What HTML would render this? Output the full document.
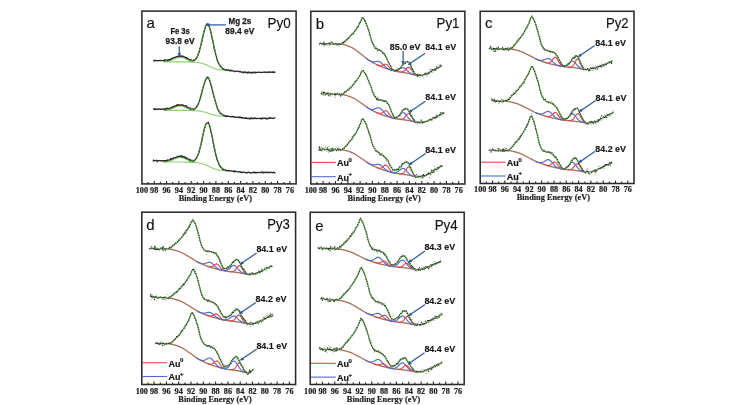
<!DOCTYPE html>
<html><head><meta charset="utf-8"><title>XPS Au 4f spectra</title>
<style>
html,body{margin:0;padding:0;background:#fff;}
body{width:754px;height:405px;overflow:hidden;}
svg{display:block;filter:blur(0.45px);}
.tk{font-family:"Liberation Serif",serif;font-weight:bold;font-size:8.2px;fill:#1a1a1a;stroke:#1a1a1a;stroke-width:0.2px;}
.xl{font-family:"Liberation Serif",serif;font-weight:bold;font-size:8.3px;fill:#222;stroke:#222;stroke-width:0.2px;}
.pl{font-family:"Liberation Sans",sans-serif;font-size:15px;fill:#111;stroke:#111;stroke-width:0.15px;}
.py{font-family:"Liberation Sans",sans-serif;font-size:14.8px;fill:#111;stroke:#111;stroke-width:0.15px;}
.lb{font-family:"Liberation Sans",sans-serif;font-weight:bold;font-size:9px;fill:#151515;stroke:#151515;stroke-width:0.12px;}
.ab{font-family:"Liberation Sans",sans-serif;font-weight:bold;font-size:9px;fill:#1a1a1a;stroke:#1a1a1a;stroke-width:0.25px;}
.lg{font-family:"Liberation Sans",sans-serif;font-weight:bold;font-size:9px;fill:#151515;stroke:#151515;stroke-width:0.2px;}
.sup{font-size:6.0px;}
</style></head>
<body>
<svg width="754" height="405" viewBox="0 0 754 405">
<defs><marker id="ah" viewBox="0 0 10 10" refX="8" refY="5" markerWidth="3" markerHeight="3" orient="auto"><path d="M0,0 L10,5 L0,10 z" fill="#2d5c98"/></marker></defs>
<rect width="754" height="405" fill="#fff"/>
<path d="M163.4 61.8L163.9 61.8L164.4 61.8L164.8 61.8L165.3 61.8L165.8 61.8L166.3 61.8L166.8 61.8L167.3 61.8L167.8 61.8L168.3 61.8L168.8 61.8L169.3 61.8L169.8 61.8L170.3 61.8L170.8 61.8L171.3 61.8L171.8 61.8L172.2 61.8L172.7 61.8L173.2 61.8L173.7 61.8L174.2 61.8L174.7 61.8L175.2 61.8L175.7 61.8L176.2 61.8L176.7 61.8L177.2 61.8L177.7 61.8L178.2 61.8L178.7 61.8L179.2 61.8L179.6 61.8L180.1 61.8L180.6 61.8L181.1 61.8L181.6 61.8L182.1 61.8L182.6 61.8L183.1 61.8L183.6 61.8L184.1 61.8L184.6 61.8L185.1 61.8L185.6 61.9L186.1 61.9L186.6 61.9L187 61.9L187.5 61.9L188 61.9L188.5 61.9L189 61.9L189.5 61.9L190 61.9L190.5 62L191 62L191.5 62L192 62L192.5 62L193 62.1L193.5 62.1L194 62.1L194.5 62.2L194.9 62.2L195.4 62.2L195.9 62.3L196.4 62.3L196.9 62.4L197.4 62.4L197.9 62.5L198.4 62.6L198.9 62.7L199.4 62.8L199.9 62.8L200.4 63L200.9 63.1L201.4 63.2L201.9 63.3L202.3 63.4L202.8 63.6L203.3 63.8L203.8 63.9L204.3 64.1L204.8 64.3L205.3 64.5L205.8 64.7L206.3 64.9L206.8 65.1L207.3 65.3L207.8 65.6L208.3 65.8L208.8 66L209.3 66.3L209.7 66.5L210.2 66.7L210.7 67L211.2 67.2L211.7 67.4L212.2 67.6L212.7 67.8L213.2 68L213.7 68.2L214.2 68.4L214.7 68.6L215.2 68.7L215.7 68.9L216.2 69L216.7 69.2L217.1 69.3L217.6 69.4L218.1 69.5L218.6 69.6L219.1 69.7L219.6 69.8L220.1 69.8L220.6 69.9L221.1 70L221.6 70L222.1 70.1L222.6 70.1L223.1 70.2L223.6 70.2L224.1 70.3L224.6 70.3L225 70.3L225.5 70.4L226 70.4L226.5 70.4L227 70.4L227.5 70.4L228 70.5L228.5 70.5L229 70.5L229.5 70.5" fill="none" stroke="#92d276" stroke-width="1.15" stroke-linejoin="round" />
<path d="M189 61.8L189.5 61.8L190 61.8L190.5 61.8L191 61.7L191.5 61.7L192 61.6L192.5 61.5L193 61.3L193.5 61.1L194 60.9L194.5 60.6L194.9 60.2L195.4 59.7L195.9 59.1L196.4 58.4L196.9 57.6L197.4 56.7L197.9 55.6L198.4 54.4L198.9 53L199.4 51.4L199.9 49.7L200.4 47.9L200.9 45.9L201.4 43.9L201.9 41.7L202.3 39.5L202.8 37.4L203.3 35.2L203.8 33.2L204.3 31.2L204.8 29.5L205.3 28L205.8 26.7L206.3 25.7L206.8 25.1L207.3 24.8L207.8 24.8L208.3 25.2L208.8 26L209.3 27L209.7 28.4L210.2 30.1L210.7 32L211.2 34L211.7 36.3L212.2 38.6L212.7 41L213.2 43.4L213.7 45.8L214.2 48.1L214.7 50.3L215.2 52.5L215.7 54.4L216.2 56.3L216.7 58L217.1 59.6L217.6 61L218.1 62.2L218.6 63.4L219.1 64.4L219.6 65.2L220.1 66L220.6 66.7L221.1 67.2L221.6 67.7L222.1 68.2L222.6 68.5L223.1 68.9L223.6 69.1L224.1 69.3L224.6 69.5L225 69.7L225.5 69.8" fill="none" stroke="#72bf56" stroke-width="1.1" stroke-linejoin="round" />
<path d="M163.4 61.7L163.9 61.7L164.4 61.6L164.8 61.6L165.3 61.5L165.8 61.5L166.3 61.4L166.8 61.4L167.3 61.3L167.8 61.2L168.3 61.1L168.8 61L169.3 60.8L169.8 60.7L170.3 60.5L170.8 60.4L171.3 60.2L171.8 60L172.2 59.8L172.7 59.6L173.2 59.3L173.7 59.1L174.2 58.9L174.7 58.7L175.2 58.5L175.7 58.3L176.2 58.1L176.7 57.9L177.2 57.7L177.7 57.6L178.2 57.4L178.7 57.3L179.2 57.3L179.6 57.2L180.1 57.2L180.6 57.2L181.1 57.3L181.6 57.4L182.1 57.5L182.6 57.6L183.1 57.7L183.6 57.9L184.1 58.1L184.6 58.3L185.1 58.5L185.6 58.7L186.1 59L186.6 59.2L187 59.4L187.5 59.6L188 59.9L188.5 60.1L189 60.3L189.5 60.5L190 60.7L190.5 60.8L191 61L191.5 61.1L192 61.3L192.5 61.4L193 61.5L193.5 61.6L194 61.7" fill="none" stroke="#72bf56" stroke-width="1.1" stroke-linejoin="round" />
<path d="M153 60.7L153.5 60.8L154 60.7L154.5 60.2L155 60.9L155.5 60.7L156 60.4L156.5 60.8L156.9 60.7L157.4 60.7L157.9 60.6L158.4 60.8L158.9 60.4L159.4 60.5L159.9 60.4L160.4 60.8L160.9 60.6L161.4 60.5L161.9 60.3L162.4 60.5L162.9 60.5L163.4 60.4L163.9 60.8L164.4 60.7L164.8 59.6L165.3 59.8L165.8 60.2L166.3 60.1L166.8 60.2L167.3 60.1L167.8 60.6L168.3 59.5L168.8 59.6L169.3 60.2L169.8 59.7L170.3 59.5L170.8 59L171.3 58.5L171.8 58.8L172.2 58.6L172.7 58L173.2 57.9L173.7 57.9L174.2 57.4L174.7 57.5L175.2 57.3L175.7 57.1L176.2 56.7L176.7 56.9L177.2 56.8L177.7 56.5L178.2 56L178.7 56.4L179.2 55.9L179.6 56.3L180.1 55.7L180.6 56.3L181.1 56.1L181.6 55.8L182.1 56.2L182.6 56.4L183.1 56.6L183.6 56.4L184.1 56.6L184.6 57.2L185.1 57.2L185.6 57.6L186.1 58L186.6 57.6L187 58.4L187.5 58.9L188 58.7L188.5 58.8L189 59.5L189.5 59.6L190 60L190.5 59.9L191 59.7L191.5 60.3L192 60.3L192.5 60.7L193 60.6L193.5 60L194 60L194.5 60.4L194.9 60L195.4 59.1L195.9 58.8L196.4 58.2L196.9 57.4L197.4 56.5L197.9 55.2L198.4 53.8L198.9 52.3L199.4 51.1L199.9 48.4L200.4 47.1L200.9 45.2L201.4 42.6L201.9 41L202.3 38.5L202.8 36.8L203.3 34.3L203.8 32.5L204.3 30.8L204.8 28.8L205.3 26.9L205.8 25.4L206.3 25.5L206.8 24.3L207.3 23.8L207.8 24.2L208.3 24.5L208.8 25.6L209.3 26.5L209.7 27.9L210.2 29.3L210.7 31.6L211.2 33.3L211.7 36L212.2 38.6L212.7 40.1L213.2 42.3L213.7 45.6L214.2 48.6L214.7 49.7L215.2 51.8L215.7 54.4L216.2 55.8L216.7 57.7L217.1 59.3L217.6 61L218.1 62L218.6 63.3L219.1 64.2L219.6 64.9L220.1 65.8L220.6 66.3L221.1 67.2L221.6 67.3L222.1 67.8L222.6 68.9L223.1 68.8L223.6 69.1L224.1 69.5L224.6 69.4L225 69.6L225.5 69.9L226 70L226.5 69.7L227 70.4L227.5 70L228 69.9L228.5 70.1L229 70.3L229.5 71L230 70.2L230.5 70.7L231 70.1L231.5 70.8L232 71.1L232.4 70.8L232.9 70.7L233.4 71.1L233.9 71.2L234.4 71.3L234.9 71.7L235.4 71.2L235.9 71.1L236.4 71.2L236.9 71.3L237.4 71.4L237.9 71.4L238.4 71.5L238.9 71.1L239.4 71.9L239.8 71.5L240.3 71.4L240.8 72L241.3 72.3L241.8 72.1L242.3 72.1L242.8 71.8L243.3 73L243.8 72.5L244.3 71.9L244.8 72.1L245.3 72.4L245.8 72L246.3 72.6L246.8 72.5L247.2 73L247.7 72.9L248.2 71.8L248.7 72.6L249.2 72.1L249.7 72.9L250.2 72.6L250.7 72.7L251.2 72.2L251.7 73.1L252.2 73.1L252.7 72.2L253.2 72.6L253.7 72.3L254.2 72.5L254.7 72.1L255.1 73.1L255.6 72.2L256.1 72.4L256.6 72.6L257.1 72.3L257.6 72.4L258.1 72.3L258.6 72.4L259.1 72.1L259.6 72.3L260.1 72.4L260.6 72.3L261.1 72.4L261.6 72.3L262.1 72.6L262.5 72.3L263 72.3L263.5 72.2L264 72.2L264.5 72L265 72.5L265.5 72L266 72.1L266.5 72.5L267 72.5L267.5 72.2L268 71.7L268.5 72.4L269 72.4L269.5 71.9L269.9 72.5L270.4 72.1L270.9 71.9L271.4 72.3L271.9 72.2L272.4 72.3L272.9 71.8L273.4 72.8L273.9 72.1L274.4 71.8L274.9 72.4L275.4 72.1" fill="none" stroke="#2b2b2b" stroke-width="1.25" stroke-linejoin="round" />
<path d="M187.7 59.6L188.2 59.8L188.7 60L189.2 60.2L189.7 60.3L190.2 60.5L190.6 60.6L191.1 60.6L191.6 60.7L192.1 60.6L192.6 60.6L193.1 60.5L193.6 60.3L194.1 60.1L194.6 59.7L195.1 59.3L195.6 58.8L196.1 58.1L196.6 57.3L197.1 56.4L197.6 55.3L198 54.1L198.5 52.7L199 51.2L199.5 49.5L200 47.7L200.5 45.7L201 43.6L201.5 41.5L202 39.3L202.5 37.2L203 35L203.5 33L204 31L204.5 29.3L205 27.8L205.5 26.5L205.9 25.5L206.4 24.9L206.9 24.6L208.1 24.6L208.6 25L209.1 25.8L209.6 26.8L210.1 28.2L210.6 29.9L211.1 31.8L211.6 33.8L212.1 36.1L212.6 38.4L213.1 40.8L213.6 43.2L214 45.6L214.5 47.9L215 50.1L215.5 52.3L216 54.2L216.5 56.1L217 57.8L217.5 59.4L218 60.8L218.5 62L219 63.2L219.5 64.2L220 65L220.5 65.8L221 66.5L221.4 67L221.9 67.5L222.4 68L222.9 68.3L223.4 68.7L223.9 68.9L224.4 69.1L224.9 69.3" fill="none" stroke="#72bf56" stroke-width="0.95" stroke-linejoin="round" stroke-dasharray="2.2 1.3"/>
<path d="M163.4 110.4L163.9 110.4L164.4 110.4L164.8 110.4L165.3 110.4L165.8 110.4L166.3 110.4L166.8 110.4L167.3 110.4L167.8 110.4L168.3 110.4L168.8 110.4L169.3 110.4L169.8 110.4L170.3 110.4L170.8 110.4L171.3 110.4L171.8 110.4L172.2 110.4L172.7 110.4L173.2 110.4L173.7 110.4L174.2 110.4L174.7 110.4L175.2 110.4L175.7 110.4L176.2 110.4L176.7 110.4L177.2 110.4L177.7 110.4L178.2 110.4L178.7 110.4L179.2 110.4L179.6 110.4L180.1 110.4L180.6 110.4L181.1 110.4L181.6 110.4L182.1 110.4L182.6 110.4L183.1 110.4L183.6 110.4L184.1 110.4L184.6 110.4L185.1 110.4L185.6 110.4L186.1 110.4L186.6 110.4L187 110.5L187.5 110.5L188 110.5L188.5 110.5L189 110.5L189.5 110.5L190 110.5L190.5 110.5L191 110.5L191.5 110.5L192 110.5L192.5 110.6L193 110.6L193.5 110.6L194 110.6L194.5 110.6L194.9 110.7L195.4 110.7L195.9 110.7L196.4 110.8L196.9 110.8L197.4 110.9L197.9 110.9L198.4 111L198.9 111L199.4 111.1L199.9 111.1L200.4 111.2L200.9 111.3L201.4 111.4L201.9 111.5L202.3 111.6L202.8 111.7L203.3 111.8L203.8 111.9L204.3 112L204.8 112.1L205.3 112.3L205.8 112.4L206.3 112.6L206.8 112.7L207.3 112.9L207.8 113L208.3 113.2L208.8 113.4L209.3 113.5L209.7 113.7L210.2 113.9L210.7 114L211.2 114.2L211.7 114.3L212.2 114.5L212.7 114.6L213.2 114.8L213.7 114.9L214.2 115L214.7 115.2L215.2 115.3L215.7 115.4L216.2 115.5L216.7 115.6L217.1 115.7L217.6 115.8L218.1 115.8L218.6 115.9L219.1 116L219.6 116L220.1 116.1L220.6 116.1L221.1 116.2L221.6 116.2L222.1 116.2L222.6 116.3L223.1 116.3L223.6 116.3L224.1 116.4L224.6 116.4L225 116.4L225.5 116.4L226 116.4L226.5 116.5L227 116.5L227.5 116.5L228 116.5L228.5 116.5L229 116.5L229.5 116.5" fill="none" stroke="#92d276" stroke-width="1.15" stroke-linejoin="round" />
<path d="M189 110.4L189.5 110.4L190 110.4L190.5 110.4L191 110.3L191.5 110.3L192 110.2L192.5 110.1L193 110L193.5 109.8L194 109.6L194.5 109.3L194.9 109L195.4 108.5L195.9 108L196.4 107.4L196.9 106.7L197.4 105.9L197.9 105L198.4 103.9L198.9 102.7L199.4 101.4L199.9 99.9L200.4 98.3L200.9 96.6L201.4 94.8L201.9 93L202.3 91.1L202.8 89.2L203.3 87.4L203.8 85.6L204.3 83.9L204.8 82.4L205.3 81L205.8 79.9L206.3 79.1L206.8 78.5L207.3 78.2L207.8 78.2L208.3 78.5L208.8 79.1L209.3 80L209.7 81.1L210.2 82.5L210.7 84.1L211.2 85.8L211.7 87.7L212.2 89.7L212.7 91.7L213.2 93.7L213.7 95.7L214.2 97.7L214.7 99.6L215.2 101.4L215.7 103L216.2 104.6L216.7 106.1L217.1 107.4L217.6 108.6L218.1 109.6L218.6 110.6L219.1 111.4L219.6 112.1L220.1 112.8L220.6 113.3L221.1 113.8L221.6 114.2L222.1 114.6L222.6 114.9L223.1 115.2L223.6 115.4L224.1 115.6L224.6 115.7L225 115.9L225.5 116" fill="none" stroke="#72bf56" stroke-width="1.1" stroke-linejoin="round" />
<path d="M163.4 110.3L163.9 110.3L164.4 110.2L164.8 110.2L165.3 110.1L165.8 110.1L166.3 110L166.8 110L167.3 109.9L167.8 109.8L168.3 109.7L168.8 109.6L169.3 109.4L169.8 109.3L170.3 109.2L170.8 109L171.3 108.8L171.8 108.6L172.2 108.4L172.7 108.2L173.2 108L173.7 107.8L174.2 107.6L174.7 107.3L175.2 107.1L175.7 106.9L176.2 106.7L176.7 106.6L177.2 106.4L177.7 106.3L178.2 106.1L178.7 106L179.2 106L179.6 105.9L180.1 105.9L180.6 105.9L181.1 106L181.6 106L182.1 106.1L182.6 106.3L183.1 106.4L183.6 106.6L184.1 106.8L184.6 107L185.1 107.2L185.6 107.4L186.1 107.6L186.6 107.8L187 108L187.5 108.3L188 108.5L188.5 108.7L189 108.9L189.5 109.1L190 109.2L190.5 109.4L191 109.6L191.5 109.7L192 109.8L192.5 110L193 110.1L193.5 110.2L194 110.3" fill="none" stroke="#72bf56" stroke-width="1.1" stroke-linejoin="round" />
<path d="M153 109.3L153.5 109L154 109.1L154.5 108.5L155 109.7L155.5 109.5L156 109.1L156.5 109.4L156.9 109.3L157.4 109L157.9 109.5L158.4 109.1L158.9 109.1L159.4 108.9L159.9 109.3L160.4 109.1L160.9 109.3L161.4 109L161.9 109.2L162.4 108.9L162.9 109.4L163.4 109.1L163.9 109.2L164.4 109.2L164.8 108.7L165.3 109.2L165.8 109.5L166.3 108.3L166.8 108.2L167.3 108.2L167.8 108.8L168.3 108.5L168.8 108.7L169.3 108.5L169.8 108.2L170.3 108L170.8 107.7L171.3 107.9L171.8 107.1L172.2 107.1L172.7 107.1L173.2 107.3L173.7 106.4L174.2 106L174.7 106L175.2 106.2L175.7 105.7L176.2 105.9L176.7 104.8L177.2 105.5L177.7 105.4L178.2 104.5L178.7 104.9L179.2 105.1L179.6 104.8L180.1 105L180.6 105.4L181.1 104.9L181.6 104.8L182.1 104.7L182.6 105.3L183.1 105.2L183.6 105.3L184.1 105.5L184.6 106L185.1 105.7L185.6 105.8L186.1 105.7L186.6 107.1L187 107L187.5 107.6L188 107.4L188.5 107.5L189 108.1L189.5 108.1L190 108L190.5 108.3L191 109.3L191.5 109L192 109.2L192.5 109L193 108.9L193.5 109.4L194 109L194.5 108.6L194.9 108.5L195.4 107.9L195.9 107.8L196.4 107.4L196.9 106.1L197.4 106L197.9 104.3L198.4 103.5L198.9 101.9L199.4 100.7L199.9 99.2L200.4 97.5L200.9 95.6L201.4 93.8L201.9 91.9L202.3 89.8L202.8 88.3L203.3 86.6L203.8 85L204.3 83.3L204.8 82.3L205.3 80.3L205.8 79L206.3 78.9L206.8 77.4L207.3 77.8L207.8 77.2L208.3 77.9L208.8 77.9L209.3 79.7L209.7 80.5L210.2 81.7L210.7 84.1L211.2 85.6L211.7 87.3L212.2 89L212.7 91.3L213.2 93.3L213.7 95.6L214.2 97.6L214.7 99.1L215.2 100.9L215.7 102.6L216.2 104L216.7 105.7L217.1 107.2L217.6 108.6L218.1 109.9L218.6 110.2L219.1 111.4L219.6 111.9L220.1 113.3L220.6 113.2L221.1 113.9L221.6 113.9L222.1 114.3L222.6 114.9L223.1 115L223.6 115.4L224.1 115.1L224.6 115.9L225 115.6L225.5 116.5L226 116L226.5 116.5L227 115.8L227.5 116.4L228 116.1L228.5 116.2L229 116.5L229.5 116.4L230 116.7L230.5 116.9L231 116.9L231.5 116.7L232 116.4L232.4 116.6L232.9 116.8L233.4 116.3L233.9 117.2L234.4 116.9L234.9 116.9L235.4 117.3L235.9 117.3L236.4 117.2L236.9 116.8L237.4 117.3L237.9 117.3L238.4 117L238.9 117.7L239.4 117.6L239.8 116.9L240.3 117.6L240.8 117.2L241.3 118L241.8 118L242.3 117.5L242.8 117.6L243.3 118L243.8 117.9L244.3 118.5L244.8 118.4L245.3 118.1L245.8 118.4L246.3 117.7L246.8 118.5L247.2 118.7L247.7 118.3L248.2 118.2L248.7 118.6L249.2 119L249.7 118.5L250.2 118.1L250.7 118.8L251.2 117.8L251.7 118.5L252.2 118.2L252.7 118.7L253.2 118.1L253.7 118.8L254.2 118.5L254.7 117.9L255.1 117.8L255.6 118.3L256.1 118.8L256.6 118.4L257.1 118.4L257.6 118.3L258.1 118.6L258.6 118.5L259.1 118.4L259.6 118.1L260.1 118.7L260.6 118.8L261.1 118L261.6 119L262.1 118.6L262.5 118.2L263 117.8L263.5 118.5L264 118.5L264.5 118.2L265 117.8L265.5 118.7L266 118.2L266.5 118.2L267 119.2L267.5 119L268 118.6L268.5 118.2L269 118.5L269.5 117.6L269.9 118.4L270.4 118.1L270.9 117.9L271.4 117.8L271.9 118.5L272.4 118.3L272.9 118.4L273.4 118.6L273.9 118.1L274.4 117.9L274.9 117.8L275.4 118.2" fill="none" stroke="#2b2b2b" stroke-width="1.25" stroke-linejoin="round" />
<path d="M187.7 108.3L188.2 108.4L188.7 108.6L189.2 108.8L189.7 108.9L190.2 109.1L190.6 109.2L191.1 109.2L191.6 109.3L192.1 109.3L192.6 109.2L193.1 109.1L193.6 109L194.1 108.8L194.6 108.5L195.1 108.1L195.6 107.7L196.1 107.1L196.6 106.4L197.1 105.6L197.6 104.7L198 103.7L198.5 102.5L199 101.1L199.5 99.7L200 98.1L200.5 96.4L201 94.6L201.5 92.8L202 90.9L202.5 89L203 87.2L203.5 85.4L204 83.7L204.5 82.2L205 80.8L205.5 79.7L205.9 78.9L206.4 78.3L206.9 78L208.1 78L208.6 78.3L209.1 78.9L209.6 79.8L210.1 80.9L210.6 82.3L211.1 83.9L211.6 85.6L212.1 87.5L212.6 89.5L213.1 91.5L213.6 93.5L214 95.5L214.5 97.5L215 99.4L215.5 101.2L216 102.8L216.5 104.4L217 105.9L217.5 107.2L218 108.4L218.5 109.4L219 110.4L219.5 111.2L220 111.9L220.5 112.6L221 113.1L221.4 113.6L221.9 114L222.4 114.4L222.9 114.7L223.4 115L223.9 115.2L224.4 115.4L224.9 115.5" fill="none" stroke="#72bf56" stroke-width="0.95" stroke-linejoin="round" stroke-dasharray="2.2 1.3"/>
<path d="M163.4 162L163.9 162L164.4 162L164.8 162L165.3 162L165.8 162L166.3 162L166.8 162L167.3 162L167.8 162L168.3 162L168.8 162L169.3 162L169.8 162L170.3 162L170.8 162L171.3 162L171.8 162L172.2 162L172.7 162L173.2 162L173.7 162L174.2 162L174.7 162L175.2 162L175.7 162L176.2 162L176.7 162L177.2 162L177.7 162L178.2 162L178.7 162L179.2 162L179.6 162L180.1 162L180.6 162L181.1 162L181.6 162L182.1 162L182.6 162L183.1 162L183.6 162L184.1 162L184.6 162L185.1 162L185.6 162.1L186.1 162.1L186.6 162.1L187 162.1L187.5 162.1L188 162.1L188.5 162.1L189 162.1L189.5 162.1L190 162.1L190.5 162.2L191 162.2L191.5 162.2L192 162.2L192.5 162.2L193 162.3L193.5 162.3L194 162.3L194.5 162.4L194.9 162.4L195.4 162.4L195.9 162.5L196.4 162.5L196.9 162.6L197.4 162.7L197.9 162.7L198.4 162.8L198.9 162.9L199.4 163L199.9 163.1L200.4 163.2L200.9 163.3L201.4 163.4L201.9 163.5L202.3 163.7L202.8 163.8L203.3 164L203.8 164.2L204.3 164.4L204.8 164.5L205.3 164.7L205.8 164.9L206.3 165.2L206.8 165.4L207.3 165.6L207.8 165.8L208.3 166.1L208.8 166.3L209.3 166.6L209.7 166.8L210.2 167L210.7 167.3L211.2 167.5L211.7 167.7L212.2 167.9L212.7 168.2L213.2 168.4L213.7 168.6L214.2 168.7L214.7 168.9L215.2 169.1L215.7 169.2L216.2 169.4L216.7 169.5L217.1 169.6L217.6 169.8L218.1 169.9L218.6 170L219.1 170.1L219.6 170.2L220.1 170.2L220.6 170.3L221.1 170.4L221.6 170.4L222.1 170.5L222.6 170.5L223.1 170.6L223.6 170.6L224.1 170.7L224.6 170.7L225 170.7L225.5 170.7L226 170.8L226.5 170.8L227 170.8L227.5 170.8L228 170.9L228.5 170.9L229 170.9L229.5 170.9" fill="none" stroke="#92d276" stroke-width="1.15" stroke-linejoin="round" />
<path d="M189 162L189.5 162L190 162L190.5 162L191 161.9L191.5 161.9L192 161.8L192.5 161.6L193 161.5L193.5 161.3L194 161L194.5 160.7L194.9 160.3L195.4 159.8L195.9 159.2L196.4 158.5L196.9 157.6L197.4 156.6L197.9 155.5L198.4 154.2L198.9 152.7L199.4 151.1L199.9 149.3L200.4 147.3L200.9 145.3L201.4 143.1L201.9 140.9L202.3 138.6L202.8 136.3L203.3 134L203.8 131.9L204.3 129.8L204.8 128L205.3 126.4L205.8 125L206.3 124L206.8 123.3L207.3 123L207.8 123L208.3 123.4L208.8 124.2L209.3 125.3L209.7 126.8L210.2 128.5L210.7 130.5L211.2 132.7L211.7 135L212.2 137.5L212.7 140L213.2 142.5L213.7 145L214.2 147.4L214.7 149.8L215.2 152L215.7 154.1L216.2 156L216.7 157.8L217.1 159.5L217.6 160.9L218.1 162.3L218.6 163.4L219.1 164.5L219.6 165.4L220.1 166.2L220.6 166.9L221.1 167.5L221.6 168L222.1 168.5L222.6 168.8L223.1 169.2L223.6 169.5L224.1 169.7L224.6 169.9L225 170.1L225.5 170.2" fill="none" stroke="#72bf56" stroke-width="1.1" stroke-linejoin="round" />
<path d="M163.4 161.9L163.9 161.9L164.4 161.8L164.8 161.8L165.3 161.7L165.8 161.7L166.3 161.6L166.8 161.6L167.3 161.5L167.8 161.4L168.3 161.3L168.8 161.2L169.3 161L169.8 160.9L170.3 160.7L170.8 160.6L171.3 160.4L171.8 160.2L172.2 160L172.7 159.8L173.2 159.5L173.7 159.3L174.2 159.1L174.7 158.9L175.2 158.7L175.7 158.5L176.2 158.3L176.7 158.1L177.2 157.9L177.7 157.8L178.2 157.6L178.7 157.5L179.2 157.5L179.6 157.4L180.1 157.4L180.6 157.4L181.1 157.5L181.6 157.6L182.1 157.7L182.6 157.8L183.1 157.9L183.6 158.1L184.1 158.3L184.6 158.5L185.1 158.7L185.6 158.9L186.1 159.2L186.6 159.4L187 159.6L187.5 159.8L188 160.1L188.5 160.3L189 160.5L189.5 160.7L190 160.9L190.5 161L191 161.2L191.5 161.3L192 161.5L192.5 161.6L193 161.7L193.5 161.8L194 162" fill="none" stroke="#72bf56" stroke-width="1.1" stroke-linejoin="round" />
<path d="M153 161.4L153.5 160L154 160.9L154.5 160.6L155 160.7L155.5 160.7L156 160.2L156.5 160.7L156.9 160.5L157.4 161.8L157.9 160.9L158.4 160.7L158.9 160.7L159.4 160.6L159.9 160.5L160.4 160.7L160.9 160.9L161.4 160.7L161.9 161L162.4 160.7L162.9 160.7L163.4 161.2L163.9 160.8L164.4 160.5L164.8 160.5L165.3 160.7L165.8 161.1L166.3 160.3L166.8 160.3L167.3 160.6L167.8 159.9L168.3 160L168.8 160.2L169.3 160L169.8 159.7L170.3 159.7L170.8 158.5L171.3 159.5L171.8 158.7L172.2 158.3L172.7 158.6L173.2 158.6L173.7 158L174.2 157.6L174.7 157.7L175.2 157.5L175.7 157.7L176.2 157.3L176.7 156.9L177.2 157L177.7 156.5L178.2 156.2L178.7 156.5L179.2 156.4L179.6 156.2L180.1 156L180.6 156.3L181.1 155.5L181.6 156.6L182.1 156.6L182.6 156.1L183.1 156.8L183.6 156.6L184.1 157.3L184.6 156.7L185.1 157.3L185.6 158L186.1 158.4L186.6 157.6L187 158.4L187.5 158.9L188 158.8L188.5 159.7L189 159.2L189.5 159.8L190 159.6L190.5 160.6L191 160.3L191.5 160.4L192 160.1L192.5 161.2L193 160.9L193.5 160.8L194 160.8L194.5 160.3L194.9 159.7L195.4 159.2L195.9 158.6L196.4 158.5L196.9 156.8L197.4 156L197.9 154.9L198.4 153.7L198.9 152.3L199.4 150.1L199.9 148.1L200.4 146.6L200.9 144.9L201.4 142.5L201.9 140.1L202.3 137.6L202.8 135.5L203.3 133.1L203.8 131.2L204.3 128.7L204.8 127.2L205.3 125.5L205.8 124.4L206.3 123.3L206.8 123.3L207.3 122.7L207.8 122.8L208.3 122.2L208.8 123.5L209.3 124.6L209.7 126.4L210.2 127.3L210.7 130.4L211.2 132.5L211.7 134.2L212.2 136.8L212.7 139.3L213.2 142.1L213.7 144.8L214.2 147.7L214.7 149.4L215.2 152L215.7 153.9L216.2 156.3L216.7 157.8L217.1 159.7L217.6 160.4L218.1 162L218.6 163.1L219.1 164.8L219.6 165.5L220.1 166L220.6 166.7L221.1 167.6L221.6 167.7L222.1 168.1L222.6 168.9L223.1 169.9L223.6 169.3L224.1 169.5L224.6 169.5L225 169.6L225.5 170.3L226 170.6L226.5 170.4L227 170.6L227.5 170.6L228 170.7L228.5 170.3L229 170.7L229.5 170.9L230 170.7L230.5 170.8L231 170.8L231.5 171L232 171.4L232.4 171L232.9 171.1L233.4 171.5L233.9 171.4L234.4 171.8L234.9 170.7L235.4 171.6L235.9 171.2L236.4 171.5L236.9 171.7L237.4 171.8L237.9 171.8L238.4 171.6L238.9 172.1L239.4 171.6L239.8 171.7L240.3 172.1L240.8 171.7L241.3 172.6L241.8 172.3L242.3 172.7L242.8 172.1L243.3 172.1L243.8 172.3L244.3 172.5L244.8 172.2L245.3 172.5L245.8 172.5L246.3 173L246.8 172.4L247.2 172.9L247.7 172.4L248.2 172.3L248.7 172.4L249.2 172.2L249.7 172.6L250.2 172.9L250.7 172.6L251.2 172.8L251.7 173.1L252.2 172.7L252.7 172.6L253.2 172.5L253.7 172.1L254.2 172.8L254.7 172L255.1 172.8L255.6 172.6L256.1 172.9L256.6 172.5L257.1 172.3L257.6 172.7L258.1 172.4L258.6 172.5L259.1 172.6L259.6 172.5L260.1 172.5L260.6 172.3L261.1 172.5L261.6 171.9L262.1 172.5L262.5 172.2L263 172.9L263.5 172.9L264 172L264.5 172.6L265 172.5L265.5 172.2L266 172.7L266.5 172.4L267 172L267.5 172.5L268 172.5L268.5 172.6L269 172.2L269.5 172.7L269.9 172.7L270.4 172.2L270.9 172.3L271.4 172.5L271.9 172.3L272.4 173L272.9 172.6L273.4 172.2L273.9 172.3L274.4 172.5L274.9 173.2L275.4 172.5" fill="none" stroke="#2b2b2b" stroke-width="1.25" stroke-linejoin="round" />
<path d="M187.7 159.8L188.2 160L188.7 160.2L189.2 160.4L189.7 160.5L190.2 160.7L190.6 160.8L191.1 160.8L191.6 160.8L192.1 160.8L192.6 160.8L193.1 160.6L193.6 160.4L194.1 160.2L194.6 159.8L195.1 159.4L195.6 158.8L196.1 158.1L196.6 157.3L197.1 156.3L197.6 155.2L198 153.9L198.5 152.4L199 150.8L199.5 149L200 147.1L200.5 145.1L201 142.9L201.5 140.7L202 138.4L202.5 136.1L203 133.8L203.5 131.7L204 129.6L204.5 127.8L205 126.2L205.5 124.8L205.9 123.8L206.4 123.1L206.9 122.8L208.1 122.8L208.6 123.2L209.1 124L209.6 125.1L210.1 126.6L210.6 128.3L211.1 130.3L211.6 132.5L212.1 134.8L212.6 137.3L213.1 139.8L213.6 142.3L214 144.8L214.5 147.2L215 149.6L215.5 151.8L216 153.9L216.5 155.8L217 157.6L217.5 159.3L218 160.7L218.5 162.1L219 163.2L219.5 164.3L220 165.2L220.5 166L221 166.7L221.4 167.3L221.9 167.8L222.4 168.3L222.9 168.6L223.4 169L223.9 169.3L224.4 169.5L224.9 169.7" fill="none" stroke="#72bf56" stroke-width="0.95" stroke-linejoin="round" stroke-dasharray="2.2 1.3"/>
<path d="M340.4 44L340.9 44.1L341.4 44.1L341.9 44.2L342.4 44.3L342.9 44.4L343.4 44.5L343.9 44.7L344.4 44.8L344.9 44.9L345.4 45.1L345.9 45.3L346.4 45.4L346.9 45.6L347.4 45.8L347.9 46L348.4 46.2L348.9 46.4L349.4 46.5L349.9 46.8L350.4 47L350.9 47.2L351.4 47.4L351.9 47.6L352.4 47.9L352.9 48.2L353.4 48.5L353.9 48.8L354.4 49.1L354.9 49.5L355.4 49.8L355.9 50.2L356.4 50.6L356.9 50.9L357.4 51.3L357.9 51.7L358.4 52.1L358.9 52.5L359.4 52.9L359.9 53.2L360.4 53.6L360.9 54L361.4 54.3L361.9 54.7L362.4 55.1L362.9 55.5L363.4 55.9L363.9 56.3L364.4 56.7L364.9 57.1L365.4 57.6L365.9 58L366.4 58.4L366.9 58.8L367.4 59.2L367.9 59.5L368.4 59.9L368.9 60.3L369.4 60.6L369.9 60.9L370.4 61.2L370.9 61.5L371.4 61.8L371.9 62.1L372.4 62.4L372.9 62.7L373.4 62.9L373.9 63.2L374.4 63.5L374.9 63.7L375.4 64L375.9 64.2L376.4 64.5L376.9 64.7L377.4 65L377.9 65.2L378.4 65.4L378.9 65.7L379.4 65.9L379.9 66.1L380.4 66.3L380.9 66.5L381.4 66.7L381.9 66.9L382.4 67.1L382.9 67.3L383.4 67.5L383.9 67.7L384.4 67.8L384.9 68L385.4 68.2L385.9 68.4L386.4 68.6L386.9 68.7L387.4 68.9L387.9 69.1L388.4 69.2L388.9 69.4L389.4 69.5L389.9 69.7L390.4 69.8L390.9 70L391.4 70.1L391.9 70.3L392.4 70.4L392.9 70.5L393.4 70.7L393.9 70.8L394.4 70.9L394.9 71L395.4 71.2L395.9 71.3L396.4 71.4L396.9 71.5L397.4 71.6L397.9 71.6L398.4 71.7L398.9 71.8L399.4 71.9L399.9 72L400.4 72L400.9 72.1L401.4 72.2L401.9 72.3L402.4 72.3L402.9 72.4L403.4 72.5L403.9 72.5L404.4 72.6L404.9 72.7L405.4 72.8L405.9 72.9L406.4 73L406.9 73.1L407.4 73.2L407.9 73.3L408.4 73.4L408.9 73.5L409.4 73.6L409.9 73.7L410.4 73.8L410.9 74L411.4 74.1L411.9 74.2L412.4 74.3L412.9 74.5L413.4 74.6L413.9 74.7L414.4 74.9L414.9 75L415.4 75.1L415.9 75.3L416.4 75.4L416.9 75.6" fill="none" stroke="#a96f58" stroke-width="1.3" stroke-linejoin="round" />
<path d="M366.2 58.2L366.7 58.6L367.2 59L367.7 59.3L368.2 59.7L368.7 60L369.2 60.3L369.7 60.6L370.2 60.9L370.7 61.1L371.2 61.3L371.7 61.5L372.2 61.6L372.7 61.7L373.2 61.8L373.7 61.8L374.2 61.8L374.7 61.7L375.2 61.7L375.7 61.6L376.2 61.5L376.7 61.5L377.2 61.4L377.7 61.4L378.2 61.4L378.7 61.5L379.2 61.6L379.7 61.8L380.2 62.1L380.7 62.4L381.2 62.8L381.7 63.2L382.2 63.7L382.7 64.2L383.2 64.7L383.7 65.2L384.2 65.7L384.7 66.2L385.2 66.7L385.7 67.1L386.2 67.5L386.7 67.9L387.2 68.2L387.7 68.5L388.2 68.8L388.7 69.1L389.2 69.3L389.7 69.5L390.2 69.7L390.7 69.9L391.2 70L391.7 70.2L392.2 70.3L392.7 70.5" fill="none" stroke="#5468d0" stroke-width="1.15" stroke-linejoin="round" />
<path d="M376.2 64.4L376.7 64.6L377.2 64.9L377.7 65.1L378.2 65.3L378.7 65.4L379.2 65.6L379.7 65.7L380.2 65.8L380.7 65.8L381.2 65.7L381.7 65.6L382.2 65.4L382.7 65.2L383.2 64.9L383.7 64.7L384.2 64.4L384.7 64.3L385.2 64.2L385.7 64.2L386.2 64.3L386.7 64.5L387.2 64.9L387.7 65.4L388.2 65.9L388.7 66.5L389.2 67.1L389.7 67.7L390.2 68.3L390.7 68.8L391.2 69.2L391.7 69.6L392.2 69.9L392.7 70.2L393.2 70.4L393.7 70.6L394.2 70.8L394.7 71L395.2 71.1L395.7 71.2" fill="none" stroke="#e2464f" stroke-width="1.15" stroke-linejoin="round" />
<path d="M390.3 69.8L390.8 70L391.3 70.1L391.8 70.2L392.3 70.3L392.8 70.4L393.3 70.5L393.8 70.6L394.3 70.7L394.8 70.7L395.3 70.7L395.8 70.6L396.3 70.5L396.8 70.4L397.3 70.3L397.8 70.1L398.3 69.8L398.8 69.5L399.3 69.2L399.8 68.9L400.3 68.6L400.8 68.3L401.3 68.1L401.8 67.9L402.3 67.8L402.8 67.7L403.3 67.8L403.8 67.9L404.3 68.1L404.8 68.4L405.3 68.8L405.8 69.2L406.3 69.6L406.8 70.1L407.3 70.6L407.8 71.1L408.3 71.5L408.8 72L409.3 72.4L409.8 72.7L410.3 73.1L410.8 73.4L411.3 73.6L411.8 73.9L412.3 74.1L412.8 74.3L413.3 74.5L413.8 74.6L414.3 74.8L414.8 74.9L415.3 75.1L415.8 75.2" fill="none" stroke="#5468d0" stroke-width="1.15" stroke-linejoin="round" />
<path d="M398.9 71.8L399.4 71.9L399.9 71.9L400.4 72L400.9 72L401.4 72L401.9 71.9L402.4 71.8L402.9 71.7L403.4 71.4L403.9 71.1L404.4 70.7L404.9 70.3L405.4 69.7L405.9 69.1L406.4 68.5L406.9 68L407.4 67.6L407.9 67.2L408.4 67.1L408.9 67.1L409.4 67.4L409.9 67.8L410.4 68.4L410.9 69.1L411.4 69.9L411.9 70.7L412.4 71.5L412.9 72.2L413.4 72.9L413.9 73.4L414.4 73.9L414.9 74.4L415.4 74.7L415.9 75L416.4 75.2L416.9 75.5" fill="none" stroke="#e2464f" stroke-width="1.15" stroke-linejoin="round" />
<path d="M319.3 43.3L319.8 43.3L320.3 43.4L320.8 43.4L321.3 43.5L321.8 43.5L322.3 43.6L322.8 43.6L323.3 43.6L323.8 43.7L324.3 43.7L324.8 43.7L325.3 43.7L325.8 43.8L326.3 43.8L326.8 43.8L327.3 43.8L327.8 43.9L328.3 43.9L328.8 43.9L329.3 43.9L329.8 43.9L330.3 43.9L330.8 43.9L331.3 43.9L331.8 44L332.3 44L332.8 44L333.3 44L333.8 44L334.3 44L334.8 44L335.3 44L335.8 44L336.3 44L336.8 44L337.3 44L337.8 44L338.3 44L338.8 44L339.3 44L339.8 44L340.3 44L340.8 44L341.3 43.9L341.8 43.7L342.3 43.5L342.8 43.2L343.3 42.8L343.8 42.4L344.3 42L344.8 41.5L345.3 41.1L345.8 40.6L346.3 40.1L346.8 39.6L347.3 39.1L347.8 38.6L348.3 38.2L348.8 37.7L349.3 37.3L349.8 36.8L350.3 36.3L350.8 35.7L351.3 35.2L351.8 34.6L352.3 34.1L352.8 33.5L353.3 32.9L353.8 32.3L354.3 31.6L354.8 31L355.3 30.3L355.8 29.6L356.3 28.9L356.8 28.1L357.3 27.4L357.8 26.6L358.3 25.8L358.8 25L359.3 24.2L359.8 23.3L360.3 22.3L360.8 21.1L361.3 19.9L361.8 18.8L362.3 18.1L362.8 17.8L363.3 18.1L363.8 18.8L364.3 19.6L364.8 20.4L365.3 21.4L365.8 22.6L366.3 23.9L366.8 25.2L367.3 26.6L367.8 28.1L368.3 29.6L368.8 31.1L369.3 32.6L369.8 34.3L370.3 36.1L370.8 37.9L371.3 39.7L371.8 41.3L372.3 42.6L372.8 43.7L373.3 44.6L373.8 45.5L374.3 46.2L374.8 46.9L375.3 47.5L375.8 48L376.3 48.4L376.8 48.8L377.3 49.1L377.8 49.3L378.3 49.6L378.8 49.8L379.3 50L379.8 50.3L380.3 50.5L380.8 50.8L381.3 51.1L381.8 51.5L382.3 51.9L382.8 52.4L383.3 53L383.8 53.6L384.3 54.2L384.8 54.9L385.3 55.7L385.8 56.5L386.3 57.4L386.8 58.4L387.3 59.5L387.8 60.7L388.3 61.8L388.8 62.9L389.3 64L389.8 65L390.3 65.8L390.8 66.8L391.3 67.8L391.8 68.7L392.3 69.5L392.8 70.1L393.3 70.4L393.8 70.4L394.3 70.4L394.8 70.3L395.3 70.2L395.8 70.1L396.3 69.9L396.8 69.7L397.3 69.6L397.8 69.4L398.3 69.1L398.8 68.9L399.3 68.7L399.8 68.4L400.3 67.9L400.8 67.4L401.3 66.8L401.8 66.1L402.3 65.5L402.8 64.9L403.3 64.3L403.8 63.8L404.3 63.5L404.8 63.2L405.3 62.9L405.8 62.6L406.3 62.4L406.8 62.1L407.3 62L407.8 61.9L408.3 61.8L408.8 62L409.3 62.5L409.8 63.5L410.3 64.6L410.8 65.8L411.3 67L411.8 68.1L412.3 69L412.8 69.9L413.3 70.8L413.8 71.8L414.3 72.7L414.8 73.5L415.3 74.3L415.8 74.9L416.3 75.4L416.8 75.6L417.3 75.6L417.8 75.6L418.3 75.6L418.8 75.5L419.3 75.5L419.8 75.4L420.3 75.4L420.8 75.3L421.3 75.2L421.8 75.2L422.3 75.1L422.8 75L423.3 74.9L423.8 74.8L424.3 74.7L424.8 74.5L425.3 74.3L425.8 74.1L426.3 73.9L426.8 73.7L427.3 73.4L427.8 73.2L428.3 72.9L428.8 72.7L429.3 72.4L429.8 72.2L430.3 72L430.8 71.7L431.3 71.4L431.8 71.1L432.3 70.9L432.8 70.6L433.3 70.3L433.8 70L434.3 69.7L434.8 69.4L435.3 69.1L435.8 68.9L436.3 68.6L436.8 68.3L437.3 68.1L437.8 67.8L438.3 67.5L438.8 67.3L439.3 67L439.8 66.8L440.3 66.5L440.8 66.3L441.3 66L441.8 65.8" fill="none" stroke="#72bf56" stroke-width="1.35" stroke-linejoin="round" />
<path d="M319.3 43.3L319.8 44.6L320.3 44.6L320.8 43L321.3 43.2L321.8 43L322.3 44.1L322.8 43.5L323.3 44.3L323.8 41.9L324.3 45.2L324.8 43.6L325.3 44.4L325.8 43.6L326.3 43.4L326.8 44.3L327.3 44.6L327.8 43.7L328.3 43.7L328.8 44.5L329.3 43.1L329.8 42.5L330.3 44.3L330.8 43.3L331.3 42.1L331.8 43.2L332.3 43.5L332.8 42.8L333.3 42.6L333.8 44L334.3 44.8L334.8 43.8L335.3 43.3L335.8 44.4L336.3 44.7L336.8 43.7L337.3 44.5L337.8 45L338.3 43.8L338.8 43.2L339.3 44.3L339.8 44.2L340.3 45L340.8 43.3L341.3 43.5L341.8 43.3L342.3 42.6L342.8 43.2L343.3 43.1L343.8 42.1L344.3 42.7L344.8 42L345.3 41.4L345.8 40.8L346.3 40.6L346.8 38.9L347.3 39.4L347.8 38.9L348.3 37.3L348.8 37.9L349.3 37.1L349.8 37.2L350.3 36L350.8 35.7L351.3 35.4L351.8 34.2L352.3 34.4L352.8 33.4L353.3 33.1L353.8 32L354.3 32.2L354.8 31.3L355.3 30.2L355.8 29.9L356.3 29.5L356.8 29L357.3 26.6L357.8 27L358.3 26L358.8 24.9L359.3 23.7L359.8 24L360.3 21.6L360.8 21.4L361.3 20.5L361.8 18L362.3 17.9L362.8 17.1L363.3 18.2L363.8 19.5L364.3 20.6L364.8 19.6L365.3 21.2L365.8 22.9L366.3 24.6L366.8 25.4L367.3 26.3L367.8 28.3L368.3 29.6L368.8 31L369.3 32.2L369.8 34.5L370.3 36.3L370.8 37.9L371.3 39.6L371.8 40.6L372.3 42.4L372.8 44.3L373.3 44.5L373.8 44.7L374.3 46.9L374.8 47.2L375.3 48.6L375.8 48L376.3 48.2L376.8 48L377.3 49.7L377.8 50.6L378.3 49.2L378.8 49.5L379.3 50.3L379.8 49.8L380.3 50.4L380.8 50.6L381.3 51.2L381.8 52L382.3 51.9L382.8 52.9L383.3 52.8L383.8 53.8L384.3 53.2L384.8 54.2L385.3 56.1L385.8 56.2L386.3 57.7L386.8 58.7L387.3 60.2L387.8 61.1L388.3 62.3L388.8 62.9L389.3 63.7L389.8 64.6L390.3 65.6L390.8 66.2L391.3 67.5L391.8 68.6L392.3 69.6L392.8 69.9L393.3 69.4L393.8 70.4L394.3 70.5L394.8 70.8L395.3 70.5L395.8 69.7L396.3 69.6L396.8 70.8L397.3 69.9L397.8 70.3L398.3 70.2L398.8 68.5L399.3 68.9L399.8 68.6L400.3 68.2L400.8 67.7L401.3 66.9L401.8 66.2L402.3 64.7L402.8 64.8L403.3 63.9L403.8 63.9L404.3 63.2L404.8 63.5L405.3 63.3L405.8 62.8L406.3 62.5L406.8 62.2L407.3 61.7L407.8 61.8L408.3 61.6L408.8 62.2L409.3 62.5L409.8 63.7L410.3 63.9L410.8 66.3L411.3 66.6L411.8 67.8L412.3 68.9L412.8 69.6L413.3 71L413.8 71.5L414.3 72.1L414.8 73.1L415.3 74.9L415.8 74.9L416.3 74.8L416.8 75.6L417.3 74.1L417.8 77.3L418.3 74.1L418.8 76L419.3 76L419.8 74.1L420.3 75.7L420.8 76.2L421.3 75.7L421.8 75.4L422.3 76L422.8 75.1L423.3 75.2L423.8 74.7L424.3 75.3L424.8 73.6L425.3 75.1L425.8 73.6L426.3 72.9L426.8 74L427.3 75L427.8 74.1L428.3 72.4L428.8 73.4L429.3 72L429.8 72.1L430.3 72L430.8 69.5L431.3 71.6L431.8 70.2L432.3 70.2L432.8 69.2L433.3 68.8L433.8 69.1L434.3 70.5L434.8 71L435.3 69.1L435.8 69.9L436.3 68.3L436.8 66.5L437.3 68.2L437.8 68.2L438.3 67.1L438.8 67.6L439.3 67.6L439.8 66L440.3 65.1L440.8 66.1L441.3 65.8L441.8 65.5" fill="none" stroke="#2e2e2e" stroke-width="1.15" stroke-linejoin="round" stroke-dasharray="1.1 1.4"/>
<path d="M319.3 44.8L319.8 46L320.3 42.8L320.8 44.5L321.3 44.9L321.8 44.6L322.3 45.2L322.8 43L323.3 44.8L323.8 46.8L324.3 44.9L324.8 42.8L325.3 44.7L325.8 45.7L326.3 44.4L326.8 42.9L327.3 46.2L327.8 41.9L328.3 44.6L328.8 43.9L329.3 42.1L329.8 45.8L330.3 44.5L330.8 42.1L331.3 44.9L331.8 43.3L332.3 41L332.8 42.9L333.3 44.4L333.8 45L334.3 44.2L334.8 44.1L335.3 44.7L335.8 43.7L336.3 45.8L336.8 44.2L337.3 44.5L337.8 44.8L338.3 42.4L338.8 42.9L339.3 46.4L339.8 44.5L340.3 43.6L340.8 44.3L341.3 43.3L341.8 44L342.3 42.7L342.8 43.5L343.3 41.1L343.8 43.9L344.3 41.4L344.8 39.8L345.3 40.8L345.8 40.2L346.3 40.3L346.8 38.3L347.3 39.5L347.8 42.6L348.3 36.8L348.8 38.1L349.3 36.9L349.8 37L350.3 34.3L350.8 34.5L351.3 35.7L351.8 34.6L352.3 35.9L352.8 32.7L353.3 33.1L353.8 35.5L354.3 30.8L354.8 30L355.3 30.2L355.8 29.5L356.3 29.8L356.8 28.3L357.3 26.5L357.8 26.8L358.3 28.7L358.8 26.4L359.3 21.1L359.8 23.2L360.3 21.3L360.8 21.8L361.3 19.7L361.8 20.9L362.3 19.1L362.8 18.8L363.3 18.3L363.8 18.7L364.3 20L364.8 21.9L365.3 22L365.8 22.2L366.3 25.3L366.8 25.4L367.3 26.6L367.8 27.2L368.3 29L368.8 30.4L369.3 29.5L369.8 35.4L370.3 36.7L370.8 37.7L371.3 40.8L371.8 41.8L372.3 43L372.8 40.9L373.3 44.3L373.8 46L374.3 48L374.8 48.9L375.3 49.1L375.8 46.7L376.3 46L376.8 49.4L377.3 49.1L377.8 50.4L378.3 49.4L378.8 50L379.3 48.4L379.8 50.8L380.3 50L380.8 51.2L381.3 51.6L381.8 51.4L382.3 52.3L382.8 52.4L383.3 53.8L383.8 54.1L384.3 53.6L384.8 54.3L385.3 57.6L385.8 56.3L386.3 58.5L386.8 58.9L387.3 58.9L387.8 59.8L388.3 62L388.8 63.2L389.3 64.7L389.8 63.6L390.3 65.2L390.8 66.7L391.3 69.5L391.8 66.1L392.3 70L392.8 69.5L393.3 70.8L393.8 69.9L394.3 70.8L394.8 72L395.3 70.6L395.8 70.5L396.3 70.3L396.8 68.9L397.3 70.2L397.8 69.1L398.3 68.2L398.8 68.9L399.3 68.4L399.8 69.2L400.3 67.9L400.8 66.8L401.3 68.4L401.8 67.2L402.3 66.9L402.8 65.5L403.3 64.2L403.8 63.4L404.3 63.2L404.8 64.2L405.3 63L405.8 61L406.3 62.3L406.8 60.6L407.3 62.2L407.8 60.5L408.3 60.4L408.8 62.1L409.3 62.5L409.8 61.6L410.3 65.4L410.8 68.2L411.3 65.4L411.8 70.1L412.3 68.3L412.8 69.4L413.3 70.6L413.8 70.2L414.3 74.1L414.8 74.1L415.3 73.5L415.8 74.6L416.3 73.7L416.8 75.2L417.3 77L417.8 72.9L418.3 74.9L418.8 75.8L419.3 77.1L419.8 77.5L420.3 74.7L420.8 74.2L421.3 75.9L421.8 74.6L422.3 74.6L422.8 76.7L423.3 77.5L423.8 75.2L424.3 74.4L424.8 75.4L425.3 71.4L425.8 74.1L426.3 72.3L426.8 77.4L427.3 74.5L427.8 73.4L428.3 72.6L428.8 68.8L429.3 73.5L429.8 74.7L430.3 70.8L430.8 72.7L431.3 72.5L431.8 68.8L432.3 72.3L432.8 72.7L433.3 70.6L433.8 69.9L434.3 70.9L434.8 67L435.3 69.3L435.8 70.5L436.3 66.7L436.8 69.9L437.3 67.4L437.8 64.6L438.3 67.4L438.8 65.8L439.3 67.5L439.8 65L440.3 68.2L440.8 65.1L441.3 66.6L441.8 64.9" fill="none" stroke="#505050" stroke-width="0.85" stroke-linejoin="round" stroke-dasharray="0.8 2.6" stroke-opacity="0.75"/>
<path d="M341.1 94.4L341.6 94.5L342.1 94.5L342.6 94.6L343.1 94.7L343.6 94.8L344.1 94.9L344.6 95L345.1 95.1L345.6 95.3L346.1 95.4L346.6 95.5L347.1 95.7L347.6 95.8L348.1 96L348.6 96.2L349.1 96.3L349.6 96.5L350.1 96.7L350.6 96.9L351.1 97.1L351.6 97.2L352.1 97.5L352.6 97.7L353.1 97.9L353.6 98.2L354.1 98.4L354.6 98.7L355.1 99L355.6 99.3L356.1 99.7L356.6 100L357.1 100.3L357.6 100.7L358.1 101L358.6 101.3L359.1 101.7L359.6 102L360.1 102.4L360.6 102.7L361.1 103L361.6 103.4L362.1 103.7L362.6 104L363.1 104.4L363.6 104.8L364.1 105.1L364.6 105.5L365.1 105.9L365.6 106.2L366.1 106.6L366.6 107L367.1 107.3L367.6 107.7L368.1 108L368.6 108.4L369.1 108.7L369.6 109L370.1 109.3L370.6 109.6L371.1 109.8L371.6 110.1L372.1 110.4L372.6 110.6L373.1 110.9L373.6 111.1L374.1 111.4L374.6 111.6L375.1 111.9L375.6 112.1L376.1 112.3L376.6 112.6L377.1 112.8L377.6 113L378.1 113.2L378.6 113.4L379.1 113.6L379.6 113.8L380.1 114L380.6 114.2L381.1 114.4L381.6 114.6L382.1 114.7L382.6 114.9L383.1 115.1L383.6 115.3L384.1 115.4L384.6 115.6L385.1 115.8L385.6 115.9L386.1 116.1L386.6 116.2L387.1 116.4L387.6 116.5L388.1 116.7L388.6 116.8L389.1 117L389.6 117.1L390.1 117.3L390.6 117.4L391.1 117.5L391.6 117.7L392.1 117.8L392.6 117.9L393.1 118L393.6 118.2L394.1 118.3L394.6 118.4L395.1 118.5L395.6 118.6L396.1 118.7L396.6 118.8L397.1 118.9L397.6 119L398.1 119L398.6 119.1L399.1 119.2L399.6 119.3L400.1 119.3L400.6 119.4L401.1 119.5L401.6 119.5L402.1 119.6L402.6 119.7L403.1 119.7L403.6 119.8L404.1 119.9L404.6 119.9L405.1 120L405.6 120.1L406.1 120.1L406.6 120.2L407.1 120.3L407.6 120.4L408.1 120.5L408.6 120.6L409.1 120.7L409.6 120.8L410.1 120.9L410.6 121L411.1 121.1L411.6 121.2L412.1 121.3L412.6 121.4L413.1 121.6L413.6 121.7L414.1 121.8L414.6 121.9L415.1 122L415.6 122.2L416.1 122.3L416.6 122.4L417.1 122.5" fill="none" stroke="#a96f58" stroke-width="1.3" stroke-linejoin="round" />
<path d="M366.2 106.6L366.7 107L367.2 107.3L367.7 107.7L368.2 108L368.7 108.3L369.2 108.6L369.7 108.8L370.2 109L370.7 109.2L371.2 109.3L371.7 109.4L372.2 109.5L372.7 109.5L373.2 109.4L373.7 109.4L374.2 109.2L374.7 109L375.2 108.8L375.7 108.6L376.2 108.4L376.7 108.1L377.2 107.9L377.7 107.8L378.2 107.7L378.7 107.7L379.2 107.8L379.7 107.9L380.2 108.2L380.7 108.6L381.2 109L381.7 109.5L382.2 110.1L382.7 110.7L383.2 111.3L383.7 112L384.2 112.6L384.7 113.2L385.2 113.8L385.7 114.3L386.2 114.8L386.7 115.2L387.2 115.6L387.7 115.9L388.2 116.2L388.7 116.5L389.2 116.8L389.7 117L390.2 117.2L390.7 117.3L391.2 117.5L391.7 117.6L392.2 117.8L392.7 117.9" fill="none" stroke="#5468d0" stroke-width="1.15" stroke-linejoin="round" />
<path d="M376.2 112.4L376.7 112.6L377.2 112.8L377.7 113L378.2 113.1L378.7 113.3L379.2 113.4L379.7 113.4L380.2 113.4L380.7 113.4L381.2 113.2L381.7 113L382.2 112.7L382.7 112.4L383.2 112L383.7 111.6L384.2 111.3L384.7 111L385.2 110.8L385.7 110.7L386.2 110.8L386.7 111.1L387.2 111.5L387.7 112L388.2 112.7L388.7 113.4L389.2 114.1L389.7 114.8L390.2 115.4L390.7 116L391.2 116.5L391.7 116.9L392.2 117.3L392.7 117.6L393.2 117.8L393.7 118L394.2 118.2L394.7 118.3L395.2 118.5L395.7 118.6" fill="none" stroke="#e2464f" stroke-width="1.15" stroke-linejoin="round" />
<path d="M390.3 117.3L390.8 117.4L391.3 117.6L391.8 117.7L392.3 117.8L392.8 117.8L393.3 117.9L393.8 117.9L394.3 117.9L394.8 117.9L395.3 117.8L395.8 117.7L396.3 117.5L396.8 117.3L397.3 117L397.8 116.6L398.3 116.2L398.8 115.7L399.3 115.2L399.8 114.7L400.3 114.2L400.8 113.8L401.3 113.3L401.8 113L402.3 112.8L402.8 112.7L403.3 112.7L403.8 112.8L404.3 113.1L404.8 113.5L405.3 114L405.8 114.5L406.3 115.2L406.8 115.8L407.3 116.5L407.8 117.1L408.3 117.8L408.8 118.4L409.3 118.9L409.8 119.4L410.3 119.8L410.8 120.2L411.3 120.5L411.8 120.8L412.3 121L412.8 121.2L413.3 121.4L413.8 121.6L414.3 121.8L414.8 121.9L415.3 122.1L415.8 122.2" fill="none" stroke="#5468d0" stroke-width="1.15" stroke-linejoin="round" />
<path d="M398.9 119.1L399.4 119.2L399.9 119.3L400.4 119.3L400.9 119.3L401.4 119.3L401.9 119.2L402.4 119.1L402.9 118.9L403.4 118.6L403.9 118.2L404.4 117.8L404.9 117.2L405.4 116.6L405.9 115.9L406.4 115.2L406.9 114.6L407.4 114.1L407.9 113.7L408.4 113.5L408.9 113.5L409.4 113.8L409.9 114.2L410.4 114.8L410.9 115.6L411.4 116.4L411.9 117.3L412.4 118.2L412.9 119L413.4 119.7L413.9 120.3L414.4 120.8L414.9 121.3L415.4 121.6L415.9 121.9L416.4 122.2L416.9 122.4" fill="none" stroke="#e2464f" stroke-width="1.15" stroke-linejoin="round" />
<path d="M321.1 92.9L321.6 93L322.1 93.1L322.6 93.2L323.1 93.3L323.6 93.4L324.1 93.5L324.6 93.6L325.1 93.6L325.6 93.7L326.1 93.8L326.6 93.8L327.1 93.9L327.6 93.9L328.1 94L328.6 94L329.1 94.1L329.6 94.1L330.1 94.2L330.6 94.2L331.1 94.2L331.6 94.2L332.1 94.3L332.6 94.3L333.1 94.3L333.6 94.3L334.1 94.3L334.6 94.3L335.1 94.4L335.6 94.4L336.1 94.4L336.6 94.4L337.1 94.4L337.6 94.4L338.1 94.4L338.6 94.4L339.1 94.4L339.6 94.4L340.1 94.4L340.6 94.4L341.1 94.4L341.6 94.4L342.1 94.2L342.6 94.1L343.1 93.8L343.6 93.5L344.1 93.2L344.6 92.8L345.1 92.4L345.6 92L346.1 91.5L346.6 91L347.1 90.6L347.6 90.1L348.1 89.7L348.6 89.2L349.1 88.8L349.6 88.4L350.1 87.9L350.6 87.4L351.1 87L351.6 86.4L352.1 85.9L352.6 85.4L353.1 84.8L353.6 84.3L354.1 83.7L354.6 83.1L355.1 82.5L355.6 81.8L356.1 81.2L356.6 80.5L357.1 79.8L357.6 79L358.1 78.3L358.6 77.6L359.1 76.8L359.6 76L360.1 75.1L360.6 74.1L361.1 72.9L361.6 71.9L362.1 71.1L362.6 70.7L363.1 70.8L363.6 71.3L364.1 72L364.6 72.6L365.1 73.4L365.6 74.2L366.1 75.2L366.6 76.2L367.1 77.3L367.6 78.5L368.1 79.7L368.6 80.9L369.1 82.1L369.6 83.3L370.1 84.6L370.6 86L371.1 87.4L371.6 88.9L372.1 90.4L372.6 91.8L373.1 93.1L373.6 94.1L374.1 95L374.6 95.8L375.1 96.5L375.6 97.2L376.1 97.8L376.6 98.3L377.1 98.7L377.6 99.1L378.1 99.3L378.6 99.6L379.1 99.8L379.6 99.9L380.1 100.1L380.6 100.2L381.1 100.3L381.6 100.4L382.1 100.5L382.6 100.7L383.1 100.8L383.6 100.9L384.1 101L384.6 101.2L385.1 101.4L385.6 101.6L386.1 101.8L386.6 102.1L387.1 102.5L387.6 103.1L388.1 103.9L388.6 104.7L389.1 105.7L389.6 106.7L390.1 107.9L390.6 109.3L391.1 110.6L391.6 112L392.1 113.2L392.6 114.3L393.1 115.4L393.6 116.5L394.1 117.3L394.6 117.6L395.1 117.6L395.6 117.5L396.1 117.3L396.6 117.2L397.1 116.9L397.6 116.7L398.1 116.4L398.6 116.1L399.1 115.8L399.6 115.4L400.1 114.8L400.6 114L401.1 113.1L401.6 112.2L402.1 111.4L402.6 110.7L403.1 110.2L403.6 109.8L404.1 109.4L404.6 109L405.1 108.7L405.6 108.5L406.1 108.3L406.6 108.3L407.1 108.6L407.6 109.1L408.1 109.9L408.6 110.8L409.1 111.8L409.6 112.8L410.1 113.8L410.6 114.7L411.1 115.5L411.6 116.1L412.1 116.9L412.6 117.6L413.1 118.4L413.6 119.2L414.1 119.9L414.6 120.6L415.1 121.2L415.6 121.7L416.1 122.1L416.6 122.4L417.1 122.6L417.6 122.6L418.1 122.6L418.6 122.6L419.1 122.5L419.6 122.5L420.1 122.5L420.6 122.4L421.1 122.3L421.6 122.3L422.1 122.2L422.6 122.1L423.1 122.1L423.6 122L424.1 121.9L424.6 121.8L425.1 121.7L425.6 121.6L426.1 121.4L426.6 121.2L427.1 121L427.6 120.8L428.1 120.6L428.6 120.4L429.1 120.2L429.6 120L430.1 119.7L430.6 119.5L431.1 119.3L431.6 119.1L432.1 118.8L432.6 118.6L433.1 118.3L433.6 118.1L434.1 117.8L434.6 117.6L435.1 117.3L435.6 117L436.1 116.8L436.6 116.5L437.1 116.3L437.6 116L438.1 115.8L438.6 115.5L439.1 115.3L439.6 115.1L440.1 114.8L440.6 114.6L441.1 114.4L441.6 114.1L442.1 113.9L442.6 113.7L443.1 113.5L443.6 113.3L444.1 113" fill="none" stroke="#72bf56" stroke-width="1.35" stroke-linejoin="round" />
<path d="M321.1 92.9L321.6 94L322.1 93.8L322.6 93.9L323.1 94.8L323.6 92.2L324.1 92.9L324.6 92.3L325.1 93.5L325.6 94.7L326.1 93.7L326.6 94.3L327.1 92.1L327.6 94.1L328.1 93.1L328.6 95.7L329.1 94.9L329.6 95L330.1 94.1L330.6 94.8L331.1 94.8L331.6 93.9L332.1 93.8L332.6 94.2L333.1 93.7L333.6 93.8L334.1 94.1L334.6 93.7L335.1 95.1L335.6 92.9L336.1 95.2L336.6 93.8L337.1 93.9L337.6 93.1L338.1 94.3L338.6 94.2L339.1 94.6L339.6 93.9L340.1 94.5L340.6 96.1L341.1 94.6L341.6 94.1L342.1 94.7L342.6 94L343.1 94.1L343.6 93.8L344.1 93L344.6 91.8L345.1 92.2L345.6 92.2L346.1 91.3L346.6 91.3L347.1 91.1L347.6 89.8L348.1 90.3L348.6 90L349.1 89.4L349.6 89L350.1 88.5L350.6 88.6L351.1 87L351.6 86.4L352.1 86.2L352.6 84.9L353.1 84.1L353.6 83.8L354.1 83.9L354.6 83.3L355.1 81.7L355.6 80.9L356.1 81L356.6 80.4L357.1 79.7L357.6 79.4L358.1 78.9L358.6 77.7L359.1 77.1L359.6 75.5L360.1 74.6L360.6 74.2L361.1 73.2L361.6 72.2L362.1 71.4L362.6 71.1L363.1 71.2L363.6 70.4L364.1 71.6L364.6 72.9L365.1 73.7L365.6 73.5L366.1 75.7L366.6 76L367.1 77.2L367.6 78.6L368.1 80L368.6 80.2L369.1 82.6L369.6 83.3L370.1 84.2L370.6 85.8L371.1 86.3L371.6 88.6L372.1 90.5L372.6 91.5L373.1 92.9L373.6 94L374.1 95L374.6 96.3L375.1 96.5L375.6 97L376.1 98L376.6 99.3L377.1 98.6L377.6 99.3L378.1 98.5L378.6 100.2L379.1 100.1L379.6 100.6L380.1 100L380.6 99.7L381.1 100.8L381.6 100.8L382.1 100.1L382.6 99.9L383.1 101L383.6 100.8L384.1 102.3L384.6 100.9L385.1 101.1L385.6 101.5L386.1 101L386.6 101.7L387.1 103.4L387.6 103.1L388.1 103.6L388.6 104.1L389.1 105.9L389.6 107L390.1 108L390.6 109.1L391.1 110.8L391.6 112.2L392.1 112.8L392.6 114.6L393.1 114.4L393.6 115.9L394.1 117.1L394.6 117.5L395.1 117L395.6 117.6L396.1 117.9L396.6 117.4L397.1 117.1L397.6 117.1L398.1 116.6L398.6 115.5L399.1 115.7L399.6 116L400.1 114.2L400.6 114L401.1 112.9L401.6 111.8L402.1 110.9L402.6 110.7L403.1 110.3L403.6 109.9L404.1 108.6L404.6 108.9L405.1 108.9L405.6 108.9L406.1 108.7L406.6 108.7L407.1 109.2L407.6 109.6L408.1 109.5L408.6 110.8L409.1 111.4L409.6 111.6L410.1 112.9L410.6 115.7L411.1 114.9L411.6 115L412.1 116.6L412.6 118.4L413.1 118.4L413.6 119.4L414.1 119.8L414.6 120.5L415.1 121.8L415.6 122.1L416.1 122.1L416.6 122.9L417.1 123.1L417.6 122.4L418.1 122.8L418.6 122.8L419.1 121.9L419.6 123.6L420.1 122.3L420.6 121.8L421.1 120.8L421.6 121.1L422.1 123.7L422.6 121.1L423.1 122.5L423.6 121.6L424.1 122.4L424.6 122.4L425.1 121L425.6 121.3L426.1 121.5L426.6 121.3L427.1 121L427.6 120.5L428.1 121.2L428.6 121.6L429.1 120.7L429.6 119.2L430.1 120.1L430.6 119.6L431.1 119.7L431.6 120.8L432.1 118.6L432.6 118.6L433.1 117.5L433.6 117.8L434.1 117.3L434.6 119.1L435.1 117.6L435.6 116.5L436.1 118.6L436.6 115.2L437.1 117.1L437.6 117L438.1 116.3L438.6 115.3L439.1 115.2L439.6 114.7L440.1 115.6L440.6 112.4L441.1 113.9L441.6 114.3L442.1 113.4L442.6 112L443.1 113.2L443.6 112.5L444.1 113.8" fill="none" stroke="#2e2e2e" stroke-width="1.15" stroke-linejoin="round" stroke-dasharray="1.1 1.4"/>
<path d="M321.1 95.1L321.6 93.1L322.1 90.1L322.6 92.9L323.1 91.9L323.6 94.4L324.1 96.1L324.6 94L325.1 96.8L325.6 96L326.1 94.8L326.6 92.5L327.1 94.2L327.6 91.9L328.1 95.8L328.6 94.4L329.1 96.4L329.6 94.8L330.1 91.4L330.6 95.4L331.1 95.9L331.6 97L332.1 93L332.6 93.1L333.1 94.6L333.6 92.9L334.1 92.4L334.6 92.9L335.1 98.6L335.6 93.6L336.1 93L336.6 93.9L337.1 94.6L337.6 96.5L338.1 96L338.6 95.8L339.1 94.6L339.6 94.8L340.1 93.6L340.6 92.2L341.1 96.8L341.6 94L342.1 95.5L342.6 93.8L343.1 93.8L343.6 93.5L344.1 91.8L344.6 92.8L345.1 92.9L345.6 93L346.1 92.1L346.6 92.3L347.1 91L347.6 90.2L348.1 87.6L348.6 88.7L349.1 90.6L349.6 88.6L350.1 88.9L350.6 87.3L351.1 86.3L351.6 88.8L352.1 86.4L352.6 87.1L353.1 85.5L353.6 84L354.1 81.3L354.6 83.3L355.1 80.8L355.6 79.5L356.1 82.6L356.6 81.4L357.1 80.6L357.6 79.2L358.1 78.4L358.6 78.1L359.1 77.1L359.6 76.2L360.1 76L360.6 71.4L361.1 74L361.6 71.3L362.1 72.1L362.6 72.1L363.1 70L363.6 72.2L364.1 72.9L364.6 71.9L365.1 72.8L365.6 74.4L366.1 72.7L366.6 75.7L367.1 77.5L367.6 78L368.1 77.9L368.6 80.5L369.1 83.8L369.6 84.8L370.1 84.4L370.6 85.1L371.1 87.4L371.6 89L372.1 89.7L372.6 91.4L373.1 93.8L373.6 95.2L374.1 92.3L374.6 96.8L375.1 96.6L375.6 98.4L376.1 97.8L376.6 98.8L377.1 100.5L377.6 95.8L378.1 101.1L378.6 99.8L379.1 97.8L379.6 97L380.1 100.4L380.6 99.1L381.1 101.4L381.6 100.7L382.1 100.4L382.6 101.8L383.1 101L383.6 101.7L384.1 102L384.6 101.6L385.1 102.3L385.6 102.5L386.1 100.3L386.6 101.8L387.1 102.4L387.6 102.7L388.1 102.1L388.6 104.1L389.1 106L389.6 106.9L390.1 109.6L390.6 108.6L391.1 110.2L391.6 111.3L392.1 112.8L392.6 113.6L393.1 113.4L393.6 116.9L394.1 118.4L394.6 118.8L395.1 116.4L395.6 117.3L396.1 119.4L396.6 117L397.1 117.3L397.6 116.5L398.1 117.5L398.6 117.2L399.1 118.4L399.6 116L400.1 115.3L400.6 112.7L401.1 112.7L401.6 111.5L402.1 111L402.6 109.2L403.1 111.5L403.6 108.6L404.1 109.7L404.6 107.6L405.1 109.1L405.6 110.3L406.1 107.4L406.6 108.7L407.1 108.5L407.6 109.5L408.1 110.4L408.6 110.1L409.1 111.6L409.6 112.1L410.1 112.9L410.6 113.3L411.1 116.5L411.6 115.3L412.1 117.6L412.6 118.2L413.1 117.3L413.6 120.3L414.1 118.9L414.6 121.3L415.1 122.8L415.6 120.9L416.1 121.1L416.6 121.4L417.1 125.1L417.6 122L418.1 120.6L418.6 123.8L419.1 122.3L419.6 122.4L420.1 120.9L420.6 119L421.1 121.2L421.6 120.7L422.1 119.7L422.6 120.5L423.1 120.6L423.6 123.2L424.1 123L424.6 122.6L425.1 120.9L425.6 119.6L426.1 121.8L426.6 121.9L427.1 122.6L427.6 120.8L428.1 120.4L428.6 120.9L429.1 118.7L429.6 118.7L430.1 120.7L430.6 117.6L431.1 119.2L431.6 120.3L432.1 119.2L432.6 119.2L433.1 116.6L433.6 117.9L434.1 117.4L434.6 118.5L435.1 117.9L435.6 117.1L436.1 119.7L436.6 117.4L437.1 115.8L437.6 115.1L438.1 115.7L438.6 114.7L439.1 117.8L439.6 116L440.1 114.4L440.6 113.6L441.1 112.8L441.6 113.8L442.1 116L442.6 115L443.1 113.4L443.6 113.5L444.1 110.2" fill="none" stroke="#505050" stroke-width="0.85" stroke-linejoin="round" stroke-dasharray="0.8 2.6" stroke-opacity="0.75"/>
<path d="M341.1 149.6L341.6 149.7L342.1 149.7L342.6 149.8L343.1 149.9L343.6 150L344.1 150.1L344.6 150.2L345.1 150.3L345.6 150.4L346.1 150.6L346.6 150.7L347.1 150.9L347.6 151L348.1 151.2L348.6 151.3L349.1 151.5L349.6 151.7L350.1 151.9L350.6 152L351.1 152.2L351.6 152.4L352.1 152.6L352.6 152.9L353.1 153.1L353.6 153.4L354.1 153.6L354.6 153.9L355.1 154.2L355.6 154.5L356.1 154.8L356.6 155.2L357.1 155.5L357.6 155.8L358.1 156.2L358.6 156.5L359.1 156.8L359.6 157.2L360.1 157.5L360.6 157.8L361.1 158.2L361.6 158.5L362.1 158.8L362.6 159.2L363.1 159.5L363.6 159.9L364.1 160.2L364.6 160.6L365.1 161L365.6 161.3L366.1 161.7L366.6 162L367.1 162.4L367.6 162.7L368.1 163.1L368.6 163.4L369.1 163.7L369.6 164L370.1 164.3L370.6 164.6L371.1 164.8L371.6 165.1L372.1 165.3L372.6 165.6L373.1 165.8L373.6 166.1L374.1 166.3L374.6 166.5L375.1 166.8L375.6 167L376.1 167.2L376.6 167.4L377.1 167.7L377.6 167.9L378.1 168.1L378.6 168.3L379.1 168.5L379.6 168.7L380.1 168.8L380.6 169L381.1 169.2L381.6 169.4L382.1 169.6L382.6 169.7L383.1 169.9L383.6 170.1L384.1 170.2L384.6 170.4L385.1 170.5L385.6 170.7L386.1 170.8L386.6 171L387.1 171.1L387.6 171.3L388.1 171.4L388.6 171.6L389.1 171.7L389.6 171.9L390.1 172L390.6 172.1L391.1 172.2L391.6 172.4L392.1 172.5L392.6 172.6L393.1 172.7L393.6 172.8L394.1 172.9L394.6 173L395.1 173.1L395.6 173.2L396.1 173.3L396.6 173.4L397.1 173.5L397.6 173.6L398.1 173.7L398.6 173.7L399.1 173.8L399.6 173.9L400.1 173.9L400.6 174L401.1 174.1L401.6 174.1L402.1 174.2L402.6 174.2L403.1 174.3L403.6 174.4L404.1 174.4L404.6 174.5L405.1 174.6L405.6 174.7L406.1 174.8L406.6 174.8L407.1 174.9L407.6 175L408.1 175.1L408.6 175.2L409.1 175.3L409.6 175.4L410.1 175.5L410.6 175.6L411.1 175.8L411.6 175.9L412.1 176L412.6 176.1L413.1 176.2L413.6 176.3L414.1 176.4L414.6 176.6L415.1 176.7L415.6 176.8L416.1 176.9" fill="none" stroke="#a96f58" stroke-width="1.3" stroke-linejoin="round" />
<path d="M366.2 161.7L366.7 162.1L367.2 162.4L367.7 162.7L368.2 163.1L368.7 163.4L369.2 163.6L369.7 163.9L370.2 164.1L370.7 164.3L371.2 164.5L371.7 164.6L372.2 164.7L372.7 164.8L373.2 164.9L373.7 164.9L374.2 164.8L374.7 164.8L375.2 164.7L375.7 164.6L376.2 164.5L376.7 164.4L377.2 164.4L377.7 164.3L378.2 164.3L378.7 164.4L379.2 164.5L379.7 164.7L380.2 164.9L380.7 165.2L381.2 165.6L381.7 166L382.2 166.4L382.7 166.9L383.2 167.4L383.7 167.8L384.2 168.3L384.7 168.8L385.2 169.2L385.7 169.6L386.2 170L386.7 170.3L387.2 170.6L387.7 170.9L388.2 171.1L388.7 171.4L389.2 171.6L389.7 171.8L390.2 171.9L390.7 172.1L391.2 172.2L391.7 172.4L392.2 172.5L392.7 172.6" fill="none" stroke="#5468d0" stroke-width="1.15" stroke-linejoin="round" />
<path d="M376.2 167.3L376.7 167.5L377.2 167.7L377.7 167.8L378.2 168L378.7 168.1L379.2 168.2L379.7 168.2L380.2 168.2L380.7 168.1L381.2 168L381.7 167.7L382.2 167.4L382.7 167L383.2 166.5L383.7 166.1L384.2 165.6L384.7 165.3L385.2 165.1L385.7 165L386.2 165.1L386.7 165.3L387.2 165.8L387.7 166.4L388.2 167L388.7 167.8L389.2 168.5L389.7 169.3L390.2 170L390.7 170.6L391.2 171.1L391.7 171.6L392.2 171.9L392.7 172.2L393.2 172.5L393.7 172.7L394.2 172.9L394.7 173L395.2 173.1L395.7 173.2" fill="none" stroke="#e2464f" stroke-width="1.15" stroke-linejoin="round" />
<path d="M390.3 172L390.8 172.2L391.3 172.3L391.8 172.4L392.3 172.5L392.8 172.6L393.3 172.6L393.8 172.7L394.3 172.7L394.8 172.7L395.3 172.6L395.8 172.5L396.3 172.4L396.8 172.2L397.3 171.9L397.8 171.6L398.3 171.3L398.8 170.9L399.3 170.5L399.8 170.1L400.3 169.7L400.8 169.3L401.3 169L401.8 168.7L402.3 168.5L402.8 168.4L403.3 168.5L403.8 168.6L404.3 168.8L404.8 169.2L405.3 169.6L405.8 170.1L406.3 170.6L406.8 171.2L407.3 171.8L407.8 172.3L408.3 172.9L408.8 173.4L409.3 173.8L409.8 174.3L410.3 174.6L410.8 175L411.3 175.3L411.8 175.5L412.3 175.7L412.8 175.9L413.3 176.1L413.8 176.3L414.3 176.4L414.8 176.6L415.3 176.7L415.8 176.9" fill="none" stroke="#5468d0" stroke-width="1.15" stroke-linejoin="round" />
<path d="M398.9 173.7L399.4 173.8L399.9 173.8L400.4 173.9L400.9 173.9L401.4 173.8L401.9 173.7L402.4 173.6L402.9 173.3L403.4 173L403.9 172.6L404.4 172L404.9 171.4L405.4 170.6L405.9 169.8L406.4 169L406.9 168.3L407.4 167.6L407.9 167.2L408.4 166.9L408.9 167L409.4 167.2L409.9 167.7L410.4 168.5L410.9 169.3L411.4 170.3L411.9 171.3L412.4 172.3L412.9 173.2L413.4 174L413.9 174.7L414.4 175.3L414.9 175.8L415.4 176.2L415.9 176.5" fill="none" stroke="#e2464f" stroke-width="1.15" stroke-linejoin="round" />
<path d="M318.9 148.9L319.4 148.9L319.9 149L320.4 149L320.9 149.1L321.4 149.1L321.9 149.1L322.4 149.2L322.9 149.2L323.4 149.2L323.9 149.3L324.4 149.3L324.9 149.3L325.4 149.4L325.9 149.4L326.4 149.4L326.9 149.4L327.4 149.4L327.9 149.5L328.4 149.5L328.9 149.5L329.4 149.5L329.9 149.5L330.4 149.5L330.9 149.5L331.4 149.5L331.9 149.6L332.4 149.6L332.9 149.6L333.4 149.6L333.9 149.6L334.4 149.6L334.9 149.6L335.4 149.6L335.9 149.6L336.4 149.6L336.9 149.6L337.4 149.6L337.9 149.6L338.4 149.6L338.9 149.6L339.4 149.6L339.9 149.6L340.4 149.6L340.9 149.6L341.4 149.6L341.9 149.5L342.4 149.3L342.9 149L343.4 148.6L343.9 148.2L344.4 147.7L344.9 147.2L345.4 146.7L345.9 146.1L346.4 145.5L346.9 144.9L347.4 144.3L347.9 143.7L348.4 143.1L348.9 142.6L349.4 142L349.9 141.4L350.4 140.8L350.9 140.2L351.4 139.6L351.9 138.9L352.4 138.2L352.9 137.5L353.4 136.8L353.9 136L354.4 135.3L354.9 134.5L355.4 133.6L355.9 132.8L356.4 131.9L356.9 131L357.4 130.1L357.9 129.1L358.4 128.2L358.9 127.2L359.4 126.2L359.9 125.2L360.4 123.8L360.9 122.4L361.4 120.9L361.9 119.8L362.4 119L362.9 118.9L363.4 119.4L363.9 120.1L364.4 121L364.9 121.8L365.4 122.8L365.9 123.9L366.4 125.2L366.9 126.5L367.4 127.9L367.9 129.4L368.4 130.8L368.9 132.3L369.4 133.7L369.9 135.3L370.4 137.1L370.9 138.9L371.4 140.7L371.9 142.4L372.4 143.9L372.9 145.3L373.4 146.3L373.9 147.3L374.4 148.1L374.9 148.9L375.4 149.6L375.9 150.2L376.4 150.8L376.9 151.3L377.4 151.8L377.9 152.2L378.4 152.6L378.9 152.9L379.4 153.3L379.9 153.6L380.4 153.9L380.9 154.2L381.4 154.5L381.9 154.8L382.4 155.2L382.9 155.5L383.4 155.9L383.9 156.3L384.4 156.7L384.9 157.2L385.4 157.6L385.9 158.2L386.4 158.7L386.9 159.3L387.4 160L387.9 160.8L388.4 161.7L388.9 162.8L389.4 163.8L389.9 164.8L390.4 165.8L390.9 166.6L391.4 167.4L391.9 168.3L392.4 169.1L392.9 169.7L393.4 170.1L393.9 170.1L394.4 170L394.9 170L395.4 169.9L395.9 169.7L396.4 169.6L396.9 169.4L397.4 169.2L397.9 168.9L398.4 168.7L398.9 168.5L399.4 168.2L399.9 167.7L400.4 167.1L400.9 166.5L401.4 165.8L401.9 165.1L402.4 164.5L402.9 163.9L403.4 163.5L403.9 163.2L404.4 162.8L404.9 162.5L405.4 162.3L405.9 162L406.4 161.9L406.9 161.7L407.4 161.7L407.9 162L408.4 162.6L408.9 163.6L409.4 164.9L409.9 166.2L410.4 167.5L410.9 168.7L411.4 169.6L411.9 170.6L412.4 171.6L412.9 172.6L413.4 173.6L413.9 174.5L414.4 175.3L414.9 176L415.4 176.6L415.9 176.9L416.4 177L416.9 177L417.4 177L417.9 176.9L418.4 176.9L418.9 176.8L419.4 176.8L419.9 176.7L420.4 176.6L420.9 176.6L421.4 176.5L421.9 176.4L422.4 176.3L422.9 176.2L423.4 176.1L423.9 175.9L424.4 175.8L424.9 175.6L425.4 175.4L425.9 175.1L426.4 174.9L426.9 174.6L427.4 174.4L427.9 174.1L428.4 173.8L428.9 173.6L429.4 173.3L429.9 173L430.4 172.8L430.9 172.5L431.4 172.2L431.9 171.9L432.4 171.5L432.9 171.2L433.4 170.9L433.9 170.6L434.4 170.3L434.9 170L435.4 169.7L435.9 169.4L436.4 169.1L436.9 168.8L437.4 168.5L437.9 168.2L438.4 167.9L438.9 167.7L439.4 167.4L439.9 167.1L440.4 166.8L440.9 166.6L441.4 166.3L441.9 166L442.4 165.8" fill="none" stroke="#72bf56" stroke-width="1.35" stroke-linejoin="round" />
<path d="M318.9 150.6L319.4 146L319.9 149.9L320.4 149.1L320.9 150.3L321.4 149.5L321.9 150.9L322.4 149.2L322.9 148.7L323.4 149.8L323.9 149.7L324.4 149L324.9 149.1L325.4 150L325.9 150L326.4 148.9L326.9 149.1L327.4 147.7L327.9 151L328.4 149.3L328.9 150.8L329.4 149.9L329.9 151.4L330.4 151L330.9 149.8L331.4 150.9L331.9 148.6L332.4 150.8L332.9 148.2L333.4 149.9L333.9 150.6L334.4 149.8L334.9 149.2L335.4 148.8L335.9 149.3L336.4 150.6L336.9 150.4L337.4 149.3L337.9 148.4L338.4 150.2L338.9 148.2L339.4 149.1L339.9 148.9L340.4 150.3L340.9 149.8L341.4 149.8L341.9 149.6L342.4 148.9L342.9 149.3L343.4 149.3L343.9 148.2L344.4 148.1L344.9 147.2L345.4 147.2L345.9 146.4L346.4 145.9L346.9 145.1L347.4 145.1L347.9 143.5L348.4 143L348.9 142.3L349.4 142.3L349.9 141.1L350.4 140.5L350.9 140.6L351.4 140.1L351.9 139.2L352.4 136.9L352.9 137L353.4 136.2L353.9 135.4L354.4 135.1L354.9 135.4L355.4 133.5L355.9 132.4L356.4 132.3L356.9 131L357.4 130.2L357.9 128.8L358.4 128.2L358.9 127.4L359.4 125.3L359.9 124.4L360.4 124.4L360.9 122.8L361.4 120.7L361.9 119.2L362.4 118.9L362.9 118.3L363.4 119.2L363.9 120.9L364.4 121L364.9 122.4L365.4 122.7L365.9 124.1L366.4 125.9L366.9 125.8L367.4 127.7L367.9 129.3L368.4 131L368.9 133.1L369.4 134.1L369.9 134.6L370.4 136.9L370.9 138.4L371.4 140.2L371.9 143.4L372.4 143.4L372.9 145.4L373.4 146L373.9 147.7L374.4 148.3L374.9 148.9L375.4 149.5L375.9 150.8L376.4 150.3L376.9 150.9L377.4 151.2L377.9 152.9L378.4 152.4L378.9 152.4L379.4 153.1L379.9 154.9L380.4 153.9L380.9 154.7L381.4 154.8L381.9 154.8L382.4 154.8L382.9 155.3L383.4 155.7L383.9 155.2L384.4 158L384.9 157.6L385.4 157.7L385.9 158.1L386.4 158.3L386.9 159.8L387.4 159.9L387.9 161L388.4 161L388.9 162.9L389.4 164.8L389.9 164.7L390.4 166.2L390.9 166.6L391.4 168L391.9 168.8L392.4 169.1L392.9 169.4L393.4 170.2L393.9 170.1L394.4 169.7L394.9 170.2L395.4 170.1L395.9 169.3L396.4 169.5L396.9 170.8L397.4 169.6L397.9 169L398.4 170L398.9 168.2L399.4 166.9L399.9 166.7L400.4 166.4L400.9 166.6L401.4 166.3L401.9 164L402.4 165L402.9 163.3L403.4 163.6L403.9 163.4L404.4 163.1L404.9 162.6L405.4 162.4L405.9 161.5L406.4 162L406.9 162.2L407.4 162.2L407.9 163.3L408.4 163.2L408.9 164L409.4 165.7L409.9 166.3L410.4 166.9L410.9 167.6L411.4 170.3L411.9 170.9L412.4 172L412.9 172.4L413.4 173.7L413.9 175.4L414.4 175.5L414.9 175.5L415.4 176.4L415.9 177.6L416.4 176L416.9 174.5L417.4 174.8L417.9 175.7L418.4 177.7L418.9 176.9L419.4 176.1L419.9 175.5L420.4 176.5L420.9 176.4L421.4 175.9L421.9 176.2L422.4 175.6L422.9 177.9L423.4 173.8L423.9 176.1L424.4 174.8L424.9 176.3L425.4 175.1L425.9 175.5L426.4 175.4L426.9 174.8L427.4 175.3L427.9 172.8L428.4 174.7L428.9 173.3L429.4 173.7L429.9 174.5L430.4 173.8L430.9 174.3L431.4 170L431.9 171L432.4 172.5L432.9 170.2L433.4 170.7L433.9 172.2L434.4 171.1L434.9 169.1L435.4 170.1L435.9 170L436.4 169.1L436.9 168.7L437.4 168.6L437.9 166.8L438.4 168.1L438.9 166.7L439.4 167.8L439.9 167.5L440.4 166L440.9 167.1L441.4 166.6L441.9 166L442.4 166.4" fill="none" stroke="#2e2e2e" stroke-width="1.15" stroke-linejoin="round" stroke-dasharray="1.1 1.4"/>
<path d="M318.9 148.4L319.4 148.5L319.9 149.1L320.4 148.9L320.9 150.8L321.4 145.5L321.9 148.7L322.4 146.1L322.9 148.4L323.4 149.6L323.9 149.2L324.4 150.7L324.9 149.8L325.4 145.1L325.9 147.6L326.4 151.7L326.9 151.8L327.4 149.5L327.9 147L328.4 152.7L328.9 146.2L329.4 149.9L329.9 149.3L330.4 149.8L330.9 147.6L331.4 148.8L331.9 151.1L332.4 148.7L332.9 147.3L333.4 149.4L333.9 149.6L334.4 149.2L334.9 148.2L335.4 150.3L335.9 149.3L336.4 147.6L336.9 149.8L337.4 149.4L337.9 149.7L338.4 146.8L338.9 148.3L339.4 150.2L339.9 150.9L340.4 150L340.9 149.7L341.4 150.3L341.9 150.5L342.4 151.1L342.9 149.4L343.4 147.9L343.9 148.7L344.4 145.5L344.9 147.2L345.4 146.1L345.9 146L346.4 146L346.9 144.9L347.4 142.7L347.9 143.3L348.4 142.2L348.9 142.5L349.4 142.4L349.9 140.4L350.4 141.6L350.9 141.6L351.4 139.3L351.9 139.7L352.4 136.6L352.9 136.9L353.4 137.8L353.9 134.1L354.4 134.7L354.9 133.5L355.4 134.9L355.9 134L356.4 131.2L356.9 131.1L357.4 127.2L357.9 130.1L358.4 128.6L358.9 128.7L359.4 123.6L359.9 125.5L360.4 123.4L360.9 119.5L361.4 120.2L361.9 119.7L362.4 119.9L362.9 119.2L363.4 118.8L363.9 120.6L364.4 120.8L364.9 121.1L365.4 121.7L365.9 124.1L366.4 125.3L366.9 128.5L367.4 127.4L367.9 131.1L368.4 131.2L368.9 133.6L369.4 132.7L369.9 134.4L370.4 136.7L370.9 139.8L371.4 140.9L371.9 143.2L372.4 144.3L372.9 146.4L373.4 146.6L373.9 146.7L374.4 148.7L374.9 149L375.4 151.5L375.9 150L376.4 150.9L376.9 151L377.4 153L377.9 153.2L378.4 153.3L378.9 151.6L379.4 151.6L379.9 153.9L380.4 154.7L380.9 155.9L381.4 152.6L381.9 154.7L382.4 153.3L382.9 154.5L383.4 155.6L383.9 157.3L384.4 156.1L384.9 156.4L385.4 157.3L385.9 159.5L386.4 161.4L386.9 157.6L387.4 159.7L387.9 160.3L388.4 163L388.9 163.2L389.4 165.5L389.9 163.7L390.4 165.8L390.9 166.1L391.4 166.2L391.9 168.1L392.4 167.8L392.9 172.1L393.4 170.5L393.9 169L394.4 169.4L394.9 171.9L395.4 169.3L395.9 170.5L396.4 170.2L396.9 170.6L397.4 169.9L397.9 168.7L398.4 168.1L398.9 166.5L399.4 168.1L399.9 167.8L400.4 166.7L400.9 166.3L401.4 164.4L401.9 167.5L402.4 163.9L402.9 162.8L403.4 162.8L403.9 163L404.4 163.7L404.9 159.9L405.4 162.8L405.9 161.4L406.4 161.7L406.9 162.9L407.4 162.5L407.9 161.2L408.4 162.5L408.9 165.7L409.4 166.4L409.9 167.1L410.4 167.5L410.9 169.7L411.4 170.1L411.9 170L412.4 170.5L412.9 173.1L413.4 174L413.9 175.8L414.4 174.8L414.9 177.6L415.4 176.2L415.9 178.3L416.4 177.8L416.9 176.1L417.4 175.5L417.9 176.8L418.4 176.5L418.9 178.3L419.4 175.7L419.9 174.4L420.4 176.6L420.9 179.5L421.4 179L421.9 175.4L422.4 175.9L422.9 176.7L423.4 175.1L423.9 175.6L424.4 175.4L424.9 174L425.4 174.4L425.9 174.4L426.4 175.3L426.9 172.8L427.4 174.5L427.9 172.6L428.4 172.6L428.9 171.8L429.4 179.5L429.9 175L430.4 174.8L430.9 173.7L431.4 171.8L431.9 172L432.4 172L432.9 171.9L433.4 171.8L433.9 173L434.4 165.7L434.9 169.1L435.4 170.7L435.9 168.8L436.4 168.8L436.9 171.1L437.4 168.8L437.9 171L438.4 167.9L438.9 168L439.4 165.7L439.9 164L440.4 166.2L440.9 166.7L441.4 165.8L441.9 164L442.4 166.8" fill="none" stroke="#505050" stroke-width="0.85" stroke-linejoin="round" stroke-dasharray="0.8 2.6" stroke-opacity="0.75"/>
<path d="M509.1 48.9L509.6 48.9L510.1 49L510.6 49L511.1 49.1L511.6 49.2L512.1 49.3L512.6 49.3L513.1 49.4L513.6 49.5L514.1 49.6L514.6 49.7L515.1 49.9L515.6 50L516.1 50.1L516.6 50.2L517.1 50.3L517.6 50.5L518.1 50.6L518.6 50.7L519.1 50.9L519.6 51L520.1 51.2L520.6 51.3L521.1 51.5L521.6 51.7L522.1 51.9L522.6 52.1L523.1 52.3L523.6 52.6L524.1 52.8L524.6 53.1L525.1 53.3L525.6 53.6L526.1 53.8L526.6 54.1L527.1 54.3L527.6 54.6L528.1 54.8L528.6 55.1L529.1 55.3L529.6 55.6L530.1 55.8L530.6 56.1L531.1 56.3L531.6 56.6L532.1 56.9L532.6 57.1L533.1 57.4L533.6 57.7L534.1 57.9L534.6 58.2L535.1 58.5L535.6 58.7L536.1 59L536.6 59.2L537.1 59.5L537.6 59.7L538.1 59.9L538.6 60.1L539.1 60.3L539.6 60.5L540.1 60.7L540.6 60.9L541.1 61L541.6 61.2L542.1 61.4L542.6 61.6L543.1 61.7L543.6 61.9L544.1 62.1L544.6 62.2L545.1 62.4L545.6 62.6L546.1 62.7L546.6 62.9L547.1 63L547.6 63.2L548.1 63.3L548.6 63.4L549.1 63.6L549.6 63.7L550.1 63.8L550.6 64L551.1 64.1L551.6 64.2L552.1 64.3L552.6 64.4L553.1 64.6L553.6 64.7L554.1 64.8L554.6 64.9L555.1 65L555.6 65.1L556.1 65.2L556.6 65.3L557.1 65.4L557.6 65.6L558.1 65.7L558.6 65.7L559.1 65.8L559.6 65.9L560.1 66L560.6 66.1L561.1 66.2L561.6 66.3L562.1 66.4L562.6 66.4L563.1 66.5L563.6 66.6L564.1 66.7L564.6 66.7L565.1 66.8L565.6 66.8L566.1 66.9L566.6 66.9L567.1 67L567.6 67.1L568.1 67.1L568.6 67.1L569.1 67.2L569.6 67.2L570.1 67.3L570.6 67.3L571.1 67.4L571.6 67.4L572.1 67.5L572.6 67.5L573.1 67.6L573.6 67.7L574.1 67.7L574.6 67.8L575.1 67.9L575.6 67.9L576.1 68L576.6 68.1L577.1 68.1L577.6 68.2L578.1 68.3L578.6 68.4L579.1 68.5L579.6 68.5L580.1 68.6L580.6 68.7L581.1 68.8L581.6 68.9L582.1 69L582.6 69.1L583.1 69.2L583.6 69.3L584.1 69.4" fill="none" stroke="#a96f58" stroke-width="1.3" stroke-linejoin="round" />
<path d="M535.4 58.6L535.9 58.9L536.4 59.1L536.9 59.3L537.4 59.6L537.9 59.7L538.4 59.9L538.9 60.1L539.4 60.2L539.9 60.3L540.4 60.4L540.9 60.4L541.4 60.4L541.9 60.4L542.4 60.3L542.9 60.2L543.4 60.1L543.9 59.9L544.4 59.7L544.9 59.5L545.4 59.3L545.9 59L546.4 58.8L546.9 58.7L547.4 58.6L547.9 58.6L548.4 58.6L548.9 58.7L549.4 58.9L549.9 59.2L550.4 59.5L550.9 59.9L551.4 60.4L551.9 60.9L552.4 61.4L552.9 61.9L553.4 62.4L553.9 62.8L554.4 63.3L554.9 63.7L555.4 64L555.9 64.4L556.4 64.7L556.9 64.9L557.4 65.2L557.9 65.4L558.4 65.5L558.9 65.7L559.4 65.8L559.9 65.9L560.4 66L560.9 66.1L561.4 66.2L561.9 66.3" fill="none" stroke="#5468d0" stroke-width="1.15" stroke-linejoin="round" />
<path d="M545.5 62.5L546 62.6L546.5 62.8L547 62.9L547.5 63L548 63L548.5 63L549 62.9L549.5 62.8L550 62.5L550.5 62.2L551 61.7L551.5 61.2L552 60.5L552.5 59.8L553 59.1L553.5 58.4L554 57.9L554.5 57.5L555 57.3L555.5 57.3L556 57.6L556.5 58.1L557 58.8L557.5 59.6L558 60.5L558.5 61.4L559 62.3L559.5 63.2L560 63.9L560.5 64.6L561 65.1L561.5 65.5L562 65.8L562.5 66.1L563 66.3L563.5 66.4L564 66.6L564.5 66.7L565 66.7" fill="none" stroke="#e2464f" stroke-width="1.15" stroke-linejoin="round" />
<path d="M559.6 65.9L560.1 66L560.6 66.1L561.1 66.1L561.6 66.2L562.1 66.2L562.6 66.3L563.1 66.3L563.6 66.2L564.1 66.2L564.6 66.1L565.1 65.9L565.6 65.7L566.1 65.5L566.6 65.2L567.1 64.8L567.6 64.4L568.1 64L568.6 63.5L569.1 63L569.6 62.6L570.1 62.1L570.6 61.8L571.1 61.5L571.6 61.3L572.1 61.1L572.6 61.2L573.1 61.3L573.6 61.5L574.1 61.9L574.6 62.3L575.1 62.9L575.6 63.4L576.1 64L576.6 64.6L577.1 65.2L577.6 65.7L578.1 66.3L578.6 66.7L579.1 67.2L579.6 67.5L580.1 67.9L580.6 68.1L581.1 68.4L581.6 68.6L582.1 68.8L582.6 68.9L583.1 69.1L583.6 69.2L584.1 69.3" fill="none" stroke="#5468d0" stroke-width="1.15" stroke-linejoin="round" />
<path d="M568.1 67.1L568.6 67.1L569.1 67.1L569.6 67.1L570.1 67.1L570.6 67L571.1 66.9L571.6 66.7L572.1 66.4L572.6 66L573.1 65.5L573.6 64.8L574.1 64L574.6 63.1L575.1 62.2L575.6 61.2L576.1 60.3L576.6 59.6L577.1 59L577.6 58.7L578.1 58.7L578.6 59L579.1 59.6L579.6 60.4L580.1 61.3L580.6 62.4L581.1 63.5L581.6 64.6L582.1 65.6L582.6 66.5L583.1 67.3L583.6 67.9L584.1 68.4" fill="none" stroke="#e2464f" stroke-width="1.15" stroke-linejoin="round" />
<path d="M489.1 48.2L489.6 48.3L490.1 48.3L490.6 48.3L491.1 48.4L491.6 48.4L492.1 48.5L492.6 48.5L493.1 48.5L493.6 48.6L494.1 48.6L494.6 48.6L495.1 48.7L495.6 48.7L496.1 48.7L496.6 48.7L497.1 48.7L497.6 48.8L498.1 48.8L498.6 48.8L499.1 48.8L499.6 48.8L500.1 48.8L500.6 48.8L501.1 48.9L501.6 48.9L502.1 48.9L502.6 48.9L503.1 48.9L503.6 48.9L504.1 48.9L504.6 48.9L505.1 48.9L505.6 48.9L506.1 48.9L506.6 48.9L507.1 48.9L507.6 48.9L508.1 48.9L508.6 48.9L509.1 48.9L509.6 48.9L510.1 48.7L510.6 48.5L511.1 48.2L511.6 47.8L512.1 47.4L512.6 46.9L513.1 46.4L513.6 45.8L514.1 45.3L514.6 44.7L515.1 44.1L515.6 43.5L516.1 42.9L516.6 42.3L517.1 41.8L517.6 41.2L518.1 40.6L518.6 40L519.1 39.4L519.6 38.8L520.1 38.1L520.6 37.5L521.1 36.8L521.6 36.1L522.1 35.3L522.6 34.6L523.1 33.8L523.6 33L524.1 32.2L524.6 31.4L525.1 30.5L525.6 29.6L526.1 28.7L526.6 27.7L527.1 26.8L527.6 25.8L528.1 24.8L528.6 23.8L529.1 22.7L529.6 21.2L530.1 19.8L530.6 18.4L531.1 17.3L531.6 16.8L532.1 16.8L532.6 17.4L533.1 18.3L533.6 19.2L534.1 20.3L534.6 21.5L535.1 22.8L535.6 24.3L536.1 25.8L536.6 27.4L537.1 29L537.6 30.7L538.1 32.3L538.6 34.1L539.1 36.1L539.6 38.1L540.1 40L540.6 41.8L541.1 43.4L541.6 44.6L542.1 45.7L542.6 46.7L543.1 47.7L543.6 48.5L544.1 49.1L544.6 49.5L545.1 49.8L545.6 50L546.1 50.2L546.6 50.4L547.1 50.5L547.6 50.7L548.1 50.8L548.6 50.9L549.1 51L549.6 51L550.1 51.1L550.6 51.2L551.1 51.3L551.6 51.5L552.1 51.6L552.6 51.8L553.1 52L553.6 52.2L554.1 52.5L554.6 52.9L555.1 53.4L555.6 54L556.1 54.6L556.6 55.3L557.1 56L557.6 56.8L558.1 57.7L558.6 58.7L559.1 59.7L559.6 60.7L560.1 61.6L560.6 62.3L561.1 63.1L561.6 64L562.1 64.8L562.6 65.5L563.1 65.9L563.6 66.1L564.1 66.1L564.6 66L565.1 65.9L565.6 65.7L566.1 65.5L566.6 65.3L567.1 65L567.6 64.8L568.1 64.5L568.6 64.2L569.1 63.8L569.6 63.2L570.1 62.5L570.6 61.7L571.1 60.8L571.6 60L572.1 59.1L572.6 58.5L573.1 57.9L573.6 57.5L574.1 57.1L574.6 56.8L575.1 56.4L575.6 56.1L576.1 55.9L576.6 55.8L577.1 55.9L577.6 56.4L578.1 57.4L578.6 58.7L579.1 60.1L579.6 61.5L580.1 62.6L580.6 63.6L581.1 64.7L581.6 65.7L582.1 66.8L582.6 67.7L583.1 68.5L583.6 69.1L584.1 69.4L584.6 69.4L585.1 69.4L585.6 69.4L586.1 69.4L586.6 69.3L587.1 69.3L587.6 69.3L588.1 69.2L588.6 69.2L589.1 69.1L589.6 69.1L590.1 69L590.6 68.9L591.1 68.9L591.6 68.8L592.1 68.7L592.6 68.6L593.1 68.5L593.6 68.4L594.1 68.2L594.6 68.1L595.1 67.9L595.6 67.8L596.1 67.6L596.6 67.4L597.1 67.3L597.6 67.1L598.1 66.9L598.6 66.7L599.1 66.6L599.6 66.4L600.1 66.2L600.6 66L601.1 65.8L601.6 65.6L602.1 65.4L602.6 65.2L603.1 65L603.6 64.8L604.1 64.6L604.6 64.4L605.1 64.2L605.6 64L606.1 63.8L606.6 63.6L607.1 63.5L607.6 63.3L608.1 63.1L608.6 62.9L609.1 62.7L609.6 62.6L610.1 62.4L610.6 62.2L611.1 62L611.6 61.9L612.1 61.7" fill="none" stroke="#72bf56" stroke-width="1.35" stroke-linejoin="round" />
<path d="M489.1 48.9L489.6 47.3L490.1 46.8L490.6 45.6L491.1 48.1L491.6 49.6L492.1 48.5L492.6 49L493.1 49.5L493.6 47.7L494.1 51.1L494.6 47.8L495.1 49L495.6 51.3L496.1 48.6L496.6 48.8L497.1 48.3L497.6 49.1L498.1 46.8L498.6 48.2L499.1 50.4L499.6 49L500.1 48.6L500.6 49.2L501.1 49.2L501.6 49L502.1 49.4L502.6 47.3L503.1 49.4L503.6 48.2L504.1 49.6L504.6 48.9L505.1 47.9L505.6 48.8L506.1 47.9L506.6 49.9L507.1 48.9L507.6 49.7L508.1 47.8L508.6 50.4L509.1 48.7L509.6 49.5L510.1 49.1L510.6 47.9L511.1 48.3L511.6 47.5L512.1 47.6L512.6 47.6L513.1 46.7L513.6 46.4L514.1 44.7L514.6 44.8L515.1 44.2L515.6 44L516.1 42.6L516.6 42.6L517.1 42L517.6 40.4L518.1 40.1L518.6 40.3L519.1 38.8L519.6 38.2L520.1 38.6L520.6 37.6L521.1 36.7L521.6 36.1L522.1 35.1L522.6 34.3L523.1 33.6L523.6 33.2L524.1 32.9L524.6 31.1L525.1 30.5L525.6 29.5L526.1 28L526.6 27.9L527.1 27.2L527.6 25.4L528.1 25.2L528.6 23.5L529.1 23.2L529.6 21.8L530.1 19.6L530.6 17.4L531.1 17.2L531.6 16.1L532.1 16.2L532.6 17.3L533.1 19L533.6 19.2L534.1 20.1L534.6 20.5L535.1 22.5L535.6 23.6L536.1 26.1L536.6 27.2L537.1 29L537.6 30.7L538.1 32.2L538.6 34.6L539.1 36.3L539.6 37.9L540.1 40.1L540.6 42.1L541.1 44.1L541.6 44.7L542.1 46.4L542.6 46.4L543.1 47.5L543.6 47.7L544.1 49.5L544.6 49L545.1 49.3L545.6 50.5L546.1 50L546.6 50L547.1 51L547.6 50.6L548.1 51.2L548.6 50.7L549.1 51.3L549.6 51.6L550.1 51.2L550.6 52.1L551.1 51.1L551.6 51.4L552.1 51.6L552.6 52.3L553.1 51.8L553.6 52L554.1 52.6L554.6 53.6L555.1 53.2L555.6 53.4L556.1 54.6L556.6 55.6L557.1 55.7L557.6 56.9L558.1 56.8L558.6 58.7L559.1 59.7L559.6 61L560.1 61.7L560.6 62.7L561.1 62.6L561.6 64.3L562.1 63.9L562.6 65.2L563.1 66.5L563.6 66.5L564.1 65.1L564.6 66.3L565.1 65.7L565.6 65.3L566.1 65.6L566.6 65.4L567.1 65.7L567.6 64L568.1 64.3L568.6 64.1L569.1 62.9L569.6 63.8L570.1 63.4L570.6 61.4L571.1 61L571.6 59.8L572.1 59.3L572.6 58.1L573.1 58.3L573.6 56.9L574.1 57.8L574.6 56.9L575.1 57.6L575.6 55.3L576.1 55.9L576.6 55.2L577.1 55.8L577.6 56.6L578.1 57L578.6 58L579.1 59.3L579.6 61.6L580.1 63.3L580.6 64.2L581.1 64.7L581.6 65.2L582.1 66.6L582.6 67L583.1 67.7L583.6 69.6L584.1 69.2L584.6 69.7L585.1 69.1L585.6 70.6L586.1 70.7L586.6 68.6L587.1 68.9L587.6 68.6L588.1 70.5L588.6 70.3L589.1 68.8L589.6 71.2L590.1 69L590.6 67.8L591.1 66.9L591.6 68.7L592.1 69L592.6 68.1L593.1 68.9L593.6 69.5L594.1 68.2L594.6 68.9L595.1 69.5L595.6 68.2L596.1 67L596.6 67.8L597.1 67.8L597.6 69.1L598.1 66.5L598.6 65.3L599.1 66.9L599.6 66.7L600.1 65.8L600.6 66.5L601.1 66.1L601.6 66.8L602.1 64.6L602.6 64.5L603.1 65L603.6 64.3L604.1 65.8L604.6 64.9L605.1 64.2L605.6 65.5L606.1 64.3L606.6 64.6L607.1 64.2L607.6 63.1L608.1 63L608.6 62.9L609.1 61.7L609.6 62.2L610.1 63.2L610.6 62.5L611.1 61.1L611.6 64.1L612.1 60.7" fill="none" stroke="#2e2e2e" stroke-width="1.15" stroke-linejoin="round" stroke-dasharray="1.1 1.4"/>
<path d="M489.1 49.2L489.6 49.4L490.1 50.3L490.6 47L491.1 48.4L491.6 48.1L492.1 50.2L492.6 49.1L493.1 49.2L493.6 49.4L494.1 51.6L494.6 49.7L495.1 50.1L495.6 47.3L496.1 49.8L496.6 46.9L497.1 50.3L497.6 49.1L498.1 47.5L498.6 47.1L499.1 48.7L499.6 49.1L500.1 48.1L500.6 48.4L501.1 48.5L501.6 48.1L502.1 48.7L502.6 49.4L503.1 51L503.6 50L504.1 48.1L504.6 51.5L505.1 50.8L505.6 48.6L506.1 50.6L506.6 48.2L507.1 47.9L507.6 47.9L508.1 51.6L508.6 49.3L509.1 49.4L509.6 49L510.1 48.4L510.6 49.1L511.1 49.1L511.6 50.1L512.1 46.6L512.6 48.7L513.1 47.3L513.6 44.1L514.1 46.5L514.6 46.6L515.1 45.4L515.6 43.9L516.1 43.2L516.6 40.3L517.1 42.3L517.6 41.6L518.1 39.8L518.6 40.4L519.1 38.9L519.6 41.4L520.1 36.9L520.6 36.6L521.1 34.5L521.6 35.7L522.1 35.6L522.6 34.7L523.1 33.2L523.6 34.1L524.1 32.6L524.6 32.8L525.1 30.5L525.6 27.8L526.1 28.6L526.6 26.7L527.1 27.8L527.6 25.2L528.1 24.6L528.6 23.9L529.1 21L529.6 20.9L530.1 20.8L530.6 17.8L531.1 17.2L531.6 17L532.1 16.1L532.6 17.1L533.1 18.8L533.6 18.8L534.1 20.3L534.6 21.3L535.1 21.7L535.6 22.9L536.1 28L536.6 28.9L537.1 28.9L537.6 31.7L538.1 33.5L538.6 35.2L539.1 35.7L539.6 36.5L540.1 38.7L540.6 41.6L541.1 44.9L541.6 46.3L542.1 45.5L542.6 46.4L543.1 49L543.6 50.7L544.1 48.1L544.6 50.1L545.1 50L545.6 49.7L546.1 49.9L546.6 50.1L547.1 50.6L547.6 49L548.1 50.8L548.6 51.8L549.1 51.8L549.6 51.9L550.1 51.5L550.6 51.5L551.1 53.5L551.6 51.3L552.1 51.8L552.6 53.2L553.1 52L553.6 50.8L554.1 51.9L554.6 52.5L555.1 53.3L555.6 53.6L556.1 55.7L556.6 56.1L557.1 56.5L557.6 56.4L558.1 58.9L558.6 59.8L559.1 62.1L559.6 60L560.1 61.5L560.6 63.9L561.1 62L561.6 64.3L562.1 65.1L562.6 65.6L563.1 64.9L563.6 66.2L564.1 64.5L564.6 67.4L565.1 65.4L565.6 65.9L566.1 65.5L566.6 65.5L567.1 65.2L567.6 65.3L568.1 64.1L568.6 64.2L569.1 62.6L569.6 62.1L570.1 61.6L570.6 60.6L571.1 59.4L571.6 59.3L572.1 59.9L572.6 58.9L573.1 57.5L573.6 57.9L574.1 57.6L574.6 59.7L575.1 54.7L575.6 56.4L576.1 54.5L576.6 57.2L577.1 55.6L577.6 56.9L578.1 57.7L578.6 59.5L579.1 57L579.6 60.3L580.1 62.8L580.6 62.2L581.1 65.3L581.6 67.1L582.1 65.4L582.6 67.3L583.1 69.2L583.6 71.1L584.1 70.5L584.6 70.6L585.1 68.1L585.6 69.5L586.1 69.6L586.6 68.5L587.1 70L587.6 68.8L588.1 68.6L588.6 72.5L589.1 68.9L589.6 72L590.1 68.5L590.6 68.9L591.1 67L591.6 68L592.1 71.2L592.6 68.7L593.1 65.5L593.6 70.6L594.1 66.9L594.6 67.5L595.1 67.9L595.6 64.9L596.1 70L596.6 69.4L597.1 66.8L597.6 67.6L598.1 66.5L598.6 65.8L599.1 66.2L599.6 64.2L600.1 65.6L600.6 65.1L601.1 68.7L601.6 63.4L602.1 67.3L602.6 66.3L603.1 65.2L603.6 63.9L604.1 67.4L604.6 66.6L605.1 64.1L605.6 63.7L606.1 64.1L606.6 66.4L607.1 62.1L607.6 63.4L608.1 64.8L608.6 60.8L609.1 62.6L609.6 64.3L610.1 61.7L610.6 62L611.1 59.7L611.6 62.5L612.1 59.9" fill="none" stroke="#505050" stroke-width="0.85" stroke-linejoin="round" stroke-dasharray="0.8 2.6" stroke-opacity="0.75"/>
<path d="M504.7 101.1L505.2 101.1L505.7 101.2L506.2 101.2L506.7 101.3L507.2 101.4L507.7 101.4L508.2 101.5L508.7 101.6L509.2 101.7L509.7 101.8L510.2 101.9L510.7 102L511.2 102.1L511.7 102.2L512.2 102.3L512.7 102.5L513.2 102.6L513.7 102.7L514.2 102.9L514.7 103L515.2 103.1L515.7 103.3L516.2 103.4L516.7 103.5L517.2 103.7L517.7 103.9L518.2 104.1L518.7 104.3L519.2 104.5L519.7 104.7L520.2 104.9L520.7 105.2L521.2 105.4L521.7 105.7L522.2 105.9L522.7 106.1L523.2 106.4L523.7 106.6L524.2 106.9L524.7 107.1L525.2 107.4L525.7 107.6L526.2 107.9L526.7 108.1L527.2 108.4L527.7 108.6L528.2 108.9L528.7 109.1L529.2 109.4L529.7 109.7L530.2 109.9L530.7 110.2L531.2 110.5L531.7 110.7L532.2 111L532.7 111.3L533.2 111.5L533.7 111.8L534.2 112L534.7 112.3L535.2 112.5L535.7 112.7L536.2 112.9L536.7 113.1L537.2 113.3L537.7 113.5L538.2 113.7L538.7 113.9L539.2 114L539.7 114.2L540.2 114.4L540.7 114.6L541.2 114.8L541.7 114.9L542.2 115.1L542.7 115.3L543.2 115.4L543.7 115.6L544.2 115.7L544.7 115.9L545.2 116L545.7 116.2L546.2 116.3L546.7 116.5L547.2 116.6L547.7 116.7L548.2 116.9L548.7 117L549.2 117.1L549.7 117.2L550.2 117.4L550.7 117.5L551.2 117.6L551.7 117.7L552.2 117.9L552.7 118L553.2 118.1L553.7 118.2L554.2 118.3L554.7 118.4L555.2 118.5L555.7 118.6L556.2 118.7L556.7 118.8L557.2 118.9L557.7 119L558.2 119.1L558.7 119.2L559.2 119.3L559.7 119.4L560.2 119.5L560.7 119.6L561.2 119.7L561.7 119.8L562.2 119.8L562.7 119.9L563.2 120L563.7 120.1L564.2 120.1L564.7 120.2L565.2 120.3L565.7 120.3L566.2 120.4L566.7 120.4L567.2 120.5L567.7 120.5L568.2 120.6L568.7 120.6L569.2 120.7L569.7 120.7L570.2 120.8L570.7 120.8L571.2 120.9L571.7 120.9L572.2 121L572.7 121L573.2 121.1L573.7 121.1L574.2 121.2L574.7 121.2L575.2 121.3L575.7 121.4L576.2 121.4L576.7 121.5L577.2 121.6L577.7 121.6L578.2 121.7L578.7 121.8L579.2 121.9L579.7 121.9L580.2 122L580.7 122.1L581.2 122.2L581.7 122.3L582.2 122.4L582.7 122.4L583.2 122.5L583.7 122.6L584.2 122.7L584.7 122.8L585.2 122.9L585.7 123L586.2 123.1" fill="none" stroke="#a96f58" stroke-width="1.3" stroke-linejoin="round" />
<path d="M535.4 112.6L535.9 112.8L536.4 113L536.9 113.2L537.4 113.3L537.9 113.5L538.4 113.6L538.9 113.8L539.4 113.9L539.9 113.9L540.4 114L540.9 114L541.4 114L541.9 113.9L542.4 113.8L542.9 113.6L543.4 113.4L543.9 113.2L544.4 112.9L544.9 112.7L545.4 112.4L545.9 112.1L546.4 111.8L546.9 111.6L547.4 111.5L547.9 111.4L548.4 111.5L548.9 111.6L549.4 111.8L549.9 112.1L550.4 112.4L550.9 112.9L551.4 113.4L551.9 113.9L552.4 114.4L552.9 115L553.4 115.5L553.9 116L554.4 116.5L554.9 117L555.4 117.4L555.9 117.7L556.4 118.1L556.9 118.3L557.4 118.6L557.9 118.8L558.4 119L558.9 119.1L559.4 119.3L559.9 119.4L560.4 119.5L560.9 119.6L561.4 119.7L561.9 119.8" fill="none" stroke="#5468d0" stroke-width="1.15" stroke-linejoin="round" />
<path d="M545.5 116.1L546 116.2L546.5 116.4L547 116.5L547.5 116.6L548 116.6L548.5 116.6L549 116.6L549.5 116.5L550 116.3L550.5 116.1L551 115.7L551.5 115.3L552 114.8L552.5 114.3L553 113.8L553.5 113.3L554 112.9L554.5 112.6L555 112.4L555.5 112.5L556 112.7L556.5 113.1L557 113.7L557.5 114.4L558 115.1L558.5 115.8L559 116.6L559.5 117.2L560 117.8L560.5 118.4L561 118.8L561.5 119.1L562 119.4L562.5 119.6L563 119.8L563.5 119.9L564 120L564.5 120.1L565 120.2" fill="none" stroke="#e2464f" stroke-width="1.15" stroke-linejoin="round" />
<path d="M559.6 119.4L560.1 119.5L560.6 119.5L561.1 119.6L561.6 119.6L562.1 119.7L562.6 119.7L563.1 119.7L563.6 119.7L564.1 119.6L564.6 119.5L565.1 119.3L565.6 119.1L566.1 118.8L566.6 118.5L567.1 118.1L567.6 117.6L568.1 117.1L568.6 116.6L569.1 116.1L569.6 115.5L570.1 115.1L570.6 114.6L571.1 114.3L571.6 114.1L572.1 113.9L572.6 113.9L573.1 114.1L573.6 114.3L574.1 114.7L574.6 115.2L575.1 115.8L575.6 116.4L576.1 117L576.6 117.6L577.1 118.3L577.6 118.9L578.1 119.4L578.6 120L579.1 120.4L579.6 120.8L580.1 121.1L580.6 121.4L581.1 121.7L581.6 121.9L582.1 122.1L582.6 122.2L583.1 122.4L583.6 122.5L584.1 122.6L584.6 122.7L585.1 122.8" fill="none" stroke="#5468d0" stroke-width="1.15" stroke-linejoin="round" />
<path d="M568.1 120.6L568.6 120.6L569.1 120.6L569.6 120.6L570.1 120.6L570.6 120.5L571.1 120.4L571.6 120.3L572.1 120L572.6 119.7L573.1 119.3L573.6 118.7L574.1 118L574.6 117.3L575.1 116.5L575.6 115.7L576.1 115L576.6 114.3L577.1 113.9L577.6 113.6L578.1 113.6L578.6 113.9L579.1 114.4L579.6 115L580.1 115.9L580.6 116.8L581.1 117.7L581.6 118.7L582.1 119.5L582.6 120.3L583.1 120.9L583.6 121.5L584.1 121.9L584.6 122.2L585.1 122.5L585.6 122.7L586.1 122.9" fill="none" stroke="#e2464f" stroke-width="1.15" stroke-linejoin="round" />
<path d="M491.3 100L491.8 100.1L492.3 100.2L492.8 100.3L493.3 100.4L493.8 100.5L494.3 100.6L494.8 100.7L495.3 100.7L495.8 100.8L496.3 100.8L496.8 100.9L497.3 100.9L497.8 100.9L498.3 101L498.8 101L499.3 101L499.8 101L500.3 101.1L500.8 101.1L501.3 101.1L501.8 101.1L502.3 101.1L502.8 101.1L503.3 101.1L503.8 101.1L504.3 101.1L504.8 101.1L505.3 101L505.8 100.9L506.3 100.7L506.8 100.5L507.3 100.2L507.8 99.9L508.3 99.5L508.8 99.1L509.3 98.6L509.8 98.1L510.3 97.6L510.8 97.1L511.3 96.6L511.8 96.1L512.3 95.5L512.8 95L513.3 94.5L513.8 94L514.3 93.5L514.8 93L515.3 92.5L515.8 92L516.3 91.4L516.8 90.9L517.3 90.3L517.8 89.8L518.3 89.2L518.8 88.6L519.3 87.9L519.8 87.3L520.3 86.7L520.8 86L521.3 85.3L521.8 84.6L522.3 83.9L522.8 83.2L523.3 82.4L523.8 81.7L524.3 80.9L524.8 80.1L525.3 79.2L525.8 78.4L526.3 77.6L526.8 76.7L527.3 75.8L527.8 74.9L528.3 74L528.8 73L529.3 71.7L529.8 70.4L530.3 69.1L530.8 68L531.3 67.2L531.8 66.7L532.3 66.8L532.8 67.4L533.3 68.4L533.8 69.3L534.3 70.4L534.8 71.6L535.3 73L535.8 74.5L536.3 76.1L536.8 77.8L537.3 79.5L537.8 81.1L538.3 82.8L538.8 84.7L539.3 86.8L539.8 88.8L540.3 90.8L540.8 92.6L541.3 94.1L541.8 95.3L542.3 96.4L542.8 97.3L543.3 98.2L543.8 99L544.3 99.6L544.8 100.1L545.3 100.5L545.8 100.8L546.3 101.1L546.8 101.4L547.3 101.6L547.8 101.8L548.3 102L548.8 102.2L549.3 102.4L549.8 102.6L550.3 102.7L550.8 102.9L551.3 103.1L551.8 103.3L552.3 103.6L552.8 103.9L553.3 104.2L553.8 104.6L554.3 105L554.8 105.5L555.3 106L555.8 106.6L556.3 107.2L556.8 107.9L557.3 108.7L557.8 109.6L558.3 110.6L558.8 111.7L559.3 112.7L559.8 113.7L560.3 114.6L560.8 115.5L561.3 116.3L561.8 117.2L562.3 118L562.8 118.6L563.3 119L563.8 119.1L564.3 119L564.8 118.9L565.3 118.8L565.8 118.6L566.3 118.4L566.8 118.1L567.3 117.9L567.8 117.6L568.3 117.3L568.8 116.9L569.3 116.5L569.8 115.8L570.3 115L570.8 114.1L571.3 113.2L571.8 112.3L572.3 111.5L572.8 110.8L573.3 110.4L573.8 109.9L574.3 109.5L574.8 109.2L575.3 108.8L575.8 108.6L576.3 108.4L576.8 108.3L577.3 108.4L577.8 109L578.3 109.8L578.8 110.9L579.3 112.1L579.8 113.3L580.3 114.4L580.8 115.4L581.3 116.3L581.8 117.1L582.3 118.1L582.8 119L583.3 119.9L583.8 120.7L584.3 121.5L584.8 122.2L585.3 122.7L585.8 123L586.3 123.1L586.8 123.1L587.3 123.1L587.8 123.1L588.3 123L588.8 123L589.3 122.9L589.8 122.9L590.3 122.8L590.8 122.7L591.3 122.6L591.8 122.6L592.3 122.5L592.8 122.4L593.3 122.3L593.8 122.2L594.3 122.1L594.8 121.9L595.3 121.7L595.8 121.5L596.3 121.3L596.8 121.1L597.3 120.8L597.8 120.6L598.3 120.3L598.8 120.1L599.3 119.8L599.8 119.6L600.3 119.3L600.8 119.1L601.3 118.8L601.8 118.5L602.3 118.3L602.8 118L603.3 117.7L603.8 117.4L604.3 117.1L604.8 116.8L605.3 116.5L605.8 116.2L606.3 115.9L606.8 115.7L607.3 115.4L607.8 115.1L608.3 114.9L608.8 114.6L609.3 114.4L609.8 114.1L610.3 113.8L610.8 113.6L611.3 113.3L611.8 113.1L612.3 112.8L612.8 112.6L613.3 112.3" fill="none" stroke="#72bf56" stroke-width="1.35" stroke-linejoin="round" />
<path d="M491.3 98.6L491.8 99.2L492.3 100.6L492.8 99.8L493.3 100.9L493.8 101.3L494.3 99.2L494.8 101.6L495.3 100.2L495.8 102.8L496.3 101.5L496.8 100.4L497.3 101.1L497.8 101.2L498.3 101.3L498.8 102.3L499.3 101.5L499.8 102.6L500.3 101.7L500.8 100.9L501.3 99.6L501.8 99.6L502.3 101.3L502.8 101.8L503.3 102.5L503.8 100.5L504.3 101.2L504.8 100.7L505.3 100.8L505.8 99.8L506.3 101.1L506.8 100.1L507.3 100.2L507.8 100.1L508.3 99.7L508.8 98.4L509.3 99.4L509.8 98.5L510.3 97.9L510.8 96.8L511.3 95.8L511.8 95.2L512.3 95.4L512.8 95.1L513.3 94.1L513.8 94.9L514.3 93.6L514.8 93.5L515.3 93L515.8 91.4L516.3 91.9L516.8 91.1L517.3 89.7L517.8 90.1L518.3 89.7L518.8 89L519.3 88.5L519.8 86.6L520.3 86.5L520.8 85.7L521.3 85.3L521.8 84.7L522.3 84.5L522.8 83.6L523.3 82L523.8 82.1L524.3 81.7L524.8 80.2L525.3 78.5L525.8 78.1L526.3 77.5L526.8 75.9L527.3 75.8L527.8 74.3L528.3 74.4L528.8 73.3L529.3 71.7L529.8 69.7L530.3 69.3L530.8 67.7L531.3 66.8L531.8 67.3L532.3 66.4L532.8 66.8L533.3 68.8L533.8 70.2L534.3 71.2L534.8 72L535.3 74.1L535.8 74.4L536.3 77.2L536.8 78.8L537.3 79.3L537.8 81.3L538.3 82.2L538.8 84.2L539.3 87.1L539.8 88.2L540.3 90.9L540.8 92.8L541.3 94.2L541.8 95.8L542.3 97.3L542.8 97.4L543.3 98.7L543.8 99.7L544.3 99.4L544.8 99.8L545.3 99.3L545.8 101L546.3 101.6L546.8 101.6L547.3 102.7L547.8 102.6L548.3 102.4L548.8 102.2L549.3 102L549.8 102.6L550.3 103L550.8 102.9L551.3 103L551.8 103.2L552.3 104L552.8 103L553.3 104L553.8 104.6L554.3 105.3L554.8 105.8L555.3 105.9L555.8 106.3L556.3 106.7L556.8 108.5L557.3 109L557.8 109.8L558.3 110.3L558.8 111.1L559.3 113.3L559.8 113.7L560.3 114.9L560.8 116.4L561.3 115.6L561.8 116.8L562.3 118.2L562.8 119L563.3 118.5L563.8 119.1L564.3 118.8L564.8 118.7L565.3 119L565.8 118.7L566.3 119L566.8 118.5L567.3 118.6L567.8 117.2L568.3 117.5L568.8 116.2L569.3 115.7L569.8 115.1L570.3 115.4L570.8 114.2L571.3 112.4L571.8 113L572.3 112L572.8 110.7L573.3 110.2L573.8 109.9L574.3 108.9L574.8 110.3L575.3 108.6L575.8 108.5L576.3 108.2L576.8 108L577.3 108L577.8 109.1L578.3 109.2L578.8 110.3L579.3 111.6L579.8 113.7L580.3 113.9L580.8 114.9L581.3 116.4L581.8 116.6L582.3 117.9L582.8 119.4L583.3 120.1L583.8 120.7L584.3 122.3L584.8 121.9L585.3 122.3L585.8 122.1L586.3 123.1L586.8 123.7L587.3 122.4L587.8 124.8L588.3 124L588.8 123.8L589.3 121.8L589.8 123.1L590.3 123.1L590.8 120.8L591.3 122.6L591.8 122.3L592.3 120.8L592.8 122.8L593.3 124.2L593.8 122.9L594.3 121.2L594.8 121.6L595.3 122.8L595.8 120.7L596.3 121.6L596.8 121.1L597.3 121L597.8 122.1L598.3 118.9L598.8 121.2L599.3 120.1L599.8 119.5L600.3 117.7L600.8 119.4L601.3 118.4L601.8 115.7L602.3 116.9L602.8 116.8L603.3 116.7L603.8 116.8L604.3 116.3L604.8 118.3L605.3 117.5L605.8 116.1L606.3 117.3L606.8 117.7L607.3 115.9L607.8 113.9L608.3 115.2L608.8 116L609.3 113.4L609.8 114.1L610.3 114.7L610.8 114.7L611.3 114.1L611.8 113.4L612.3 112.7L612.8 112L613.3 113.3" fill="none" stroke="#2e2e2e" stroke-width="1.15" stroke-linejoin="round" stroke-dasharray="1.1 1.4"/>
<path d="M491.3 101.4L491.8 99.4L492.3 99.2L492.8 102.3L493.3 102L493.8 99.3L494.3 98L494.8 100.8L495.3 102L495.8 102.3L496.3 102.1L496.8 98.5L497.3 101L497.8 100.3L498.3 99.8L498.8 105.1L499.3 101L499.8 101.4L500.3 100.6L500.8 102.1L501.3 102.9L501.8 100.6L502.3 101L502.8 100.4L503.3 99.5L503.8 100.8L504.3 101.6L504.8 101.1L505.3 100.8L505.8 98.9L506.3 101.1L506.8 100.7L507.3 101.9L507.8 99.1L508.3 97.9L508.8 96.9L509.3 97.9L509.8 98L510.3 97.9L510.8 95.4L511.3 95.9L511.8 97.1L512.3 95.6L512.8 94.6L513.3 94L513.8 92.2L514.3 91.9L514.8 92.4L515.3 93.8L515.8 93.2L516.3 91.2L516.8 91.6L517.3 90.8L517.8 91L518.3 88.4L518.8 88.8L519.3 89L519.8 85.9L520.3 86.6L520.8 86.2L521.3 85.8L521.8 85.2L522.3 84.5L522.8 84.3L523.3 83.9L523.8 82.1L524.3 83.3L524.8 79.5L525.3 79L525.8 78.8L526.3 76.7L526.8 75.1L527.3 74.4L527.8 76.2L528.3 73.3L528.8 71.5L529.3 73.8L529.8 70.8L530.3 69.3L530.8 66.9L531.3 67.5L531.8 66.2L532.3 67.1L532.8 67.4L533.3 68.1L533.8 69.5L534.3 69.4L534.8 71.1L535.3 72.1L535.8 75L536.3 76.9L536.8 78.7L537.3 77.3L537.8 83L538.3 82.6L538.8 84.6L539.3 86.7L539.8 88.7L540.3 92.2L540.8 92.7L541.3 94.4L541.8 96.3L542.3 97.8L542.8 96.2L543.3 96.9L543.8 96.9L544.3 97.5L544.8 100.4L545.3 100.6L545.8 100.8L546.3 101.5L546.8 101.7L547.3 102.9L547.8 103.7L548.3 101.1L548.8 103.8L549.3 103.6L549.8 101.7L550.3 102.9L550.8 102.5L551.3 101.3L551.8 103.4L552.3 101.8L552.8 103.9L553.3 103.1L553.8 104.2L554.3 105.9L554.8 105.6L555.3 105.1L555.8 106.9L556.3 108L556.8 109L557.3 107.8L557.8 110.9L558.3 110.5L558.8 111.1L559.3 114L559.8 114.4L560.3 115.4L560.8 115.6L561.3 114.4L561.8 117.7L562.3 118.6L562.8 118.5L563.3 120.9L563.8 119.3L564.3 120.9L564.8 120.3L565.3 118.1L565.8 117.7L566.3 118.1L566.8 118.1L567.3 118.7L567.8 117L568.3 116.2L568.8 119.3L569.3 116.6L569.8 116.2L570.3 117L570.8 114.3L571.3 110.7L571.8 112.9L572.3 110.9L572.8 112L573.3 108.4L573.8 110.2L574.3 110.5L574.8 110.8L575.3 110L575.8 109.7L576.3 108.5L576.8 108.4L577.3 107.4L577.8 110.1L578.3 111.6L578.8 111.6L579.3 111.2L579.8 111.8L580.3 113.9L580.8 117.2L581.3 116.5L581.8 116.2L582.3 117.7L582.8 120L583.3 119.2L583.8 120.3L584.3 121L584.8 121.3L585.3 124.9L585.8 122.2L586.3 123.5L586.8 125L587.3 123L587.8 122.5L588.3 122.9L588.8 123.1L589.3 122.7L589.8 122.3L590.3 122.3L590.8 123L591.3 125.5L591.8 122.1L592.3 123.8L592.8 122.2L593.3 121L593.8 120.6L594.3 122.7L594.8 120L595.3 122.5L595.8 121.1L596.3 124L596.8 119.6L597.3 122.6L597.8 122.8L598.3 121.7L598.8 119.4L599.3 120.5L599.8 119.9L600.3 119.2L600.8 120.6L601.3 118.8L601.8 119L602.3 120.1L602.8 118L603.3 117.3L603.8 117.8L604.3 116.5L604.8 113.4L605.3 115.9L605.8 116.1L606.3 114.3L606.8 112.9L607.3 116.2L607.8 114.3L608.3 116L608.8 115.5L609.3 116.8L609.8 115.1L610.3 115.4L610.8 115.8L611.3 112.9L611.8 114.9L612.3 114.8L612.8 110L613.3 110.9" fill="none" stroke="#505050" stroke-width="0.85" stroke-linejoin="round" stroke-dasharray="0.8 2.6" stroke-opacity="0.75"/>
<path d="M506.9 150.4L507.4 150.4L507.9 150.5L508.4 150.5L508.9 150.6L509.4 150.7L509.9 150.8L510.4 150.8L510.9 150.9L511.4 151L511.9 151.1L512.4 151.2L512.9 151.3L513.4 151.5L513.9 151.6L514.4 151.7L514.9 151.8L515.4 152L515.9 152.1L516.4 152.2L516.9 152.4L517.4 152.5L517.9 152.6L518.4 152.8L518.9 153L519.4 153.2L519.9 153.4L520.4 153.6L520.9 153.8L521.4 154L521.9 154.2L522.4 154.5L522.9 154.7L523.4 155L523.9 155.2L524.4 155.5L524.9 155.7L525.4 156L525.9 156.3L526.4 156.5L526.9 156.8L527.4 157L527.9 157.3L528.4 157.5L528.9 157.8L529.4 158L529.9 158.3L530.4 158.6L530.9 158.8L531.4 159.1L531.9 159.4L532.4 159.7L532.9 159.9L533.4 160.2L533.9 160.5L534.4 160.7L534.9 161L535.4 161.2L535.9 161.5L536.4 161.7L536.9 161.9L537.4 162.1L537.9 162.3L538.4 162.5L538.9 162.7L539.4 162.9L539.9 163.1L540.4 163.3L540.9 163.5L541.4 163.7L541.9 163.8L542.4 164L542.9 164.2L543.4 164.4L543.9 164.5L544.4 164.7L544.9 164.8L545.4 165L545.9 165.2L546.4 165.3L546.9 165.5L547.4 165.6L547.9 165.7L548.4 165.9L548.9 166L549.4 166.1L549.9 166.3L550.4 166.4L550.9 166.5L551.4 166.6L551.9 166.8L552.4 166.9L552.9 167L553.4 167.1L553.9 167.2L554.4 167.4L554.9 167.5L555.4 167.6L555.9 167.7L556.4 167.8L556.9 167.9L557.4 168L557.9 168.1L558.4 168.2L558.9 168.3L559.4 168.4L559.9 168.5L560.4 168.6L560.9 168.7L561.4 168.8L561.9 168.8L562.4 168.9L562.9 169L563.4 169.1L563.9 169.1L564.4 169.2L564.9 169.3L565.4 169.3L565.9 169.4L566.4 169.5L566.9 169.5L567.4 169.6L567.9 169.6L568.4 169.7L568.9 169.7L569.4 169.8L569.9 169.8L570.4 169.9L570.9 169.9L571.4 170L571.9 170L572.4 170.1L572.9 170.1L573.4 170.2L573.9 170.2L574.4 170.3L574.9 170.4L575.4 170.4L575.9 170.5L576.4 170.6L576.9 170.6L577.4 170.7L577.9 170.8L578.4 170.9L578.9 170.9L579.4 171L579.9 171.1L580.4 171.2L580.9 171.3L581.4 171.4L581.9 171.5L582.4 171.6L582.9 171.6L583.4 171.7L583.9 171.8L584.4 171.9L584.9 172" fill="none" stroke="#a96f58" stroke-width="1.3" stroke-linejoin="round" />
<path d="M535.4 161.3L535.9 161.5L536.4 161.7L536.9 161.9L537.4 162.1L537.9 162.2L538.4 162.4L538.9 162.5L539.4 162.6L539.9 162.7L540.4 162.7L540.9 162.7L541.4 162.7L541.9 162.6L542.4 162.5L542.9 162.3L543.4 162L543.9 161.7L544.4 161.4L544.9 161.1L545.4 160.7L545.9 160.4L546.4 160.1L546.9 159.9L547.4 159.7L547.9 159.6L548.4 159.6L548.9 159.7L549.4 159.9L549.9 160.3L550.4 160.7L550.9 161.2L551.4 161.7L551.9 162.3L552.4 162.9L552.9 163.5L553.4 164.1L553.9 164.7L554.4 165.3L554.9 165.8L555.4 166.2L555.9 166.6L556.4 167L556.9 167.3L557.4 167.5L557.9 167.8L558.4 168L558.9 168.1L559.4 168.3L559.9 168.4L560.4 168.5L560.9 168.6L561.4 168.7L561.9 168.8" fill="none" stroke="#5468d0" stroke-width="1.15" stroke-linejoin="round" />
<path d="M544.9 164.8L545.4 165L545.9 165.1L546.4 165.2L546.9 165.3L547.4 165.4L547.9 165.4L548.4 165.4L548.9 165.4L549.4 165.3L549.9 165.1L550.4 164.8L550.9 164.4L551.4 164L551.9 163.6L552.4 163.1L552.9 162.7L553.4 162.3L553.9 162.1L554.4 162L554.9 162.1L555.4 162.3L555.9 162.7L556.4 163.2L556.9 163.8L557.4 164.5L557.9 165.1L558.4 165.8L558.9 166.4L559.4 167L559.9 167.4L560.4 167.8L560.9 168.1L561.4 168.4L561.9 168.6L562.4 168.8L562.9 168.9L563.4 169L563.9 169.1L564.4 169.2" fill="none" stroke="#e2464f" stroke-width="1.15" stroke-linejoin="round" />
<path d="M559.6 168.4L560.1 168.5L560.6 168.6L561.1 168.6L561.6 168.7L562.1 168.7L562.6 168.7L563.1 168.7L563.6 168.7L564.1 168.6L564.6 168.5L565.1 168.3L565.6 168L566.1 167.7L566.6 167.3L567.1 166.9L567.6 166.4L568.1 165.9L568.6 165.3L569.1 164.7L569.6 164.1L570.1 163.6L570.6 163.1L571.1 162.7L571.6 162.5L572.1 162.3L572.6 162.3L573.1 162.5L573.6 162.8L574.1 163.2L574.6 163.7L575.1 164.3L575.6 165L576.1 165.7L576.6 166.4L577.1 167.1L577.6 167.7L578.1 168.3L578.6 168.9L579.1 169.4L579.6 169.8L580.1 170.2L580.6 170.5L581.1 170.8L581.6 171L582.1 171.2L582.6 171.4L583.1 171.5L583.6 171.7L584.1 171.8L584.6 171.9L585.1 172" fill="none" stroke="#5468d0" stroke-width="1.15" stroke-linejoin="round" />
<path d="M567.5 169.6L568 169.6L568.5 169.6L569 169.6L569.5 169.6L570 169.6L570.5 169.5L571 169.4L571.5 169.2L572 168.9L572.5 168.5L573 168L573.5 167.5L574 166.8L574.5 166.1L575 165.5L575.5 164.8L576 164.3L576.5 163.9L577 163.7L577.5 163.7L578 163.9L578.5 164.3L579 164.9L579.5 165.7L580 166.5L580.5 167.3L581 168.2L581.5 168.9L582 169.6L582.5 170.2L583 170.7L583.5 171.1L584 171.4L584.5 171.6L585 171.8" fill="none" stroke="#e2464f" stroke-width="1.15" stroke-linejoin="round" />
<path d="M489.1 150.4L489.6 150.4L490.1 150.4L490.6 150.4L491.1 150.4L491.6 150.4L492.1 150.4L492.6 150.4L493.1 150.4L493.6 150.4L494.1 150.4L494.6 150.4L495.1 150.4L495.6 150.4L496.1 150.4L496.6 150.4L497.1 150.4L497.6 150.4L498.1 150.4L498.6 150.4L499.1 150.4L499.6 150.4L500.1 150.4L500.6 150.4L501.1 150.4L501.6 150.4L502.1 150.4L502.6 150.4L503.1 150.4L503.6 150.4L504.1 150.4L504.6 150.4L505.1 150.4L505.6 150.4L506.1 150.4L506.6 150.4L507.1 150.4L507.6 150.3L508.1 150.1L508.6 149.9L509.1 149.6L509.6 149.2L510.1 148.8L510.6 148.3L511.1 147.8L511.6 147.3L512.1 146.7L512.6 146.2L513.1 145.6L513.6 145L514.1 144.4L514.6 143.8L515.1 143.2L515.6 142.7L516.1 142.2L516.6 141.6L517.1 141L517.6 140.4L518.1 139.8L518.6 139.1L519.1 138.5L519.6 137.8L520.1 137.1L520.6 136.4L521.1 135.7L521.6 134.9L522.1 134.2L522.6 133.4L523.1 132.5L523.6 131.7L524.1 130.8L524.6 130L525.1 129.1L525.6 128.1L526.1 127.2L526.6 126.2L527.1 125.3L527.6 124.3L528.1 123.3L528.6 122L529.1 120.5L529.6 119.1L530.1 117.8L530.6 116.8L531.1 116.3L531.6 116.4L532.1 117.2L532.6 118.3L533.1 119.4L533.6 120.8L534.1 122.3L534.6 124.1L535.1 125.9L535.6 127.9L536.1 129.8L536.6 131.7L537.1 133.9L537.6 136.2L538.1 138.6L538.6 140.9L539.1 142.9L539.6 144.5L540.1 145.8L540.6 147.1L541.1 148.2L541.6 149.1L542.1 149.7L542.6 150.1L543.1 150.4L543.6 150.7L544.1 151L544.6 151.2L545.1 151.3L545.6 151.5L546.1 151.6L546.6 151.7L547.1 151.9L547.6 152L548.1 152.1L548.6 152.2L549.1 152.4L549.6 152.5L550.1 152.7L550.6 152.9L551.1 153.2L551.6 153.5L552.1 153.8L552.6 154.2L553.1 154.7L553.6 155.2L554.1 155.7L554.6 156.3L555.1 156.8L555.6 157.5L556.1 158.2L556.6 159L557.1 159.9L557.6 160.8L558.1 161.7L558.6 162.6L559.1 163.4L559.6 164.2L560.1 164.9L560.6 165.6L561.1 166.4L561.6 167.1L562.1 167.8L562.6 168.3L563.1 168.7L563.6 168.8L564.1 168.8L564.6 168.7L565.1 168.5L565.6 168.3L566.1 168L566.6 167.7L567.1 167.4L567.6 167L568.1 166.7L568.6 166.2L569.1 165.5L569.6 164.5L570.1 163.5L570.6 162.4L571.1 161.5L571.6 160.6L572.1 160L572.6 159.5L573.1 159.1L573.6 158.6L574.1 158.3L574.6 158L575.1 157.8L575.6 157.8L576.1 158.2L576.6 158.8L577.1 159.7L577.6 160.7L578.1 161.8L578.6 162.9L579.1 164L579.6 164.9L580.1 165.6L580.6 166.4L581.1 167.2L581.6 168.1L582.1 168.9L582.6 169.7L583.1 170.4L583.6 171.1L584.1 171.6L584.6 171.9L585.1 172.1L585.6 172.1L586.1 172.1L586.6 172.1L587.1 172L587.6 172L588.1 172L588.6 171.9L589.1 171.8L589.6 171.8L590.1 171.7L590.6 171.6L591.1 171.6L591.6 171.5L592.1 171.4L592.6 171.3L593.1 171.2L593.6 171L594.1 170.9L594.6 170.7L595.1 170.5L595.6 170.3L596.1 170.1L596.6 169.9L597.1 169.6L597.6 169.4L598.1 169.2L598.6 168.9L599.1 168.7L599.6 168.5L600.1 168.3L600.6 168L601.1 167.7L601.6 167.5L602.1 167.2L602.6 167L603.1 166.7L603.6 166.4L604.1 166.1L604.6 165.9L605.1 165.6L605.6 165.4L606.1 165.1L606.6 164.9L607.1 164.7L607.6 164.4L608.1 164.2L608.6 163.9L609.1 163.7L609.6 163.5L610.1 163.2L610.6 163L611.1 162.8L611.6 162.6L612.1 162.3" fill="none" stroke="#72bf56" stroke-width="1.35" stroke-linejoin="round" />
<path d="M489.1 149.8L489.6 151L490.1 151.4L490.6 151.4L491.1 152.1L491.6 150L492.1 150.9L492.6 150.1L493.1 149L493.6 149.7L494.1 150.5L494.6 149.5L495.1 150.2L495.6 151.5L496.1 150.9L496.6 150.9L497.1 150.7L497.6 150.2L498.1 148.6L498.6 151.3L499.1 149L499.6 150.6L500.1 150.3L500.6 150.5L501.1 150.6L501.6 150.1L502.1 151.3L502.6 149.2L503.1 151.2L503.6 148.8L504.1 151.5L504.6 149.9L505.1 150.8L505.6 151.8L506.1 148.3L506.6 150.1L507.1 150.7L507.6 150.8L508.1 150.8L508.6 150.2L509.1 149.9L509.6 149.3L510.1 148.9L510.6 148.4L511.1 148.3L511.6 147.4L512.1 147.1L512.6 147L513.1 146.2L513.6 144.8L514.1 144.3L514.6 144.2L515.1 142.9L515.6 141.8L516.1 141.7L516.6 141.9L517.1 140.9L517.6 140.2L518.1 140.1L518.6 138.6L519.1 139.6L519.6 137.8L520.1 136.9L520.6 137.4L521.1 135.1L521.6 134.7L522.1 134.1L522.6 132.9L523.1 132.4L523.6 132L524.1 130.9L524.6 129.9L525.1 129.6L525.6 129.1L526.1 128L526.6 125.2L527.1 126L527.6 124.7L528.1 123.5L528.6 121.5L529.1 120.3L529.6 119L530.1 117.1L530.6 117.4L531.1 116.7L531.6 116.4L532.1 116.7L532.6 118.9L533.1 119.7L533.6 121.3L534.1 122.1L534.6 125.3L535.1 125.9L535.6 128.8L536.1 128.8L536.6 131.9L537.1 133.9L537.6 134.9L538.1 138.3L538.6 140.3L539.1 142.2L539.6 144.1L540.1 145.2L540.6 147.2L541.1 148.4L541.6 149.2L542.1 149.3L542.6 149.9L543.1 151.3L543.6 150.5L544.1 150.9L544.6 150.9L545.1 151.6L545.6 151.9L546.1 152L546.6 152L547.1 152.2L547.6 151.9L548.1 152.4L548.6 151.7L549.1 152.4L549.6 153L550.1 152.2L550.6 153.3L551.1 153.3L551.6 152.9L552.1 153L552.6 153.4L553.1 154.2L553.6 155.3L554.1 155.8L554.6 156.9L555.1 158L555.6 157.3L556.1 157.2L556.6 158.3L557.1 158.9L557.6 160.5L558.1 161.4L558.6 163.2L559.1 162.7L559.6 164.1L560.1 164.7L560.6 165.5L561.1 166.1L561.6 168.2L562.1 167.7L562.6 168.3L563.1 169L563.6 168.9L564.1 169.7L564.6 168.1L565.1 168.4L565.6 168L566.1 168L566.6 168.2L567.1 167.1L567.6 166.1L568.1 166.7L568.6 165.7L569.1 165.8L569.6 164.6L570.1 164.5L570.6 162.7L571.1 161L571.6 160.8L572.1 160.5L572.6 159.6L573.1 159L573.6 158.5L574.1 158.1L574.6 157.5L575.1 158.4L575.6 158L576.1 157.5L576.6 159.3L577.1 159.7L577.6 160.8L578.1 161.9L578.6 163.5L579.1 162.8L579.6 164.8L580.1 165.9L580.6 166.3L581.1 166.4L581.6 167.5L582.1 169L582.6 170.4L583.1 169.5L583.6 170.8L584.1 171.7L584.6 172L585.1 172.4L585.6 173.2L586.1 172.8L586.6 170.7L587.1 171.8L587.6 171L588.1 172L588.6 173.4L589.1 172.8L589.6 174L590.1 173.1L590.6 172.7L591.1 172.6L591.6 170.9L592.1 171.3L592.6 171.9L593.1 172L593.6 171.7L594.1 170L594.6 169.7L595.1 169.5L595.6 172.1L596.1 170L596.6 170.7L597.1 169.6L597.6 169.3L598.1 169L598.6 168.6L599.1 168.8L599.6 169.3L600.1 167.1L600.6 168.1L601.1 167.5L601.6 167.1L602.1 167.9L602.6 168.5L603.1 165.4L603.6 166.6L604.1 167.2L604.6 166.7L605.1 164.1L605.6 165.9L606.1 164.8L606.6 164.5L607.1 165.4L607.6 163.5L608.1 164.4L608.6 164.8L609.1 163.1L609.6 162.6L610.1 165.3L610.6 162.1L611.1 164.1L611.6 162L612.1 162.6" fill="none" stroke="#2e2e2e" stroke-width="1.15" stroke-linejoin="round" stroke-dasharray="1.1 1.4"/>
<path d="M489.1 149.7L489.6 150.7L490.1 150.7L490.6 148.8L491.1 150.2L491.6 151.9L492.1 149.3L492.6 147L493.1 150.9L493.6 149.1L494.1 151L494.6 149.8L495.1 149.2L495.6 150L496.1 151L496.6 150.9L497.1 148.4L497.6 148.3L498.1 148.5L498.6 152.2L499.1 150.7L499.6 149L500.1 150L500.6 152.4L501.1 148.6L501.6 149.7L502.1 151.5L502.6 151.5L503.1 151.4L503.6 149L504.1 150.4L504.6 146.7L505.1 149.8L505.6 149.4L506.1 149.5L506.6 152.2L507.1 150.1L507.6 150L508.1 150.9L508.6 151.9L509.1 148.7L509.6 150L510.1 148.5L510.6 146.6L511.1 147.2L511.6 147.6L512.1 146.4L512.6 145.6L513.1 145.5L513.6 144.6L514.1 144L514.6 142.6L515.1 143.9L515.6 140.2L516.1 142.3L516.6 140.7L517.1 141.8L517.6 139.1L518.1 137.2L518.6 139.6L519.1 139.6L519.6 135.8L520.1 137.5L520.6 136.7L521.1 134.6L521.6 135.6L522.1 133.2L522.6 134.4L523.1 133.8L523.6 131.2L524.1 130.5L524.6 130L525.1 126.9L525.6 127.4L526.1 127.2L526.6 128.7L527.1 126.6L527.6 124.6L528.1 122.3L528.6 122.4L529.1 120.6L529.6 117.6L530.1 117.5L530.6 115.3L531.1 115.7L531.6 112.7L532.1 118.7L532.6 117.7L533.1 118.2L533.6 120L534.1 120.5L534.6 123.9L535.1 127.4L535.6 128.1L536.1 129.4L536.6 131.5L537.1 133.9L537.6 135.7L538.1 137.9L538.6 140.9L539.1 143.2L539.6 143.9L540.1 146.1L540.6 145.7L541.1 146.1L541.6 146.9L542.1 150.1L542.6 149.2L543.1 150.3L543.6 149.8L544.1 150.5L544.6 151.3L545.1 149.7L545.6 150.7L546.1 153.2L546.6 153.8L547.1 152L547.6 152.2L548.1 151.4L548.6 151L549.1 153.2L549.6 153.8L550.1 153.2L550.6 153.5L551.1 152.4L551.6 154.7L552.1 154.1L552.6 153.5L553.1 155.8L553.6 154.3L554.1 154.6L554.6 156.4L555.1 155.7L555.6 156.3L556.1 158.9L556.6 159.2L557.1 159.4L557.6 161.5L558.1 161.9L558.6 163.5L559.1 164.3L559.6 165.1L560.1 163.7L560.6 166.6L561.1 166.4L561.6 167.6L562.1 167.8L562.6 169.1L563.1 168.5L563.6 168.3L564.1 169.4L564.6 168.3L565.1 167.2L565.6 168L566.1 167.7L566.6 167.3L567.1 167.2L567.6 166.2L568.1 165.8L568.6 169.3L569.1 164.4L569.6 164.8L570.1 163.6L570.6 161.7L571.1 160.8L571.6 159.4L572.1 158.6L572.6 161.2L573.1 157.8L573.6 157.6L574.1 159.2L574.6 156.4L575.1 159.2L575.6 157.7L576.1 159.6L576.6 157.8L577.1 158.8L577.6 161.5L578.1 161.3L578.6 162L579.1 164.9L579.6 164.7L580.1 164.5L580.6 166.3L581.1 167.6L581.6 167.7L582.1 171.3L582.6 170.2L583.1 170.2L583.6 171.1L584.1 172.4L584.6 171.2L585.1 171.6L585.6 171.9L586.1 171.4L586.6 171.3L587.1 167.4L587.6 170.7L588.1 171.5L588.6 173.2L589.1 170.2L589.6 171.6L590.1 171L590.6 171.5L591.1 174.1L591.6 173.6L592.1 173.8L592.6 169.5L593.1 169.7L593.6 171.8L594.1 169L594.6 171.9L595.1 175.5L595.6 168.4L596.1 171.4L596.6 169.9L597.1 170.2L597.6 168.9L598.1 166.4L598.6 168L599.1 167.2L599.6 166.3L600.1 167.9L600.6 168.2L601.1 166.1L601.6 168.3L602.1 167.2L602.6 167.6L603.1 167.2L603.6 165.4L604.1 169.7L604.6 166.7L605.1 167L605.6 164.9L606.1 165.1L606.6 166.1L607.1 163.4L607.6 164.8L608.1 166.5L608.6 163.5L609.1 163.9L609.6 161.7L610.1 163.5L610.6 163.6L611.1 162.8L611.6 163.4L612.1 161.8" fill="none" stroke="#505050" stroke-width="0.85" stroke-linejoin="round" stroke-dasharray="0.8 2.6" stroke-opacity="0.75"/>
<path d="M167.8 248.9L168.3 248.9L168.8 249L169.3 249.1L169.8 249.1L170.3 249.2L170.8 249.3L171.3 249.4L171.8 249.5L172.3 249.6L172.8 249.7L173.3 249.9L173.8 250L174.3 250.1L174.8 250.2L175.3 250.4L175.8 250.5L176.3 250.7L176.8 250.8L177.3 251L177.8 251.1L178.3 251.3L178.8 251.5L179.3 251.6L179.8 251.8L180.3 252L180.8 252.2L181.3 252.5L181.8 252.7L182.3 253L182.8 253.2L183.3 253.5L183.8 253.8L184.3 254.1L184.8 254.3L185.3 254.6L185.8 254.9L186.3 255.2L186.8 255.5L187.3 255.8L187.8 256.1L188.3 256.4L188.8 256.7L189.3 257L189.8 257.3L190.3 257.6L190.8 257.9L191.3 258.2L191.8 258.5L192.3 258.8L192.8 259.1L193.3 259.4L193.8 259.8L194.3 260.1L194.8 260.4L195.3 260.7L195.8 261L196.3 261.3L196.8 261.6L197.3 261.9L197.8 262.2L198.3 262.4L198.8 262.7L199.3 262.9L199.8 263.1L200.3 263.3L200.8 263.6L201.3 263.8L201.8 264L202.3 264.2L202.8 264.4L203.3 264.6L203.8 264.8L204.3 265.1L204.8 265.2L205.3 265.4L205.8 265.6L206.3 265.8L206.8 266L207.3 266.2L207.8 266.4L208.3 266.5L208.8 266.7L209.3 266.9L209.8 267L210.3 267.2L210.8 267.3L211.3 267.5L211.8 267.6L212.3 267.8L212.8 267.9L213.3 268.1L213.8 268.2L214.3 268.4L214.8 268.5L215.3 268.6L215.8 268.8L216.3 268.9L216.8 269L217.3 269.2L217.8 269.3L218.3 269.4L218.8 269.6L219.3 269.7L219.8 269.8L220.3 269.9L220.8 270L221.3 270.1L221.8 270.2L222.3 270.4L222.8 270.5L223.3 270.6L223.8 270.7L224.3 270.8L224.8 270.8L225.3 270.9L225.8 271L226.3 271.1L226.8 271.2L227.3 271.3L227.8 271.3L228.3 271.4L228.8 271.5L229.3 271.5L229.8 271.6L230.3 271.6L230.8 271.7L231.3 271.8L231.8 271.8L232.3 271.9L232.8 271.9L233.3 272L233.8 272L234.3 272.1L234.8 272.1L235.3 272.2L235.8 272.3L236.3 272.3L236.8 272.4L237.3 272.5L237.8 272.6L238.3 272.6L238.8 272.7L239.3 272.8L239.8 272.9L240.3 273L240.8 273.1L241.3 273.2L241.8 273.3L242.3 273.3L242.8 273.4L243.3 273.5L243.8 273.6L244.3 273.7L244.8 273.8L245.3 273.9L245.8 274.1L246.3 274.2L246.8 274.3L247.3 274.4L247.8 274.5L248.3 274.6" fill="none" stroke="#a96f58" stroke-width="1.3" stroke-linejoin="round" />
<path d="M197 261.7L197.5 262L198 262.3L198.5 262.5L199 262.7L199.5 262.9L200 263.1L200.5 263.3L201 263.4L201.5 263.6L202 263.7L202.5 263.8L203 263.8L203.5 263.8L204 263.7L204.5 263.7L205 263.5L205.5 263.4L206 263.2L206.5 263L207 262.8L207.5 262.6L208 262.5L208.5 262.3L209 262.3L209.5 262.3L210 262.3L210.5 262.5L211 262.7L211.5 263L212 263.3L212.5 263.8L213 264.2L213.5 264.7L214 265.3L214.5 265.8L215 266.3L215.5 266.8L216 267.2L216.5 267.7L217 268.1L217.5 268.4L218 268.7L218.5 269L219 269.2L219.5 269.5L220 269.7L220.5 269.8L221 270L221.5 270.1L222 270.3L222.5 270.4L223 270.5L223.5 270.6" fill="none" stroke="#5468d0" stroke-width="1.15" stroke-linejoin="round" />
<path d="M207.1 266.1L207.6 266.3L208.1 266.4L208.6 266.6L209.1 266.7L209.6 266.8L210.1 266.9L210.6 266.9L211.1 266.9L211.6 266.8L212.1 266.6L212.6 266.4L213.1 266.1L213.6 265.7L214.1 265.3L214.6 264.9L215.1 264.5L215.6 264.2L216.1 264L216.6 263.9L217.1 264L217.6 264.3L218.1 264.6L218.6 265.1L219.1 265.7L219.6 266.4L220.1 267.1L220.6 267.7L221.1 268.3L221.6 268.8L222.1 269.3L222.6 269.7L223.1 270L223.6 270.3L224.1 270.5L224.6 270.7L225.1 270.8L225.6 270.9L226.1 271L226.6 271.1" fill="none" stroke="#e2464f" stroke-width="1.15" stroke-linejoin="round" />
<path d="M221.2 270.1L221.7 270.2L222.2 270.3L222.7 270.4L223.2 270.4L223.7 270.5L224.2 270.5L224.7 270.6L225.2 270.5L225.7 270.5L226.2 270.4L226.7 270.3L227.2 270.1L227.7 269.8L228.2 269.5L228.7 269.2L229.2 268.8L229.7 268.3L230.2 267.9L230.7 267.4L231.2 266.9L231.7 266.4L232.2 266.1L232.7 265.7L233.2 265.5L233.7 265.4L234.2 265.4L234.7 265.6L235.2 265.8L235.7 266.2L236.2 266.7L236.7 267.2L237.2 267.8L237.7 268.4L238.2 269L238.7 269.6L239.2 270.2L239.7 270.8L240.2 271.2L240.7 271.7L241.2 272.1L241.7 272.4L242.2 272.7L242.7 273L243.2 273.2L243.7 273.4L244.2 273.6L244.7 273.7L245.2 273.8L245.7 274L246.2 274.1L246.7 274.2" fill="none" stroke="#5468d0" stroke-width="1.15" stroke-linejoin="round" />
<path d="M229.7 271.6L230.2 271.6L230.7 271.6L231.2 271.7L231.7 271.7L232.2 271.6L232.7 271.5L233.2 271.4L233.7 271.2L234.2 270.9L234.7 270.5L235.2 270L235.7 269.5L236.2 268.8L236.7 268.1L237.2 267.4L237.7 266.8L238.2 266.2L238.7 265.8L239.2 265.6L239.7 265.7L240.2 265.9L240.7 266.3L241.2 267L241.7 267.7L242.2 268.6L242.7 269.5L243.2 270.3L243.7 271.1L244.2 271.8L244.7 272.4L245.2 272.9L245.7 273.3L246.2 273.7L246.7 273.9L247.2 274.2L247.7 274.3L248.2 274.5" fill="none" stroke="#e2464f" stroke-width="1.15" stroke-linejoin="round" />
<path d="M149.3 248.2L149.8 248.3L150.3 248.3L150.8 248.4L151.3 248.4L151.8 248.4L152.3 248.5L152.8 248.5L153.3 248.6L153.8 248.6L154.3 248.6L154.8 248.7L155.3 248.7L155.8 248.7L156.3 248.7L156.8 248.8L157.3 248.8L157.8 248.8L158.3 248.8L158.8 248.8L159.3 248.8L159.8 248.8L160.3 248.9L160.8 248.9L161.3 248.9L161.8 248.9L162.3 248.9L162.8 248.9L163.3 248.9L163.8 248.9L164.3 248.9L164.8 248.9L165.3 248.9L165.8 248.9L166.3 248.9L166.8 248.9L167.3 248.9L167.8 248.9L168.3 248.9L168.8 248.8L169.3 248.6L169.8 248.4L170.3 248.1L170.8 247.8L171.3 247.4L171.8 247L172.3 246.6L172.8 246.1L173.3 245.7L173.8 245.2L174.3 244.7L174.8 244.2L175.3 243.7L175.8 243.3L176.3 242.8L176.8 242.4L177.3 241.9L177.8 241.4L178.3 241L178.8 240.5L179.3 239.9L179.8 239.4L180.3 238.9L180.8 238.3L181.3 237.8L181.8 237.2L182.3 236.6L182.8 236L183.3 235.3L183.8 234.7L184.3 234L184.8 233.4L185.3 232.7L185.8 231.9L186.3 231.2L186.8 230.4L187.3 229.7L187.8 228.9L188.3 228.1L188.8 227.3L189.3 226.5L189.8 225.6L190.3 224.5L190.8 223.3L191.3 222.1L191.8 221.1L192.3 220.4L192.8 220L193.3 220.2L193.8 221L194.3 221.9L194.8 222.9L195.3 224.1L195.8 225.4L196.3 226.9L196.8 228.5L197.3 230.2L197.8 231.8L198.3 233.5L198.8 235.2L199.3 237.2L199.8 239.3L200.3 241.3L200.8 243.1L201.3 244.6L201.8 245.8L202.3 246.9L202.8 247.9L203.3 248.8L203.8 249.5L204.3 249.9L204.8 250.2L205.3 250.5L205.8 250.7L206.3 250.9L206.8 251L207.3 251.2L207.8 251.3L208.3 251.4L208.8 251.5L209.3 251.6L209.8 251.7L210.3 251.7L210.8 251.8L211.3 251.9L211.8 252L212.3 252.1L212.8 252.2L213.3 252.4L213.8 252.5L214.3 252.7L214.8 252.9L215.3 253.1L215.8 253.4L216.3 253.9L216.8 254.5L217.3 255.3L217.8 256.1L218.3 256.9L218.8 257.9L219.3 259.1L219.8 260.3L220.3 261.6L220.8 262.8L221.3 264L221.8 265L222.3 266L222.8 267.1L223.3 268L223.8 268.5L224.3 268.6L224.8 268.6L225.3 268.5L225.8 268.4L226.3 268.2L226.8 268L227.3 267.8L227.8 267.6L228.3 267.3L228.8 267.1L229.3 266.8L229.8 266.4L230.3 265.9L230.8 265.2L231.3 264.5L231.8 263.7L232.3 263L232.8 262.3L233.3 261.8L233.8 261.4L234.3 261.1L234.8 260.7L235.3 260.4L235.8 260.1L236.3 259.9L236.8 259.8L237.3 259.7L237.8 259.8L238.3 260.2L238.8 260.9L239.3 261.7L239.8 262.7L240.3 263.7L240.8 264.8L241.3 265.8L241.8 266.7L242.3 267.4L242.8 268.2L243.3 268.9L243.8 269.7L244.3 270.5L244.8 271.3L245.3 272.1L245.8 272.8L246.3 273.4L246.8 273.9L247.3 274.3L247.8 274.5L248.3 274.6L248.8 274.6L249.3 274.6L249.8 274.5L250.3 274.5L250.8 274.5L251.3 274.4L251.8 274.4L252.3 274.3L252.8 274.2L253.3 274.1L253.8 274.1L254.3 274L254.8 273.9L255.3 273.8L255.8 273.6L256.3 273.5L256.8 273.3L257.3 273.1L257.8 272.9L258.3 272.6L258.8 272.4L259.3 272.2L259.8 271.9L260.3 271.7L260.8 271.5L261.3 271.3L261.8 271L262.3 270.8L262.8 270.5L263.3 270.2L263.8 270L264.3 269.7L264.8 269.4L265.3 269.1L265.8 268.9L266.3 268.6L266.8 268.4L267.3 268.1L267.8 267.9L268.3 267.7L268.8 267.4L269.3 267.2L269.8 266.9L270.3 266.7L270.8 266.5L271.3 266.2L271.8 266L272.3 265.8" fill="none" stroke="#72bf56" stroke-width="1.35" stroke-linejoin="round" />
<path d="M149.3 249.2L149.8 248.6L150.3 247.8L150.8 247.2L151.3 246.6L151.8 248.5L152.3 247.7L152.8 247.7L153.3 248.4L153.8 248.5L154.3 246.5L154.8 249.5L155.3 246.8L155.8 250.5L156.3 249.3L156.8 248.3L157.3 250L157.8 248.8L158.3 249.5L158.8 248.9L159.3 249.9L159.8 249.9L160.3 248L160.8 248.3L161.3 249.2L161.8 248.7L162.3 246.7L162.8 250.8L163.3 246.8L163.8 246.9L164.3 247.7L164.8 249.4L165.3 250.6L165.8 248.7L166.3 248.5L166.8 249.1L167.3 248.6L167.8 248.9L168.3 248.3L168.8 249L169.3 248.8L169.8 247.1L170.3 248L170.8 247.8L171.3 247.7L171.8 246.6L172.3 245.9L172.8 245.7L173.3 245.9L173.8 244.8L174.3 244.3L174.8 244.8L175.3 243.3L175.8 242.8L176.3 242.7L176.8 242.5L177.3 242.4L177.8 241L178.3 240.2L178.8 240.4L179.3 240.3L179.8 238.7L180.3 238.6L180.8 238.5L181.3 237.9L181.8 237.2L182.3 236.4L182.8 235.6L183.3 234.9L183.8 235.3L184.3 233.5L184.8 234L185.3 232L185.8 233.4L186.3 230.3L186.8 231.2L187.3 229.2L187.8 228.8L188.3 228.1L188.8 227L189.3 227.6L189.8 225.6L190.3 223.8L190.8 223.6L191.3 222.5L191.8 220.5L192.3 220.6L192.8 220L193.3 220.6L193.8 221.3L194.3 221.9L194.8 222.7L195.3 224.5L195.8 225.6L196.3 226.2L196.8 228.3L197.3 229.9L197.8 231.7L198.3 234.6L198.8 235.1L199.3 237.5L199.8 240.1L200.3 241.5L200.8 243.3L201.3 245.3L201.8 245.9L202.3 247L202.8 248.3L203.3 249L203.8 249.1L204.3 249.4L204.8 250.2L205.3 251.2L205.8 250.6L206.3 251.4L206.8 251.2L207.3 251L207.8 250L208.3 251.5L208.8 251.3L209.3 250.8L209.8 251.9L210.3 251.7L210.8 252L211.3 251.6L211.8 252.1L212.3 251.9L212.8 252.7L213.3 252.4L213.8 251.8L214.3 252.8L214.8 252.9L215.3 253L215.8 252.8L216.3 254.4L216.8 254.2L217.3 256.1L217.8 255.8L218.3 256.9L218.8 257.9L219.3 259.1L219.8 261.6L220.3 261.4L220.8 263.9L221.3 264.3L221.8 264.6L222.3 266.7L222.8 267.5L223.3 268.4L223.8 267.8L224.3 268.8L224.8 268.4L225.3 268.4L225.8 268.3L226.3 268.2L226.8 268.8L227.3 268L227.8 266.7L228.3 268L228.8 267.1L229.3 266.9L229.8 265.5L230.3 266.1L230.8 265L231.3 265L231.8 264L232.3 263.4L232.8 262.2L233.3 260.9L233.8 261.9L234.3 261.3L234.8 260.6L235.3 260.1L235.8 259.7L236.3 259L236.8 259.2L237.3 259.7L237.8 260.6L238.3 260.4L238.8 261.7L239.3 261.2L239.8 263.3L240.3 263.5L240.8 265.5L241.3 266.4L241.8 266.7L242.3 267.5L242.8 268.8L243.3 268.5L243.8 268.7L244.3 271L244.8 272.4L245.3 271.1L245.8 272.9L246.3 272.8L246.8 273.7L247.3 273.8L247.8 275L248.3 274.3L248.8 274.4L249.3 273.5L249.8 275.2L250.3 274L250.8 274.1L251.3 274.3L251.8 273L252.3 274.3L252.8 272.7L253.3 273.9L253.8 273.9L254.3 273.6L254.8 273.7L255.3 273.1L255.8 274.1L256.3 273.5L256.8 272.8L257.3 272.9L257.8 272.2L258.3 272.5L258.8 272.1L259.3 270.5L259.8 273.5L260.3 271.3L260.8 270.9L261.3 271.5L261.8 269L262.3 270.4L262.8 270.8L263.3 270L263.8 270L264.3 269.3L264.8 269.1L265.3 269.1L265.8 269L266.3 267.6L266.8 268.6L267.3 268.4L267.8 267.3L268.3 267.1L268.8 267.5L269.3 268.3L269.8 268L270.3 265.9L270.8 266L271.3 265.7L271.8 266.4L272.3 265.6" fill="none" stroke="#2e2e2e" stroke-width="1.15" stroke-linejoin="round" stroke-dasharray="1.1 1.4"/>
<path d="M149.3 248.7L149.8 250.2L150.3 248.6L150.8 249L151.3 248.9L151.8 247.2L152.3 248.2L152.8 248.1L153.3 247.7L153.8 250.9L154.3 249.4L154.8 244.5L155.3 247.4L155.8 248.5L156.3 248.7L156.8 247.4L157.3 248.2L157.8 248.1L158.3 248L158.8 249.7L159.3 248.7L159.8 247.9L160.3 248.3L160.8 248.8L161.3 247.1L161.8 248L162.3 249.7L162.8 250.4L163.3 245.2L163.8 252.6L164.3 247.9L164.8 250.1L165.3 246.8L165.8 250L166.3 248.9L166.8 248.8L167.3 248.4L167.8 248.6L168.3 249.7L168.8 247.9L169.3 248.3L169.8 247.9L170.3 246.3L170.8 247.9L171.3 247.4L171.8 246.5L172.3 245.1L172.8 245.7L173.3 245.5L173.8 245.2L174.3 244.8L174.8 242.9L175.3 244.8L175.8 244.1L176.3 243.7L176.8 242.9L177.3 243.4L177.8 242.2L178.3 242.2L178.8 240.8L179.3 240.1L179.8 240.1L180.3 238.1L180.8 238.1L181.3 238L181.8 236.5L182.3 233.9L182.8 235.3L183.3 234.5L183.8 235.6L184.3 231.9L184.8 232.5L185.3 234.4L185.8 229.3L186.3 230.9L186.8 229.7L187.3 227.8L187.8 228.9L188.3 227.1L188.8 224.3L189.3 225.8L189.8 224.1L190.3 225.7L190.8 223.3L191.3 220.9L191.8 221.3L192.3 222.4L192.8 218.6L193.3 219.1L193.8 220.9L194.3 222L194.8 223.1L195.3 222.4L195.8 225.5L196.3 225.6L196.8 227.6L197.3 231.2L197.8 231L198.3 234.1L198.8 234.9L199.3 237.4L199.8 239.4L200.3 242L200.8 243.9L201.3 243.8L201.8 247.6L202.3 247.6L202.8 248.9L203.3 249.9L203.8 248.9L204.3 249.9L204.8 250.3L205.3 250.8L205.8 252.5L206.3 252.9L206.8 254.8L207.3 253.2L207.8 253.1L208.3 251.3L208.8 250.6L209.3 251.6L209.8 251.4L210.3 250.6L210.8 251.6L211.3 252.4L211.8 252.1L212.3 253.1L212.8 252.9L213.3 252.8L213.8 253.9L214.3 252.6L214.8 253L215.3 254.8L215.8 254.5L216.3 252.3L216.8 254.7L217.3 257L217.8 256.6L218.3 258.3L218.8 256.3L219.3 259.6L219.8 258.1L220.3 262.4L220.8 261.5L221.3 265.6L221.8 264.3L222.3 266.2L222.8 267.4L223.3 268L223.8 266.8L224.3 269.4L224.8 268L225.3 271.2L225.8 268.1L226.3 268.5L226.8 267.7L227.3 269.8L227.8 269.3L228.3 268.1L228.8 268.3L229.3 265.9L229.8 265.4L230.3 267.4L230.8 264.3L231.3 264.2L231.8 262.1L232.3 262.6L232.8 262.8L233.3 261.7L233.8 259.8L234.3 262L234.8 260.9L235.3 257.6L235.8 259L236.3 259.6L236.8 259.2L237.3 259.9L237.8 261L238.3 260.1L238.8 260.8L239.3 263.2L239.8 264.5L240.3 263.4L240.8 266.6L241.3 263.9L241.8 268.4L242.3 268L242.8 267.3L243.3 268.4L243.8 269.9L244.3 272L244.8 272.3L245.3 272.4L245.8 272.3L246.3 273.5L246.8 272.6L247.3 273.8L247.8 273.6L248.3 274.2L248.8 275.3L249.3 274.1L249.8 271.8L250.3 276.2L250.8 274.4L251.3 275L251.8 273.2L252.3 273.9L252.8 273.7L253.3 276.3L253.8 272.1L254.3 275.3L254.8 273.7L255.3 274.8L255.8 272.6L256.3 270.9L256.8 274.6L257.3 272.4L257.8 273.5L258.3 273.7L258.8 269.7L259.3 271.3L259.8 271.6L260.3 272.5L260.8 272.4L261.3 272.4L261.8 270.6L262.3 272.8L262.8 270.5L263.3 270.1L263.8 269.2L264.3 267.9L264.8 269.4L265.3 269.5L265.8 269.3L266.3 272L266.8 268.8L267.3 268.7L267.8 265.9L268.3 267.2L268.8 267.4L269.3 267.9L269.8 266.6L270.3 267.2L270.8 264.9L271.3 268L271.8 267.6L272.3 264" fill="none" stroke="#505050" stroke-width="0.85" stroke-linejoin="round" stroke-dasharray="0.8 2.6" stroke-opacity="0.75"/>
<path d="M167.8 297.8L168.3 297.8L168.8 297.9L169.3 298L169.8 298L170.3 298.1L170.8 298.2L171.3 298.3L171.8 298.4L172.3 298.5L172.8 298.6L173.3 298.8L173.8 298.9L174.3 299L174.8 299.2L175.3 299.3L175.8 299.5L176.3 299.6L176.8 299.8L177.3 299.9L177.8 300.1L178.3 300.2L178.8 300.4L179.3 300.6L179.8 300.8L180.3 301L180.8 301.2L181.3 301.4L181.8 301.7L182.3 301.9L182.8 302.2L183.3 302.5L183.8 302.8L184.3 303.1L184.8 303.4L185.3 303.7L185.8 304L186.3 304.3L186.8 304.6L187.3 304.9L187.8 305.2L188.3 305.5L188.8 305.8L189.3 306L189.8 306.3L190.3 306.6L190.8 306.9L191.3 307.2L191.8 307.6L192.3 307.9L192.8 308.2L193.3 308.5L193.8 308.9L194.3 309.2L194.8 309.5L195.3 309.8L195.8 310.1L196.3 310.4L196.8 310.7L197.3 311L197.8 311.3L198.3 311.6L198.8 311.8L199.3 312.1L199.8 312.3L200.3 312.5L200.8 312.8L201.3 313L201.8 313.2L202.3 313.4L202.8 313.6L203.3 313.9L203.8 314.1L204.3 314.3L204.8 314.5L205.3 314.7L205.8 314.9L206.3 315L206.8 315.2L207.3 315.4L207.8 315.6L208.3 315.8L208.8 315.9L209.3 316.1L209.8 316.3L210.3 316.4L210.8 316.6L211.3 316.8L211.8 316.9L212.3 317.1L212.8 317.2L213.3 317.4L213.8 317.5L214.3 317.6L214.8 317.8L215.3 317.9L215.8 318.1L216.3 318.2L216.8 318.3L217.3 318.5L217.8 318.6L218.3 318.7L218.8 318.9L219.3 319L219.8 319.1L220.3 319.2L220.8 319.3L221.3 319.4L221.8 319.6L222.3 319.7L222.8 319.8L223.3 319.9L223.8 320L224.3 320.1L224.8 320.2L225.3 320.3L225.8 320.3L226.3 320.4L226.8 320.5L227.3 320.6L227.8 320.7L228.3 320.7L228.8 320.8L229.3 320.9L229.8 320.9L230.3 321L230.8 321L231.3 321.1L231.8 321.2L232.3 321.2L232.8 321.3L233.3 321.3L233.8 321.4L234.3 321.4L234.8 321.5L235.3 321.6L235.8 321.6L236.3 321.7L236.8 321.8L237.3 321.8L237.8 321.9L238.3 322L238.8 322.1L239.3 322.2L239.8 322.3L240.3 322.3L240.8 322.4L241.3 322.5L241.8 322.6L242.3 322.7L242.8 322.8L243.3 322.9L243.8 323L244.3 323.1L244.8 323.2L245.3 323.3L245.8 323.4L246.3 323.6L246.8 323.7L247.3 323.8L247.8 323.9L248.3 324" fill="none" stroke="#a96f58" stroke-width="1.3" stroke-linejoin="round" />
<path d="M197 310.9L197.5 311.2L198 311.4L198.5 311.7L199 311.9L199.5 312.1L200 312.3L200.5 312.5L201 312.7L201.5 312.8L202 312.9L202.5 313L203 313.1L203.5 313.2L204 313.2L204.5 313.1L205 313.1L205.5 313L206 312.9L206.5 312.7L207 312.6L207.5 312.5L208 312.4L208.5 312.3L209 312.3L209.5 312.3L210 312.4L210.5 312.5L211 312.7L211.5 313L212 313.3L212.5 313.7L213 314.1L213.5 314.6L214 315L214.5 315.5L215 316L215.5 316.4L216 316.8L216.5 317.2L217 317.5L217.5 317.8L218 318.1L218.5 318.4L219 318.6L219.5 318.8L220 319L220.5 319.2L221 319.3L221.5 319.4L222 319.6L222.5 319.7L223 319.8L223.5 319.9" fill="none" stroke="#5468d0" stroke-width="1.15" stroke-linejoin="round" />
<path d="M206.5 315.1L207 315.3L207.5 315.4L208 315.6L208.5 315.7L209 315.9L209.5 316L210 316L210.5 316L211 316L211.5 315.9L212 315.7L212.5 315.4L213 315.2L213.5 314.9L214 314.6L214.5 314.3L215 314L215.5 313.9L216 313.9L216.5 313.9L217 314.2L217.5 314.5L218 315L218.5 315.5L219 316.1L219.5 316.7L220 317.2L220.5 317.7L221 318.2L221.5 318.6L222 319L222.5 319.3L223 319.5L223.5 319.7L224 319.9L224.5 320L225 320.2L225.5 320.3L226 320.4" fill="none" stroke="#e2464f" stroke-width="1.15" stroke-linejoin="round" />
<path d="M221.2 319.4L221.7 319.5L222.2 319.6L222.7 319.7L223.2 319.8L223.7 319.9L224.2 319.9L224.7 319.9L225.2 319.9L225.7 319.9L226.2 319.9L226.7 319.8L227.2 319.6L227.7 319.5L228.2 319.2L228.7 319L229.2 318.6L229.7 318.3L230.2 317.9L230.7 317.5L231.2 317.2L231.7 316.8L232.2 316.5L232.7 316.3L233.2 316.1L233.7 316L234.2 316.1L234.7 316.2L235.2 316.4L235.7 316.7L236.2 317.1L236.7 317.6L237.2 318L237.7 318.6L238.2 319.1L238.7 319.6L239.2 320.1L239.7 320.5L240.2 320.9L240.7 321.3L241.2 321.7L241.7 321.9L242.2 322.2L242.7 322.4L243.2 322.6L243.7 322.8L244.2 323L244.7 323.1L245.2 323.2L245.7 323.4L246.2 323.5L246.7 323.6" fill="none" stroke="#5468d0" stroke-width="1.15" stroke-linejoin="round" />
<path d="M229.1 320.8L229.6 320.9L230.1 320.9L230.6 320.9L231.1 320.9L231.6 320.9L232.1 320.8L232.6 320.7L233.1 320.5L233.6 320.2L234.1 319.8L234.6 319.4L235.1 318.8L235.6 318.2L236.1 317.5L236.6 316.8L237.1 316.2L237.6 315.7L238.1 315.3L238.6 315.1L239.1 315.1L239.6 315.3L240.1 315.8L240.6 316.4L241.1 317.1L241.6 318L242.1 318.8L242.6 319.6L243.1 320.4L243.6 321.1L244.1 321.7L244.6 322.2L245.1 322.6L245.6 322.9L246.1 323.2L246.6 323.4L247.1 323.6L247.6 323.8L248.1 323.9" fill="none" stroke="#e2464f" stroke-width="1.15" stroke-linejoin="round" />
<path d="M150 295.6L150.5 295.8L151 296L151.5 296.1L152 296.3L152.5 296.4L153 296.5L153.5 296.7L154 296.8L154.5 296.9L155 297L155.5 297.1L156 297.2L156.5 297.2L157 297.3L157.5 297.4L158 297.4L158.5 297.5L159 297.5L159.5 297.6L160 297.6L160.5 297.6L161 297.7L161.5 297.7L162 297.7L162.5 297.7L163 297.8L163.5 297.8L164 297.8L164.5 297.8L165 297.8L165.5 297.8L166 297.8L166.5 297.8L167 297.8L167.5 297.8L168 297.8L168.5 297.7L169 297.6L169.5 297.4L170 297.2L170.5 296.9L171 296.6L171.5 296.2L172 295.8L172.5 295.4L173 295L173.5 294.5L174 294L174.5 293.6L175 293.1L175.5 292.6L176 292.2L176.5 291.7L177 291.3L177.5 290.9L178 290.4L178.5 289.9L179 289.4L179.5 289L180 288.4L180.5 287.9L181 287.4L181.5 286.8L182 286.3L182.5 285.7L183 285.1L183.5 284.5L184 283.9L184.5 283.2L185 282.6L185.5 281.9L186 281.2L186.5 280.5L187 279.8L187.5 279L188 278.3L188.5 277.5L189 276.7L189.5 275.9L190 275.1L190.5 274.1L191 272.9L191.5 271.8L192 270.7L192.5 269.9L193 269.4L193.5 269.4L194 270L194.5 270.9L195 271.9L195.5 273L196 274.4L196.5 275.9L197 277.5L197.5 279.2L198 280.9L198.5 282.6L199 284.4L199.5 286.4L200 288.5L200.5 290.5L201 292.4L201.5 293.9L202 295L202.5 296.1L203 297L203.5 297.9L204 298.5L204.5 299L205 299.3L205.5 299.7L206 299.9L206.5 300.2L207 300.4L207.5 300.6L208 300.8L208.5 301L209 301.1L209.5 301.3L210 301.4L210.5 301.6L211 301.7L211.5 301.9L212 302.1L212.5 302.3L213 302.5L213.5 302.8L214 303L214.5 303.4L215 303.8L215.5 304.2L216 304.7L216.5 305.3L217 305.9L217.5 306.5L218 307.2L218.5 308.1L219 309L219.5 310L220 311L220.5 312L221 312.9L221.5 313.7L222 314.5L222.5 315.3L223 316.1L223.5 316.8L224 317.4L224.5 317.6L225 317.6L225.5 317.5L226 317.4L226.5 317.3L227 317.1L227.5 316.9L228 316.7L228.5 316.5L229 316.2L229.5 316L230 315.7L230.5 315.2L231 314.5L231.5 313.8L232 313.1L232.5 312.4L233 311.7L233.5 311.2L234 310.8L234.5 310.5L235 310.2L235.5 309.9L236 309.6L236.5 309.5L237 309.3L237.5 309.3L238 309.5L238.5 310L239 310.8L239.5 311.7L240 312.6L240.5 313.7L241 314.7L241.5 315.7L242 316.5L242.5 317.2L243 318L243.5 318.7L244 319.5L244.5 320.3L245 321.1L245.5 321.8L246 322.4L246.5 323L247 323.5L247.5 323.8L248 324L248.5 324L249 324L249.5 324L250 323.9L250.5 323.9L251 323.8L251.5 323.8L252 323.7L252.5 323.7L253 323.6L253.5 323.5L254 323.4L254.5 323.3L255 323.2L255.5 323.1L256 323L256.5 322.8L257 322.6L257.5 322.4L258 322.2L258.5 321.9L259 321.7L259.5 321.4L260 321.2L260.5 321L261 320.7L261.5 320.5L262 320.2L262.5 320L263 319.7L263.5 319.4L264 319.2L264.5 318.9L265 318.6L265.5 318.3L266 318L266.5 317.8L267 317.5L267.5 317.2L268 317L268.5 316.7L269 316.5L269.5 316.2L270 316L270.5 315.7L271 315.5L271.5 315.3L272 315L272.5 314.8L273 314.5" fill="none" stroke="#72bf56" stroke-width="1.35" stroke-linejoin="round" />
<path d="M150 295.2L150.5 294.7L151 296.6L151.5 295.1L152 298.2L152.5 297.3L153 296.2L153.5 297.2L154 298.3L154.5 299.6L155 296.1L155.5 298.1L156 297.7L156.5 297L157 298.3L157.5 297.9L158 298.5L158.5 297L159 297.5L159.5 298L160 297.6L160.5 297.7L161 296.9L161.5 297.8L162 297.9L162.5 297.7L163 297.7L163.5 298.4L164 297.2L164.5 298.4L165 297.6L165.5 297.8L166 297.6L166.5 298.7L167 298.5L167.5 297.8L168 297.6L168.5 298.7L169 297.9L169.5 296.9L170 297.2L170.5 296.9L171 296.9L171.5 296.1L172 295.5L172.5 296.1L173 294L173.5 293.8L174 293.8L174.5 293.3L175 293L175.5 292.6L176 292.7L176.5 291L177 292.8L177.5 291.2L178 290L178.5 289.6L179 289.2L179.5 287.8L180 288.6L180.5 287.4L181 287.1L181.5 286.3L182 286L182.5 285.7L183 284.5L183.5 285.3L184 283.2L184.5 283L185 282.6L185.5 282.2L186 281.3L186.5 280.5L187 280L187.5 279.2L188 277.8L188.5 277.8L189 276.4L189.5 275.3L190 275L190.5 273.8L191 273L191.5 271.9L192 270.4L192.5 270L193 269.3L193.5 268.5L194 270.7L194.5 270.9L195 271.8L195.5 273.4L196 273.7L196.5 275.5L197 277.9L197.5 278.2L198 280.4L198.5 283.4L199 284.6L199.5 285.9L200 288.5L200.5 290.9L201 291.9L201.5 293.8L202 295.2L202.5 296.1L203 297.8L203.5 297.9L204 298.4L204.5 299.1L205 299.1L205.5 299.2L206 299.8L206.5 299.9L207 301.3L207.5 301.7L208 300.6L208.5 299.6L209 300.9L209.5 301.6L210 301.1L210.5 301.9L211 302L211.5 301.6L212 302L212.5 301.8L213 302.3L213.5 302.2L214 302.8L214.5 304.1L215 303.6L215.5 304.7L216 304.9L216.5 304.5L217 305.8L217.5 306.3L218 306.6L218.5 307.8L219 309.6L219.5 310.6L220 310.8L220.5 311.6L221 312.8L221.5 313.8L222 315.1L222.5 315L223 315.7L223.5 316.8L224 316.4L224.5 317.5L225 317.8L225.5 316.6L226 317.9L226.5 317L227 317L227.5 316.8L228 316.6L228.5 316.5L229 315.9L229.5 315L230 316.1L230.5 315.1L231 314.8L231.5 313.9L232 313.7L232.5 312.4L233 311.5L233.5 312.6L234 311.6L234.5 310.9L235 310.8L235.5 310.6L236 308.6L236.5 309.2L237 309.4L237.5 309.6L238 309.2L238.5 310.1L239 310.2L239.5 311.5L240 311.7L240.5 313.5L241 315.5L241.5 315L242 316.8L242.5 316.6L243 317.4L243.5 319.9L244 319.1L244.5 320.2L245 320.8L245.5 320.4L246 322.3L246.5 323.3L247 322.8L247.5 323.1L248 323.5L248.5 324.4L249 323.1L249.5 324.7L250 324.6L250.5 322.1L251 322.5L251.5 323.7L252 322.8L252.5 324.4L253 324.7L253.5 322.9L254 324.4L254.5 324L255 323.3L255.5 324.1L256 322.6L256.5 323.2L257 322L257.5 321.6L258 323.7L258.5 323.6L259 321.9L259.5 322.6L260 321L260.5 320.4L261 321.4L261.5 322L262 320.3L262.5 320.2L263 319.8L263.5 318.7L264 317.4L264.5 319L265 317.4L265.5 319.9L266 318.2L266.5 318.4L267 318.3L267.5 316.3L268 316L268.5 318.1L269 317L269.5 316.4L270 316.8L270.5 313.8L271 316.5L271.5 315.5L272 315.5L272.5 315.5L273 316.5" fill="none" stroke="#2e2e2e" stroke-width="1.15" stroke-linejoin="round" stroke-dasharray="1.1 1.4"/>
<path d="M150 296.8L150.5 295.8L151 294.7L151.5 300.2L152 293.3L152.5 296.1L153 296.2L153.5 295.2L154 295.7L154.5 296.5L155 294.8L155.5 296.2L156 297.2L156.5 294.4L157 296.7L157.5 297.1L158 296.7L158.5 296.8L159 296.9L159.5 296.4L160 296L160.5 298.3L161 297.5L161.5 297.6L162 300L162.5 299.5L163 297.1L163.5 300.5L164 297.8L164.5 299.6L165 295.1L165.5 300.5L166 297.7L166.5 296.7L167 296.6L167.5 294L168 296.4L168.5 296.9L169 299.3L169.5 297.5L170 296.7L170.5 298.2L171 297L171.5 295.5L172 294.9L172.5 293.5L173 294.8L173.5 292.1L174 294.9L174.5 291.8L175 293.1L175.5 293.8L176 291.3L176.5 291.6L177 293.4L177.5 290.4L178 291.5L178.5 290.9L179 287.4L179.5 289.3L180 287.1L180.5 288.2L181 287.7L181.5 288.1L182 286.2L182.5 285.9L183 285.5L183.5 287.1L184 284.3L184.5 285.4L185 281.9L185.5 280.9L186 282L186.5 279.7L187 280.1L187.5 279L188 280.7L188.5 279.4L189 279.3L189.5 276.9L190 275.1L190.5 274L191 275.2L191.5 270.6L192 270.3L192.5 268.9L193 270.7L193.5 269.4L194 271.1L194.5 272.5L195 275.1L195.5 274.2L196 271.9L196.5 273.7L197 277.4L197.5 280.9L198 280L198.5 282.3L199 282.9L199.5 285.8L200 288.9L200.5 290.5L201 292.6L201.5 294.9L202 294.8L202.5 295.3L203 294.1L203.5 296.7L204 299.9L204.5 297.6L205 298.7L205.5 298.6L206 299.9L206.5 300.8L207 299.6L207.5 299.6L208 301.4L208.5 299.2L209 301.4L209.5 300.4L210 301.2L210.5 302.4L211 302.5L211.5 303L212 301.3L212.5 302.3L213 301.7L213.5 301.6L214 302.6L214.5 303.7L215 303.8L215.5 304.1L216 303.5L216.5 305.3L217 306.3L217.5 308.5L218 306.8L218.5 309.2L219 309.1L219.5 313.3L220 311.9L220.5 314L221 313.9L221.5 312.8L222 313.6L222.5 315.4L223 315.1L223.5 317.3L224 316.7L224.5 317.4L225 315.9L225.5 319.7L226 316.3L226.5 317.3L227 316.3L227.5 317.3L228 318.2L228.5 317.5L229 314.4L229.5 316.4L230 316.9L230.5 316.7L231 314L231.5 313.2L232 311.2L232.5 315L233 311.5L233.5 310.8L234 310.2L234.5 310.7L235 311.1L235.5 310.9L236 309.1L236.5 308.2L237 310.4L237.5 308.6L238 311.7L238.5 310.8L239 310.4L239.5 313.3L240 310.8L240.5 313.9L241 315L241.5 316.2L242 315.5L242.5 317.5L243 318.7L243.5 319.8L244 319.5L244.5 318.8L245 321.7L245.5 320.4L246 322.4L246.5 322.9L247 326.5L247.5 323.6L248 322.4L248.5 323.3L249 325.3L249.5 323.4L250 326.7L250.5 324.1L251 325.9L251.5 325.5L252 322.4L252.5 324.4L253 322.7L253.5 324.2L254 323.1L254.5 324.2L255 322.4L255.5 323.2L256 321.6L256.5 321.5L257 324L257.5 321.7L258 320.1L258.5 320L259 321.5L259.5 323.2L260 320.9L260.5 321.6L261 320.4L261.5 319.8L262 320.7L262.5 319.6L263 322.7L263.5 319.9L264 320.4L264.5 318.2L265 318.2L265.5 316L266 317.4L266.5 315.6L267 316L267.5 316.7L268 313.9L268.5 313.6L269 314.2L269.5 317.7L270 316.5L270.5 318.4L271 316.5L271.5 314L272 315.5L272.5 314.2L273 312" fill="none" stroke="#505050" stroke-width="0.85" stroke-linejoin="round" stroke-dasharray="0.8 2.6" stroke-opacity="0.75"/>
<path d="M168.9 343.8L169.4 343.9L169.9 343.9L170.4 344L170.9 344.1L171.4 344.2L171.9 344.3L172.4 344.4L172.9 344.5L173.4 344.6L173.9 344.8L174.4 344.9L174.9 345.1L175.4 345.2L175.9 345.4L176.4 345.6L176.9 345.7L177.4 345.9L177.9 346.1L178.4 346.3L178.9 346.4L179.4 346.6L179.9 346.8L180.4 347L180.9 347.3L181.4 347.5L181.9 347.8L182.4 348.1L182.9 348.4L183.4 348.7L183.9 349L184.4 349.3L184.9 349.6L185.4 350L185.9 350.3L186.4 350.6L186.9 351L187.4 351.3L187.9 351.7L188.4 352L188.9 352.4L189.4 352.7L189.9 353L190.4 353.4L190.9 353.7L191.4 354.1L191.9 354.4L192.4 354.8L192.9 355.1L193.4 355.5L193.9 355.9L194.4 356.3L194.9 356.6L195.4 357L195.9 357.4L196.4 357.7L196.9 358.1L197.4 358.4L197.9 358.7L198.4 359L198.9 359.3L199.4 359.6L199.9 359.9L200.4 360.1L200.9 360.4L201.4 360.7L201.9 360.9L202.4 361.2L202.9 361.4L203.4 361.7L203.9 361.9L204.4 362.1L204.9 362.4L205.4 362.6L205.9 362.8L206.4 363L206.9 363.2L207.4 363.4L207.9 363.7L208.4 363.9L208.9 364.1L209.4 364.2L209.9 364.4L210.4 364.6L210.9 364.8L211.4 365L211.9 365.2L212.4 365.3L212.9 365.5L213.4 365.7L213.9 365.8L214.4 366L214.9 366.2L215.4 366.3L215.9 366.5L216.4 366.6L216.9 366.8L217.4 366.9L217.9 367.1L218.4 367.2L218.9 367.4L219.4 367.5L219.9 367.6L220.4 367.8L220.9 367.9L221.4 368L221.9 368.2L222.4 368.3L222.9 368.4L223.4 368.5L223.9 368.6L224.4 368.7L224.9 368.8L225.4 368.9L225.9 369L226.4 369.1L226.9 369.2L227.4 369.3L227.9 369.4L228.4 369.4L228.9 369.5L229.4 369.6L229.9 369.7L230.4 369.7L230.9 369.8L231.4 369.9L231.9 369.9L232.4 370L232.9 370L233.4 370.1L233.9 370.2L234.4 370.2L234.9 370.3L235.4 370.4L235.9 370.5L236.4 370.6L236.9 370.7L237.4 370.7L237.9 370.8L238.4 370.9L238.9 371L239.4 371.1L239.9 371.2L240.4 371.3L240.9 371.5L241.4 371.6L241.9 371.7L242.4 371.8L242.9 371.9L243.4 372L243.9 372.1L244.4 372.3L244.9 372.4L245.4 372.5L245.9 372.6L246.4 372.8L246.9 372.9" fill="none" stroke="#a96f58" stroke-width="1.3" stroke-linejoin="round" />
<path d="M197 358.1L197.5 358.5L198 358.8L198.5 359.1L199 359.3L199.5 359.6L200 359.8L200.5 360L201 360.2L201.5 360.3L202 360.4L202.5 360.5L203 360.5L203.5 360.4L204 360.3L204.5 360.2L205 360L205.5 359.8L206 359.5L206.5 359.2L207 358.9L207.5 358.6L208 358.3L208.5 358.1L209 358L209.5 358L210 358L210.5 358.2L211 358.4L211.5 358.8L212 359.3L212.5 359.8L213 360.4L213.5 361.1L214 361.8L214.5 362.4L215 363.1L215.5 363.7L216 364.3L216.5 364.9L217 365.4L217.5 365.8L218 366.2L218.5 366.6L219 366.9L219.5 367.2L220 367.4L220.5 367.6L221 367.8L221.5 368L222 368.1L222.5 368.3L223 368.4L223.5 368.5" fill="none" stroke="#5468d0" stroke-width="1.15" stroke-linejoin="round" />
<path d="M207.1 363.3L207.6 363.5L208.1 363.7L208.6 363.9L209.1 364L209.6 364.1L210.1 364.2L210.6 364.2L211.1 364.2L211.6 364.1L212.1 363.9L212.6 363.7L213.1 363.3L213.6 362.9L214.1 362.5L214.6 362L215.1 361.6L215.6 361.2L216.1 361L216.6 360.9L217.1 361L217.6 361.3L218.1 361.7L218.6 362.3L219.1 363L219.6 363.7L220.1 364.5L220.6 365.2L221.1 365.9L221.6 366.5L222.1 367.1L222.6 367.5L223.1 367.9L223.6 368.2L224.1 368.4L224.6 368.6L225.1 368.8L225.6 368.9L226.1 369L226.6 369.1" fill="none" stroke="#e2464f" stroke-width="1.15" stroke-linejoin="round" />
<path d="M221.2 367.9L221.7 368.1L222.2 368.2L222.7 368.3L223.2 368.3L223.7 368.4L224.2 368.4L224.7 368.4L225.2 368.4L225.7 368.3L226.2 368.2L226.7 367.9L227.2 367.7L227.7 367.3L228.2 366.9L228.7 366.4L229.2 365.8L229.7 365.1L230.2 364.5L230.7 363.8L231.2 363.1L231.7 362.5L232.2 361.9L232.7 361.5L233.2 361.2L233.7 361L234.2 361L234.7 361.2L235.2 361.6L235.7 362.1L236.2 362.7L236.7 363.4L237.2 364.2L237.7 365.1L238.2 365.9L238.7 366.7L239.2 367.5L239.7 368.3L240.2 368.9L240.7 369.5L241.2 370.1L241.7 370.5L242.2 370.9L242.7 371.2L243.2 371.5L243.7 371.8L244.2 372L244.7 372.2L245.2 372.3L245.7 372.5L246.2 372.7L246.7 372.8" fill="none" stroke="#5468d0" stroke-width="1.15" stroke-linejoin="round" />
<path d="M229.7 369.6L230.2 369.7L230.7 369.7L231.2 369.7L231.7 369.7L232.2 369.7L232.7 369.6L233.2 369.4L233.7 369.2L234.2 368.9L234.7 368.4L235.2 367.9L235.7 367.2L236.2 366.5L236.7 365.7L237.2 364.9L237.7 364.2L238.2 363.5L238.7 363.1L239.2 362.9L239.7 362.9L240.2 363.2L240.7 363.7L241.2 364.4L241.7 365.3L242.2 366.3L242.7 367.3L243.2 368.3L243.7 369.2L244.2 370L244.7 370.7L245.2 371.3L245.7 371.8L246.2 372.2L246.7 372.5L247.2 372.7" fill="none" stroke="#e2464f" stroke-width="1.15" stroke-linejoin="round" />
<path d="M155.6 343.3L156.1 343.4L156.6 343.4L157.1 343.5L157.6 343.5L158.1 343.5L158.6 343.6L159.1 343.6L159.6 343.6L160.1 343.7L160.6 343.7L161.1 343.7L161.6 343.7L162.1 343.7L162.6 343.7L163.1 343.8L163.6 343.8L164.1 343.8L164.6 343.8L165.1 343.8L165.6 343.8L166.1 343.8L166.6 343.8L167.1 343.8L167.6 343.8L168.1 343.8L168.6 343.8L169.1 343.8L169.6 343.7L170.1 343.6L170.6 343.3L171.1 343L171.6 342.6L172.1 342.2L172.6 341.8L173.1 341.3L173.6 340.8L174.1 340.2L174.6 339.7L175.1 339.1L175.6 338.5L176.1 338L176.6 337.4L177.1 336.9L177.6 336.4L178.1 335.9L178.6 335.3L179.1 334.7L179.6 334.1L180.1 333.5L180.6 332.9L181.1 332.2L181.6 331.6L182.1 330.9L182.6 330.2L183.1 329.5L183.6 328.8L184.1 328L184.6 327.2L185.1 326.4L185.6 325.6L186.1 324.7L186.6 323.8L187.1 322.9L187.6 322L188.1 321.1L188.6 320.2L189.1 319.2L189.6 318L190.1 316.6L190.6 315.3L191.1 314L191.6 313.1L192.1 312.7L192.6 312.9L193.1 313.6L193.6 314.6L194.1 315.5L194.6 316.7L195.1 318L195.6 319.4L196.1 320.9L196.6 322.6L197.1 324.2L197.6 325.9L198.1 327.5L198.6 329.4L199.1 331.3L199.6 333.4L200.1 335.4L200.6 337.2L201.1 338.7L201.6 339.9L202.1 341L202.6 342L203.1 342.8L203.6 343.6L204.1 344.2L204.6 344.5L205.1 344.8L205.6 345.1L206.1 345.3L206.6 345.5L207.1 345.7L207.6 345.8L208.1 346L208.6 346.1L209.1 346.2L209.6 346.3L210.1 346.5L210.6 346.6L211.1 346.8L211.6 347L212.1 347.2L212.6 347.4L213.1 347.7L213.6 348L214.1 348.5L214.6 349L215.1 349.6L215.6 350.3L216.1 351L216.6 351.8L217.1 352.6L217.6 353.6L218.1 354.6L218.6 355.8L219.1 356.9L219.6 358.1L220.1 359.3L220.6 360.4L221.1 361.3L221.6 362.2L222.1 363.2L222.6 364.2L223.1 365.1L223.6 365.9L224.1 366.4L224.6 366.6L225.1 366.6L225.6 366.5L226.1 366.3L226.6 366.1L227.1 365.9L227.6 365.7L228.1 365.4L228.6 365.1L229.1 364.7L229.6 364.3L230.1 363.7L230.6 362.9L231.1 362L231.6 361L232.1 360.2L232.6 359.4L233.1 358.8L233.6 358.4L234.1 358L234.6 357.6L235.1 357.3L235.6 357L236.1 356.8L236.6 356.8L237.1 357.1L237.6 357.6L238.1 358.4L238.6 359.4L239.1 360.5L239.6 361.7L240.1 362.8L240.6 363.9L241.1 364.8L241.6 365.6L242.1 366.4L242.6 367.3L243.1 368.2L243.6 369L244.1 369.9L244.6 370.7L245.1 371.4L245.6 372L246.1 372.5L246.6 372.8L247.1 373L247.6 373L248.1 372.9L248.6 372.8L249.1 372.7L249.6 372.5L250.1 372.2L250.6 371.8L251.1 371.5L251.6 371.1L252.1 370.6L252.6 370.2L253.1 369.8L253.6 369.5L254.1 369.1" fill="none" stroke="#72bf56" stroke-width="1.35" stroke-linejoin="round" />
<path d="M155.6 342.9L156.1 344.3L156.6 343.8L157.1 342.9L157.6 344.1L158.1 342.2L158.6 344.1L159.1 343.1L159.6 344.2L160.1 344.1L160.6 342.9L161.1 344.2L161.6 344L162.1 343.1L162.6 345.6L163.1 344.5L163.6 342.6L164.1 342.8L164.6 344.1L165.1 344.1L165.6 343.1L166.1 345L166.6 343.9L167.1 343L167.6 343.4L168.1 343.6L168.6 342.3L169.1 343.4L169.6 342.8L170.1 343.4L170.6 343.6L171.1 342.4L171.6 342.8L172.1 341.6L172.6 341.7L173.1 341L173.6 340.2L174.1 339.9L174.6 339L175.1 339.2L175.6 338.5L176.1 338.6L176.6 336.7L177.1 337.5L177.6 336.4L178.1 336.1L178.6 335.2L179.1 335.5L179.6 334.8L180.1 334.1L180.6 333L181.1 331.1L181.6 331.9L182.1 330.9L182.6 330.1L183.1 329.7L183.6 329.3L184.1 328.1L184.6 327L185.1 326L185.6 325.7L186.1 325.3L186.6 324.1L187.1 323.2L187.6 321.8L188.1 320.5L188.6 320.7L189.1 319.5L189.6 317.1L190.1 316.3L190.6 315.8L191.1 314.6L191.6 312.8L192.1 313.8L192.6 313.6L193.1 314.1L193.6 314.5L194.1 314.8L194.6 317.1L195.1 318.9L195.6 319.9L196.1 320.4L196.6 323.1L197.1 323.9L197.6 324.8L198.1 327.7L198.6 328L199.1 331.4L199.6 333.9L200.1 335.9L200.6 338.5L201.1 339L201.6 339.4L202.1 341.3L202.6 342.3L203.1 342.6L203.6 342.7L204.1 344L204.6 344.2L205.1 344.6L205.6 345L206.1 345.7L206.6 345.8L207.1 346.4L207.6 345.6L208.1 346.4L208.6 345.2L209.1 346.2L209.6 345.6L210.1 346L210.6 347.1L211.1 346.3L211.6 347.7L212.1 348L212.6 347.7L213.1 347.5L213.6 347.5L214.1 348L214.6 349L215.1 349.1L215.6 350.3L216.1 350.7L216.6 352.1L217.1 351.7L217.6 353.8L218.1 355.1L218.6 355.3L219.1 357.7L219.6 358.9L220.1 359.6L220.6 359.6L221.1 361.5L221.6 361.4L222.1 363L222.6 363.6L223.1 365.2L223.6 365.5L224.1 366.6L224.6 367.1L225.1 366.2L225.6 366.7L226.1 366.1L226.6 366L227.1 365.8L227.6 365.3L228.1 365.1L228.6 365.5L229.1 365.3L229.6 364.3L230.1 364.1L230.6 363.4L231.1 362.3L231.6 360L232.1 360.1L232.6 360L233.1 359L233.6 358.3L234.1 357.8L234.6 357.7L235.1 357.1L235.6 357.4L236.1 356.8L236.6 356.8L237.1 357.3L237.6 358.2L238.1 358.4L238.6 359.7L239.1 360.4L239.6 361.1L240.1 362.8L240.6 364.2L241.1 365L241.6 365.6L242.1 366.3L242.6 366.7L243.1 368.1L243.6 369.8L244.1 369.8L244.6 370.7L245.1 372.1L245.6 372L246.1 372.6L246.6 372.2L247.1 373.4L247.6 374.3L248.1 372.9L248.6 373.8L249.1 373.6L249.6 369.9L250.1 373.5L250.6 370.5L251.1 371.9L251.6 371.5L252.1 370.4L252.6 369.9L253.1 369.5L253.6 369L254.1 368.7" fill="none" stroke="#2e2e2e" stroke-width="1.15" stroke-linejoin="round" stroke-dasharray="1.1 1.4"/>
<path d="M155.6 342.2L156.1 343.2L156.6 343.6L157.1 343.1L157.6 344L158.1 342.3L158.6 343.8L159.1 344.8L159.6 346L160.1 341.7L160.6 344.8L161.1 344.1L161.6 340.7L162.1 342.8L162.6 342.2L163.1 344.5L163.6 346L164.1 345.7L164.6 344.2L165.1 345.9L165.6 344.4L166.1 344.1L166.6 341.5L167.1 342.7L167.6 343.2L168.1 342.6L168.6 342.3L169.1 343.3L169.6 344.8L170.1 344L170.6 343.6L171.1 342.6L171.6 342.2L172.1 342.2L172.6 341L173.1 341.5L173.6 340.6L174.1 339.9L174.6 339.8L175.1 339L175.6 338.8L176.1 336.9L176.6 336.3L177.1 336L177.6 335.3L178.1 337.2L178.6 334.3L179.1 335.1L179.6 334.8L180.1 335L180.6 332.6L181.1 331.6L181.6 331.7L182.1 332.8L182.6 329.9L183.1 330.4L183.6 329.8L184.1 326.7L184.6 328.4L185.1 327.1L185.6 323.8L186.1 325.7L186.6 325.2L187.1 323L187.6 322.3L188.1 321.9L188.6 320.5L189.1 318.3L189.6 316.7L190.1 315.8L190.6 314.5L191.1 314.7L191.6 311.7L192.1 311.8L192.6 311.9L193.1 315L193.6 316.4L194.1 316L194.6 317.5L195.1 318.7L195.6 318.4L196.1 320.2L196.6 323.1L197.1 324.3L197.6 323.6L198.1 326.4L198.6 329.3L199.1 329.7L199.6 334L200.1 336L200.6 338.5L201.1 337.4L201.6 339.6L202.1 341.8L202.6 340.9L203.1 342.8L203.6 342.8L204.1 344.1L204.6 343.1L205.1 344.8L205.6 346.7L206.1 346.5L206.6 344.8L207.1 345.5L207.6 344.6L208.1 347L208.6 346.3L209.1 347.3L209.6 346.3L210.1 345.7L210.6 347.4L211.1 345.4L211.6 346.7L212.1 348.3L212.6 346.6L213.1 344.6L213.6 346.8L214.1 350.4L214.6 348.5L215.1 348.2L215.6 349.7L216.1 352.5L216.6 351.2L217.1 351.3L217.6 355.4L218.1 354.6L218.6 356.5L219.1 355.2L219.6 359.6L220.1 359.4L220.6 362L221.1 362.6L221.6 362.2L222.1 363.4L222.6 364.2L223.1 368.3L223.6 366.8L224.1 367.9L224.6 367.4L225.1 364.5L225.6 365.1L226.1 368L226.6 366.4L227.1 365.2L227.6 366.3L228.1 365.6L228.6 367.5L229.1 364.1L229.6 363.7L230.1 364L230.6 364.1L231.1 362.1L231.6 361.9L232.1 360.1L232.6 359.3L233.1 358.6L233.6 358L234.1 359L234.6 357.1L235.1 358.5L235.6 355.3L236.1 354.5L236.6 359.8L237.1 355.7L237.6 358.6L238.1 358.6L238.6 360.5L239.1 363.2L239.6 362L240.1 363.8L240.6 363.5L241.1 365.5L241.6 364.2L242.1 368L242.6 367.4L243.1 367.1L243.6 368.9L244.1 369.8L244.6 372.1L245.1 369.7L245.6 371.1L246.1 373.3L246.6 372.3L247.1 373L247.6 373.8L248.1 371.6L248.6 373.4L249.1 370.2L249.6 370.3L250.1 372.4L250.6 370.5L251.1 370.1L251.6 369.6L252.1 370.7L252.6 369.8L253.1 369.9L253.6 370.4L254.1 372" fill="none" stroke="#505050" stroke-width="0.85" stroke-linejoin="round" stroke-dasharray="0.8 2.6" stroke-opacity="0.75"/>
<path d="M336.9 248.9L337.4 248.9L337.9 249L338.4 249L338.9 249.1L339.4 249.2L339.9 249.2L340.4 249.3L340.9 249.4L341.4 249.5L341.9 249.6L342.4 249.7L342.9 249.8L343.4 249.9L343.9 250L344.4 250.1L344.9 250.2L345.4 250.4L345.9 250.5L346.4 250.6L346.9 250.7L347.4 250.9L347.9 251L348.4 251.2L348.9 251.3L349.4 251.5L349.9 251.7L350.4 251.9L350.9 252.1L351.4 252.3L351.9 252.5L352.4 252.7L352.9 252.9L353.4 253.2L353.9 253.4L354.4 253.6L354.9 253.9L355.4 254.1L355.9 254.4L356.4 254.6L356.9 254.8L357.4 255.1L357.9 255.3L358.4 255.6L358.9 255.8L359.4 256L359.9 256.3L360.4 256.5L360.9 256.8L361.4 257L361.9 257.3L362.4 257.6L362.9 257.8L363.4 258.1L363.9 258.3L364.4 258.6L364.9 258.8L365.4 259.1L365.9 259.3L366.4 259.5L366.9 259.7L367.4 259.9L367.9 260.1L368.4 260.3L368.9 260.5L369.4 260.7L369.9 260.9L370.4 261.1L370.9 261.2L371.4 261.4L371.9 261.6L372.4 261.7L372.9 261.9L373.4 262.1L373.9 262.2L374.4 262.4L374.9 262.5L375.4 262.7L375.9 262.8L376.4 263L376.9 263.1L377.4 263.3L377.9 263.4L378.4 263.5L378.9 263.7L379.4 263.8L379.9 263.9L380.4 264L380.9 264.1L381.4 264.3L381.9 264.4L382.4 264.5L382.9 264.6L383.4 264.7L383.9 264.8L384.4 264.9L384.9 265.1L385.4 265.2L385.9 265.3L386.4 265.4L386.9 265.5L387.4 265.6L387.9 265.7L388.4 265.8L388.9 265.9L389.4 266L389.9 266L390.4 266.1L390.9 266.2L391.4 266.3L391.9 266.4L392.4 266.5L392.9 266.5L393.4 266.6L393.9 266.7L394.4 266.8L394.9 266.8L395.4 266.9L395.9 266.9L396.4 267L396.9 267.1L397.4 267.1L397.9 267.2L398.4 267.2L398.9 267.2L399.4 267.3L399.9 267.3L400.4 267.4L400.9 267.4L401.4 267.5L401.9 267.5L402.4 267.6L402.9 267.6L403.4 267.7L403.9 267.7L404.4 267.8L404.9 267.8L405.4 267.9L405.9 268L406.4 268L406.9 268.1L407.4 268.2L407.9 268.2L408.4 268.3L408.9 268.4L409.4 268.4L409.9 268.5L410.4 268.6L410.9 268.7L411.4 268.8L411.9 268.8L412.4 268.9L412.9 269L413.4 269.1L413.9 269.2L414.4 269.3L414.9 269.3L415.4 269.4L415.9 269.5" fill="none" stroke="#a96f58" stroke-width="1.3" stroke-linejoin="round" />
<path d="M365.5 259.1L366 259.3L366.5 259.6L367 259.7L367.5 259.9L368 260.1L368.5 260.2L369 260.3L369.5 260.4L370 260.5L370.5 260.5L371 260.5L371.5 260.5L372 260.4L372.5 260.2L373 260L373.5 259.8L374 259.5L374.5 259.1L375 258.8L375.5 258.4L376 258.1L376.5 257.8L377 257.6L377.5 257.4L378 257.3L378.5 257.3L379 257.4L379.5 257.6L380 257.9L380.5 258.3L381 258.8L381.5 259.3L382 259.9L382.5 260.5L383 261.1L383.5 261.7L384 262.3L384.5 262.8L385 263.3L385.5 263.8L386 264.2L386.5 264.5L387 264.8L387.5 265.1L388 265.3L388.5 265.5L389 265.7L389.5 265.8L390 266L390.5 266.1L391 266.2L391.5 266.3L392 266.4" fill="none" stroke="#5468d0" stroke-width="1.15" stroke-linejoin="round" />
<path d="M374.3 262.4L374.8 262.5L375.3 262.6L375.8 262.8L376.3 262.9L376.8 263L377.3 263L377.8 263.1L378.3 263.1L378.8 263L379.3 262.9L379.8 262.8L380.3 262.5L380.8 262.3L381.3 262L381.8 261.7L382.3 261.5L382.8 261.2L383.3 261.1L383.8 261.1L384.3 261.1L384.8 261.3L385.3 261.6L385.8 262L386.3 262.5L386.8 263L387.3 263.5L387.8 263.9L388.3 264.4L388.8 264.8L389.3 265.2L389.8 265.5L390.3 265.7L390.8 266L391.3 266.1L391.8 266.3L392.3 266.4L392.8 266.5L393.3 266.6L393.8 266.7" fill="none" stroke="#e2464f" stroke-width="1.15" stroke-linejoin="round" />
<path d="M389.7 266L390.2 266.1L390.7 266.1L391.2 266.2L391.7 266.3L392.2 266.3L392.7 266.3L393.2 266.3L393.7 266.3L394.2 266.2L394.7 266L395.2 265.9L395.7 265.6L396.2 265.3L396.7 265L397.2 264.5L397.7 264.1L398.2 263.5L398.7 263L399.2 262.4L399.7 261.9L400.2 261.3L400.7 260.9L401.2 260.5L401.7 260.3L402.2 260.1L402.7 260.1L403.2 260.2L403.7 260.5L404.2 260.9L404.7 261.4L405.2 262L405.7 262.6L406.2 263.3L406.7 264L407.2 264.6L407.7 265.3L408.2 265.8L408.7 266.4L409.2 266.9L409.7 267.3L410.2 267.6L410.7 267.9L411.2 268.2L411.7 268.4L412.2 268.6L412.7 268.8L413.2 268.9L413.7 269L414.2 269.2L414.7 269.3L415.2 269.4" fill="none" stroke="#5468d0" stroke-width="1.15" stroke-linejoin="round" />
<path d="M397 267.1L397.5 267.1L398 267.1L398.5 267.2L399 267.2L399.5 267.1L400 267.1L400.5 267L401 266.9L401.5 266.7L402 266.4L402.5 266.1L403 265.7L403.5 265.3L404 264.8L404.5 264.4L405 263.9L405.5 263.6L406 263.3L406.5 263.2L407 263.2L407.5 263.3L408 263.7L408.5 264.1L409 264.6L409.5 265.2L410 265.8L410.5 266.4L411 266.9L411.5 267.4L412 267.9L412.5 268.2L413 268.5L413.5 268.8L414 269L414.5 269.1L415 269.3L415.5 269.4L416 269.5" fill="none" stroke="#e2464f" stroke-width="1.15" stroke-linejoin="round" />
<path d="M318 247.8L318.5 247.9L319 248L319.5 248L320 248.1L320.5 248.2L321 248.2L321.5 248.3L322 248.4L322.5 248.4L323 248.5L323.5 248.5L324 248.6L324.5 248.6L325 248.6L325.5 248.7L326 248.7L326.5 248.7L327 248.7L327.5 248.8L328 248.8L328.5 248.8L329 248.8L329.5 248.8L330 248.8L330.5 248.9L331 248.9L331.5 248.9L332 248.9L332.5 248.9L333 248.9L333.5 248.9L334 248.9L334.5 248.9L335 248.9L335.5 248.9L336 248.9L336.5 248.9L337 248.9L337.5 248.8L338 248.7L338.5 248.5L339 248.2L339.5 247.9L340 247.5L340.5 247.1L341 246.7L341.5 246.2L342 245.7L342.5 245.2L343 244.7L343.5 244.1L344 243.6L344.5 243.1L345 242.6L345.5 242.1L346 241.6L346.5 241.1L347 240.6L347.5 240.1L348 239.5L348.5 238.9L349 238.3L349.5 237.7L350 237.1L350.5 236.5L351 235.8L351.5 235.2L352 234.5L352.5 233.7L353 233L353.5 232.2L354 231.5L354.5 230.7L355 229.9L355.5 229L356 228.2L356.5 227.3L357 226.5L357.5 225.6L358 224.5L358.5 223.2L359 221.9L359.5 220.7L360 219.8L360.5 219.3L361 219.4L361.5 220.1L362 221L362.5 221.9L363 223L363.5 224.3L364 225.7L364.5 227.2L365 228.8L365.5 230.4L366 232L366.5 233.6L367 235.5L367.5 237.4L368 239.4L368.5 241.3L369 242.9L369.5 244.2L370 245.3L370.5 246.3L371 247.2L371.5 248L372 248.6L372.5 249L373 249.2L373.5 249.5L374 249.7L374.5 249.9L375 250.1L375.5 250.2L376 250.3L376.5 250.5L377 250.6L377.5 250.7L378 250.8L378.5 250.9L379 251L379.5 251.1L380 251.2L380.5 251.4L381 251.6L381.5 251.8L382 252L382.5 252.3L383 252.6L383.5 253L384 253.6L384.5 254.1L385 254.7L385.5 255.4L386 256.1L386.5 256.9L387 257.9L387.5 258.9L388 259.8L388.5 260.7L389 261.6L389.5 262.3L390 263.1L390.5 263.9L391 264.6L391.5 265.1L392 265.4L392.5 265.4L393 265.3L393.5 265.2L394 265L394.5 264.7L395 264.5L395.5 264.2L396 263.8L396.5 263.5L397 263L397.5 262.3L398 261.5L398.5 260.5L399 259.6L399.5 258.7L400 258L400.5 257.6L401 257.1L401.5 256.7L402 256.4L402.5 256.1L403 255.9L403.5 255.8L404 255.9L404.5 256.2L405 256.7L405.5 257.3L406 258.1L406.5 258.9L407 259.7L407.5 260.5L408 261.3L408.5 262.1L409 262.7L409.5 263.2L410 263.8L410.5 264.5L411 265.1L411.5 265.7L412 266.3L412.5 266.9L413 267.5L413.5 268L414 268.5L414.5 268.9L415 269.2L415.5 269.5L416 269.6L416.5 269.6L417 269.6L417.5 269.6L418 269.5L418.5 269.5L419 269.5L419.5 269.4L420 269.4L420.5 269.3L421 269.2L421.5 269.2L422 269.1L422.5 269L423 268.9L423.5 268.8L424 268.7L424.5 268.5L425 268.4L425.5 268.2L426 268L426.5 267.8L427 267.6L427.5 267.3L428 267.1L428.5 266.9L429 266.7L429.5 266.5L430 266.3L430.5 266L431 265.8L431.5 265.6L432 265.3L432.5 265.1L433 264.8L433.5 264.6L434 264.3L434.5 264.1L435 263.8L435.5 263.6L436 263.4L436.5 263.2L437 262.9L437.5 262.7L438 262.5L438.5 262.3L439 262.1L439.5 261.9L440 261.6L440.5 261.4L441 261.2" fill="none" stroke="#72bf56" stroke-width="1.35" stroke-linejoin="round" />
<path d="M318 247.5L318.5 249L319 249.3L319.5 248.3L320 248.5L320.5 247.7L321 247.4L321.5 247.4L322 247.4L322.5 249.3L323 248.4L323.5 248.6L324 247.9L324.5 247.6L325 247.5L325.5 247.9L326 249.3L326.5 248.7L327 248.3L327.5 248.5L328 247.4L328.5 250L329 247.7L329.5 248.9L330 250.9L330.5 246.4L331 247.5L331.5 248.2L332 249L332.5 247.3L333 248.7L333.5 248.9L334 249.1L334.5 246.6L335 249.5L335.5 250.4L336 249.3L336.5 248.2L337 248.6L337.5 247.5L338 248.9L338.5 249.3L339 248.6L339.5 246.4L340 247.3L340.5 247.1L341 246.4L341.5 246.7L342 244.8L342.5 244.8L343 245L343.5 244.6L344 243.7L344.5 243.6L345 242.9L345.5 241.6L346 242.3L346.5 240.9L347 239.8L347.5 240.3L348 240.4L348.5 239.4L349 238.8L349.5 237.8L350 235.9L350.5 236.8L351 235.9L351.5 233.8L352 234.1L352.5 233.3L353 233.5L353.5 232.3L354 231.6L354.5 230.8L355 229.2L355.5 228L356 228.2L356.5 227.2L357 226.5L357.5 225.5L358 224.2L358.5 223.5L359 222L359.5 220.4L360 218.9L360.5 218.1L361 218.7L361.5 220L362 221.4L362.5 221.7L363 223.3L363.5 224.8L364 226.9L364.5 227.3L365 229.5L365.5 230.5L366 231.4L366.5 232.5L367 235.6L367.5 237.9L368 240.7L368.5 241L369 243.2L369.5 244.2L370 244.1L370.5 246.5L371 247.1L371.5 247.3L372 249.4L372.5 248.7L373 249.5L373.5 249.4L374 249.4L374.5 249.8L375 250.5L375.5 249.9L376 249.5L376.5 251.4L377 250.8L377.5 250.2L378 250.7L378.5 250.1L379 250.9L379.5 251.5L380 250.3L380.5 251.8L381 252L381.5 251.6L382 252L382.5 252.1L383 252.4L383.5 252.1L384 254.4L384.5 253.8L385 254.8L385.5 255.2L386 256.3L386.5 257.2L387 257.4L387.5 259L388 259.7L388.5 260.3L389 262.2L389.5 262.9L390 262.7L390.5 263.8L391 264.1L391.5 264.6L392 264.9L392.5 265.7L393 264.6L393.5 264.4L394 265.1L394.5 264.4L395 265.1L395.5 263.7L396 263.6L396.5 263.1L397 261.9L397.5 262.5L398 261.8L398.5 261L399 259.5L399.5 259.1L400 258L400.5 257.5L401 256.7L401.5 256.6L402 255.9L402.5 256.4L403 255.5L403.5 255.3L404 255.9L404.5 256.2L405 255.9L405.5 256.8L406 257.8L406.5 259L407 259.9L407.5 260.9L408 261.2L408.5 261.6L409 262L409.5 263.3L410 263.6L410.5 264.7L411 265.6L411.5 266.7L412 265.9L412.5 267.2L413 266.7L413.5 268.5L414 267.9L414.5 268.8L415 268.7L415.5 270.2L416 269.9L416.5 270.4L417 269.5L417.5 269.9L418 268.5L418.5 269L419 270.8L419.5 267.6L420 269.4L420.5 270.4L421 270.3L421.5 269.8L422 269.1L422.5 270.3L423 268.7L423.5 268.8L424 267.1L424.5 268.8L425 268.1L425.5 268.2L426 265.8L426.5 266.6L427 267.4L427.5 266.2L428 267.7L428.5 268.9L429 266.7L429.5 266.9L430 265.8L430.5 265.6L431 264.4L431.5 266L432 264L432.5 264.5L433 264.2L433.5 263.3L434 263.6L434.5 263.9L435 264.7L435.5 263.5L436 264.5L436.5 263.4L437 263L437.5 263.1L438 262.1L438.5 263L439 262.1L439.5 261.8L440 263.2L440.5 260.5L441 260.2" fill="none" stroke="#2e2e2e" stroke-width="1.15" stroke-linejoin="round" stroke-dasharray="1.1 1.4"/>
<path d="M318 247.5L318.5 248.1L319 247.3L319.5 249.2L320 248.4L320.5 248.5L321 246.1L321.5 250.7L322 248.3L322.5 246.9L323 250.4L323.5 248.3L324 247.3L324.5 246.8L325 248.5L325.5 247.6L326 247.1L326.5 248.4L327 248.3L327.5 247.8L328 250.1L328.5 250.9L329 250.9L329.5 248.1L330 247.9L330.5 246.4L331 248.3L331.5 247.3L332 249L332.5 248.4L333 249.7L333.5 248.7L334 249.5L334.5 249.7L335 245.1L335.5 247.2L336 249.2L336.5 248.8L337 249L337.5 248.2L338 249.4L338.5 247.9L339 247.9L339.5 247.1L340 248.2L340.5 247.9L341 246.5L341.5 246.5L342 243.4L342.5 246.1L343 242.4L343.5 243.4L344 240.9L344.5 242.4L345 241.8L345.5 244.2L346 240.3L346.5 238.1L347 240.6L347.5 239.6L348 240.7L348.5 239.7L349 236.3L349.5 237.2L350 236.6L350.5 236.5L351 235.4L351.5 234.9L352 234.7L352.5 231.7L353 231.8L353.5 233.7L354 232.8L354.5 230.9L355 230.4L355.5 230.1L356 229.8L356.5 227.2L357 225.7L357.5 226.9L358 224.2L358.5 222.2L359 222.6L359.5 220.5L360 219.8L360.5 219.3L361 220.3L361.5 220.2L362 221.1L362.5 220.4L363 221.4L363.5 223L364 225L364.5 228.5L365 228.1L365.5 229.9L366 234.2L366.5 234.1L367 235.1L367.5 238.2L368 239.6L368.5 243L369 243.8L369.5 243.4L370 246.8L370.5 245.2L371 249.6L371.5 248.8L372 246.6L372.5 251.7L373 248.7L373.5 247.2L374 252.1L374.5 249.2L375 250.2L375.5 250.2L376 250.7L376.5 251.4L377 248.9L377.5 253.8L378 251.8L378.5 251.1L379 252L379.5 251.5L380 252.4L380.5 252.4L381 252.7L381.5 252.5L382 252.1L382.5 252.7L383 252.4L383.5 253.8L384 252.2L384.5 252.6L385 255.8L385.5 253.7L386 256.6L386.5 257.8L387 255.4L387.5 259.1L388 261.6L388.5 260.1L389 263.3L389.5 261L390 260.6L390.5 262.8L391 263.6L391.5 266L392 264.9L392.5 264.4L393 264.3L393.5 266.4L394 262.7L394.5 263L395 263.6L395.5 263.9L396 264.4L396.5 264.6L397 262.1L397.5 262.7L398 260.1L398.5 263.4L399 259.5L399.5 257L400 259.1L400.5 257.6L401 258.4L401.5 257.6L402 254.3L402.5 256.8L403 255.4L403.5 255.2L404 255.9L404.5 256L405 256.9L405.5 258.5L406 258.1L406.5 259.2L407 261.3L407.5 260.3L408 261.8L408.5 262.2L409 264.1L409.5 262.3L410 264.2L410.5 265.7L411 265.5L411.5 266.5L412 266.3L412.5 267.7L413 267.5L413.5 269.1L414 268.6L414.5 268.5L415 269.4L415.5 269.1L416 272.7L416.5 270.8L417 270.1L417.5 269.4L418 271.1L418.5 269L419 269L419.5 268.7L420 269L420.5 269L421 267.8L421.5 269.8L422 267.5L422.5 269.9L423 270.8L423.5 267.9L424 267.9L424.5 270.2L425 267.5L425.5 268.4L426 267.9L426.5 267.6L427 266.4L427.5 268.4L428 267.4L428.5 266.4L429 266.3L429.5 264.8L430 267.2L430.5 266.9L431 268.3L431.5 264.5L432 268.1L432.5 265.3L433 266.9L433.5 262.1L434 264.8L434.5 265.1L435 261.5L435.5 264.4L436 265L436.5 261.9L437 264.5L437.5 263.4L438 264.1L438.5 261.8L439 260.4L439.5 261.1L440 261.9L440.5 258.1L441 261.9" fill="none" stroke="#505050" stroke-width="0.85" stroke-linejoin="round" stroke-dasharray="0.8 2.6" stroke-opacity="0.75"/>
<path d="M336.9 300L337.4 300L337.9 300.1L338.4 300.2L338.9 300.2L339.4 300.3L339.9 300.4L340.4 300.5L340.9 300.6L341.4 300.7L341.9 300.8L342.4 301L342.9 301.1L343.4 301.2L343.9 301.4L344.4 301.5L344.9 301.6L345.4 301.8L345.9 302L346.4 302.1L346.9 302.3L347.4 302.4L347.9 302.6L348.4 302.8L348.9 303L349.4 303.2L349.9 303.4L350.4 303.6L350.9 303.9L351.4 304.2L351.9 304.4L352.4 304.7L352.9 305L353.4 305.3L353.9 305.6L354.4 305.9L354.9 306.2L355.4 306.4L355.9 306.7L356.4 307L356.9 307.3L357.4 307.6L357.9 307.9L358.4 308.2L358.9 308.5L359.4 308.8L359.9 309.1L360.4 309.4L360.9 309.7L361.4 310L361.9 310.4L362.4 310.7L362.9 311L363.4 311.3L363.9 311.6L364.4 311.9L364.9 312.2L365.4 312.5L365.9 312.8L366.4 313L366.9 313.3L367.4 313.5L367.9 313.8L368.4 314L368.9 314.2L369.4 314.4L369.9 314.7L370.4 314.9L370.9 315.1L371.4 315.3L371.9 315.5L372.4 315.7L372.9 315.9L373.4 316.1L373.9 316.3L374.4 316.5L374.9 316.6L375.4 316.8L375.9 317L376.4 317.2L376.9 317.3L377.4 317.5L377.9 317.7L378.4 317.8L378.9 318L379.4 318.1L379.9 318.3L380.4 318.4L380.9 318.6L381.4 318.7L381.9 318.9L382.4 319L382.9 319.1L383.4 319.3L383.9 319.4L384.4 319.5L384.9 319.7L385.4 319.8L385.9 319.9L386.4 320L386.9 320.2L387.4 320.3L387.9 320.4L388.4 320.5L388.9 320.6L389.4 320.7L389.9 320.9L390.4 321L390.9 321.1L391.4 321.2L391.9 321.3L392.4 321.3L392.9 321.4L393.4 321.5L393.9 321.6L394.4 321.7L394.9 321.8L395.4 321.8L395.9 321.9L396.4 322L396.9 322L397.4 322.1L397.9 322.1L398.4 322.2L398.9 322.2L399.4 322.3L399.9 322.4L400.4 322.4L400.9 322.5L401.4 322.5L401.9 322.6L402.4 322.6L402.9 322.7L403.4 322.8L403.9 322.8L404.4 322.9L404.9 323L405.4 323.1L405.9 323.1L406.4 323.2L406.9 323.3L407.4 323.4L407.9 323.5L408.4 323.6L408.9 323.7L409.4 323.8L409.9 323.9L410.4 324L410.9 324.1L411.4 324.2L411.9 324.3L412.4 324.4L412.9 324.5L413.4 324.6L413.9 324.7L414.4 324.8L414.9 324.9" fill="none" stroke="#a96f58" stroke-width="1.3" stroke-linejoin="round" />
<path d="M365.5 312.6L366 312.8L366.5 313.1L367 313.3L367.5 313.5L368 313.7L368.5 313.9L369 314.1L369.5 314.3L370 314.4L370.5 314.5L371 314.6L371.5 314.6L372 314.6L372.5 314.6L373 314.6L373.5 314.5L374 314.3L374.5 314.2L375 314L375.5 313.8L376 313.6L376.5 313.5L377 313.4L377.5 313.3L378 313.3L378.5 313.4L379 313.5L379.5 313.7L380 314L380.5 314.4L381 314.8L381.5 315.2L382 315.7L382.5 316.2L383 316.7L383.5 317.1L384 317.6L384.5 318.1L385 318.5L385.5 318.8L386 319.2L386.5 319.5L387 319.7L387.5 320L388 320.2L388.5 320.4L389 320.5L389.5 320.7L390 320.8L390.5 320.9L391 321.1L391.5 321.2L392 321.3" fill="none" stroke="#5468d0" stroke-width="1.15" stroke-linejoin="round" />
<path d="M374.9 316.6L375.4 316.8L375.9 317L376.4 317.1L376.9 317.3L377.4 317.4L377.9 317.5L378.4 317.5L378.9 317.5L379.4 317.5L379.9 317.3L380.4 317.2L380.9 316.9L381.4 316.6L381.9 316.3L382.4 316L382.9 315.7L383.4 315.5L383.9 315.3L384.4 315.3L384.9 315.4L385.4 315.6L385.9 315.9L386.4 316.4L386.9 316.9L387.4 317.5L387.9 318L388.4 318.6L388.9 319.1L389.4 319.6L389.9 320L390.4 320.3L390.9 320.6L391.4 320.9L391.9 321.1L392.4 321.2L392.9 321.4L393.4 321.5L393.9 321.6L394.4 321.7" fill="none" stroke="#e2464f" stroke-width="1.15" stroke-linejoin="round" />
<path d="M389.7 320.8L390.2 320.9L390.7 321L391.2 321.1L391.7 321.1L392.2 321.2L392.7 321.2L393.2 321.2L393.7 321.2L394.2 321.2L394.7 321.1L395.2 320.9L395.7 320.7L396.2 320.5L396.7 320.2L397.2 319.8L397.7 319.4L398.2 318.9L398.7 318.5L399.2 318L399.7 317.5L400.2 317.1L400.7 316.7L401.2 316.4L401.7 316.1L402.2 316L402.7 316L403.2 316.2L403.7 316.4L404.2 316.8L404.7 317.3L405.2 317.8L405.7 318.4L406.2 319L406.7 319.7L407.2 320.3L407.7 320.9L408.2 321.4L408.7 321.9L409.2 322.4L409.7 322.8L410.2 323.1L410.7 323.4L411.2 323.7L411.7 323.9L412.2 324.1L412.7 324.3L413.2 324.4L413.7 324.6L414.2 324.7L414.7 324.8L415.2 324.9" fill="none" stroke="#5468d0" stroke-width="1.15" stroke-linejoin="round" />
<path d="M397.6 322.1L398.1 322.1L398.6 322.2L399.1 322.2L399.6 322.2L400.1 322.2L400.6 322.1L401.1 322L401.6 321.8L402.1 321.5L402.6 321.1L403.1 320.6L403.6 320.1L404.1 319.5L404.6 318.8L405.1 318.1L405.6 317.5L406.1 317L406.6 316.6L407.1 316.4L407.6 316.4L408.1 316.6L408.6 317.1L409.1 317.7L409.6 318.4L410.1 319.2L410.6 320.1L411.1 320.9L411.6 321.7L412.1 322.4L412.6 323L413.1 323.5L413.6 323.9L414.1 324.3L414.6 324.5L415.1 324.8" fill="none" stroke="#e2464f" stroke-width="1.15" stroke-linejoin="round" />
<path d="M320.9 298.2L321.4 298.4L321.9 298.5L322.4 298.7L322.9 298.8L323.4 298.9L323.9 299L324.4 299.1L324.9 299.2L325.4 299.3L325.9 299.4L326.4 299.5L326.9 299.6L327.4 299.6L327.9 299.7L328.4 299.7L328.9 299.8L329.4 299.8L329.9 299.8L330.4 299.9L330.9 299.9L331.4 299.9L331.9 299.9L332.4 300L332.9 300L333.4 300L333.9 300L334.4 300L334.9 300L335.4 300L335.9 300L336.4 300L336.9 300L337.4 300L337.9 299.8L338.4 299.6L338.9 299.4L339.4 299L339.9 298.7L340.4 298.2L340.9 297.8L341.4 297.3L341.9 296.8L342.4 296.2L342.9 295.7L343.4 295.1L343.9 294.6L344.4 294L344.9 293.5L345.4 293L345.9 292.4L346.4 291.9L346.9 291.4L347.4 290.8L347.9 290.2L348.4 289.6L348.9 289L349.4 288.4L349.9 287.7L350.4 287.1L350.9 286.4L351.4 285.7L351.9 285L352.4 284.3L352.9 283.5L353.4 282.7L353.9 281.9L354.4 281.1L354.9 280.2L355.4 279.4L355.9 278.5L356.4 277.6L356.9 276.7L357.4 275.8L357.9 274.9L358.4 273.8L358.9 272.4L359.4 271.1L359.9 269.8L360.4 268.7L360.9 268L361.4 267.8L361.9 268.3L362.4 269.1L362.9 270L363.4 271L363.9 272.2L364.4 273.6L364.9 275L365.4 276.6L365.9 278.2L366.4 279.9L366.9 281.5L367.4 283.2L367.9 285.1L368.4 287.1L368.9 289.1L369.4 291.1L369.9 292.8L370.4 294.2L370.9 295.3L371.4 296.4L371.9 297.3L372.4 298.2L372.9 298.9L373.4 299.4L373.9 299.8L374.4 300.2L374.9 300.5L375.4 300.8L375.9 301.1L376.4 301.3L376.9 301.5L377.4 301.7L377.9 301.9L378.4 302L378.9 302.2L379.4 302.3L379.9 302.5L380.4 302.7L380.9 302.9L381.4 303.1L381.9 303.3L382.4 303.6L382.9 303.9L383.4 304.3L383.9 304.6L384.4 305.1L384.9 305.7L385.4 306.4L385.9 307.1L386.4 307.9L386.9 308.8L387.4 309.9L387.9 311L388.4 312.2L388.9 313.4L389.4 314.5L389.9 315.5L390.4 316.5L390.9 317.5L391.4 318.4L391.9 319.2L392.4 319.6L392.9 319.6L393.4 319.5L393.9 319.4L394.4 319.3L394.9 319.1L395.4 318.9L395.9 318.7L396.4 318.5L396.9 318.2L397.4 317.9L397.9 317.6L398.4 317.1L398.9 316.4L399.4 315.7L399.9 314.9L400.4 314.1L400.9 313.4L401.4 312.8L401.9 312.4L402.4 312.1L402.9 311.7L403.4 311.4L403.9 311.1L404.4 310.9L404.9 310.8L405.4 310.7L405.9 310.9L406.4 311.4L406.9 312.2L407.4 313.2L407.9 314.3L408.4 315.4L408.9 316.5L409.4 317.4L409.9 318.2L410.4 319L410.9 319.8L411.4 320.7L411.9 321.5L412.4 322.3L412.9 323.1L413.4 323.7L413.9 324.3L414.4 324.7L414.9 324.9L415.4 325L415.9 325L416.4 325L416.9 324.9L417.4 324.9L417.9 324.9L418.4 324.8L418.9 324.7L419.4 324.7L419.9 324.6L420.4 324.5L420.9 324.5L421.4 324.4L421.9 324.3L422.4 324.2L422.9 324.1L423.4 323.9L423.9 323.8L424.4 323.6L424.9 323.4L425.4 323.2L425.9 322.9L426.4 322.7L426.9 322.4L427.4 322.2L427.9 322L428.4 321.7L428.9 321.5L429.4 321.2L429.9 321L430.4 320.7L430.9 320.4L431.4 320.2L431.9 319.9L432.4 319.6L432.9 319.3L433.4 319L433.9 318.7L434.4 318.5L434.9 318.2L435.4 317.9L435.9 317.6L436.4 317.4L436.9 317.1L437.4 316.9L437.9 316.6L438.4 316.4L438.9 316.1L439.4 315.9L439.9 315.6L440.4 315.4L440.9 315.1L441.4 314.9L441.9 314.6L442.4 314.4" fill="none" stroke="#72bf56" stroke-width="1.35" stroke-linejoin="round" />
<path d="M320.9 298.5L321.4 299.8L321.9 296.8L322.4 300.3L322.9 298.7L323.4 298.2L323.9 298.3L324.4 298.1L324.9 299L325.4 300.1L325.9 300L326.4 300.1L326.9 298L327.4 298.1L327.9 301.2L328.4 300.7L328.9 301.8L329.4 301L329.9 298.9L330.4 301.1L330.9 300.5L331.4 300.1L331.9 299.2L332.4 300L332.9 299.8L333.4 300.8L333.9 300.1L334.4 301.5L334.9 299.3L335.4 300.4L335.9 300.5L336.4 299.2L336.9 299.4L337.4 300.5L337.9 300.1L338.4 299.6L338.9 299.6L339.4 298.7L339.9 298.8L340.4 297.9L340.9 297.9L341.4 297.8L341.9 296.6L342.4 296.7L342.9 295.2L343.4 295L343.9 293.9L344.4 294L344.9 293.5L345.4 292.9L345.9 292.3L346.4 292.6L346.9 292.1L347.4 290.2L347.9 290.8L348.4 288.8L348.9 288.7L349.4 288.3L349.9 287.8L350.4 286.6L350.9 286L351.4 285.7L351.9 284.7L352.4 283.9L352.9 283.8L353.4 283.2L353.9 281.9L354.4 281.1L354.9 280.2L355.4 279.2L355.9 278.3L356.4 277.1L356.9 277L357.4 275.7L357.9 274.8L358.4 273.9L358.9 272.7L359.4 271.8L359.9 269.6L360.4 268.5L360.9 268.1L361.4 267.4L361.9 268.9L362.4 269.6L362.9 270.4L363.4 271L363.9 272.6L364.4 274.1L364.9 275.3L365.4 276.5L365.9 277.4L366.4 280.4L366.9 281.3L367.4 282.8L367.9 285.5L368.4 287.3L368.9 288.4L369.4 291L369.9 292.7L370.4 294.7L370.9 294.4L371.4 296.2L371.9 297.3L372.4 298.9L372.9 298.3L373.4 298L373.9 299.1L374.4 300.3L374.9 300.9L375.4 301.7L375.9 301.3L376.4 300.9L376.9 301.9L377.4 301.7L377.9 301.8L378.4 302L378.9 302.8L379.4 301.9L379.9 302L380.4 302.7L380.9 302.9L381.4 302.7L381.9 302.9L382.4 303.8L382.9 304.6L383.4 304.6L383.9 305L384.4 305.8L384.9 304.7L385.4 305.7L385.9 306.8L386.4 307.3L386.9 308.3L387.4 309.9L387.9 310.4L388.4 312L388.9 312.4L389.4 314L389.9 316.2L390.4 316.2L390.9 317.6L391.4 318.8L391.9 318.9L392.4 319.8L392.9 319.7L393.4 319.9L393.9 319.1L394.4 318.6L394.9 318.6L395.4 318.7L395.9 319L396.4 318.4L396.9 318L397.4 317.8L397.9 318.2L398.4 316.8L398.9 317.2L399.4 315.1L399.9 314.6L400.4 314.6L400.9 313.7L401.4 312.4L401.9 312.4L402.4 311.7L402.9 312.1L403.4 311.7L403.9 310.8L404.4 311.1L404.9 310.6L405.4 310.7L405.9 310.9L406.4 311.1L406.9 312.4L407.4 313.4L407.9 314.5L408.4 315.9L408.9 316.3L409.4 316.7L409.9 318L410.4 319.1L410.9 319.8L411.4 320.9L411.9 321.9L412.4 322.2L412.9 323L413.4 323.2L413.9 324.8L414.4 324.6L414.9 324.4L415.4 323.9L415.9 324.6L416.4 326.5L416.9 325.7L417.4 323.3L417.9 324.7L418.4 325.1L418.9 325.3L419.4 325L419.9 324L420.4 324.9L420.9 323.9L421.4 322.2L421.9 323.6L422.4 323.5L422.9 325L423.4 324.9L423.9 322.8L424.4 323.7L424.9 323.5L425.4 321.8L425.9 321L426.4 322.6L426.9 322.6L427.4 321.6L427.9 319.4L428.4 321.7L428.9 320.9L429.4 320.4L429.9 320.7L430.4 319.6L430.9 321L431.4 320.2L431.9 319.4L432.4 319.9L432.9 319.3L433.4 317.6L433.9 318.6L434.4 318L434.9 316.5L435.4 317.3L435.9 318.1L436.4 316.8L436.9 318.5L437.4 318.5L437.9 316.3L438.4 316.9L438.9 318L439.4 315.5L439.9 314.8L440.4 315L440.9 313.8L441.4 313.6L441.9 314.8L442.4 314" fill="none" stroke="#2e2e2e" stroke-width="1.15" stroke-linejoin="round" stroke-dasharray="1.1 1.4"/>
<path d="M320.9 298.6L321.4 299.1L321.9 297.3L322.4 298.4L322.9 298.4L323.4 297.9L323.9 297.7L324.4 299.6L324.9 299L325.4 299.8L325.9 301L326.4 301.1L326.9 297.8L327.4 298.3L327.9 299.3L328.4 299.9L328.9 301.2L329.4 298.3L329.9 299.2L330.4 300.3L330.9 301.8L331.4 302.1L331.9 298.4L332.4 299.6L332.9 298.7L333.4 301.3L333.9 300.7L334.4 299.4L334.9 299.1L335.4 300.5L335.9 301.5L336.4 298.8L336.9 299.6L337.4 300.1L337.9 299.9L338.4 300L338.9 298.3L339.4 298.4L339.9 296.4L340.4 298.3L340.9 299L341.4 295L341.9 296.1L342.4 297.2L342.9 295.5L343.4 293L343.9 295.8L344.4 292.4L344.9 295L345.4 292.3L345.9 291.7L346.4 292L346.9 291.4L347.4 291.5L347.9 290.8L348.4 289.5L348.9 290.5L349.4 289.2L349.9 288L350.4 287.2L350.9 286.3L351.4 285.6L351.9 285.7L352.4 284.8L352.9 283.5L353.4 283.8L353.9 281.6L354.4 281.6L354.9 281.2L355.4 278.2L355.9 278.2L356.4 279.4L356.9 275.7L357.4 277.1L357.9 273.7L358.4 274.2L358.9 271.3L359.4 270.4L359.9 269.3L360.4 268.1L360.9 269.1L361.4 268.7L361.9 269.2L362.4 269.3L362.9 271.8L363.4 272.2L363.9 272.6L364.4 272.4L364.9 275.8L365.4 277.3L365.9 278.3L366.4 280.7L366.9 282.4L367.4 282.9L367.9 285.7L368.4 287.5L368.9 289.5L369.4 290.7L369.9 292.3L370.4 294.3L370.9 296.9L371.4 298.9L371.9 296.9L372.4 297L372.9 298.5L373.4 298.5L373.9 299.4L374.4 300.6L374.9 299.5L375.4 301.5L375.9 301.9L376.4 303L376.9 303.5L377.4 302.8L377.9 304.3L378.4 301.5L378.9 302.5L379.4 302.5L379.9 303L380.4 303.8L380.9 302.5L381.4 305L381.9 304.7L382.4 304L382.9 304.4L383.4 303.2L383.9 301.9L384.4 305.1L384.9 306.1L385.4 306.7L385.9 305.9L386.4 307.4L386.9 310.7L387.4 310.7L387.9 311.7L388.4 311.9L388.9 314.2L389.4 315.9L389.9 316.3L390.4 316L390.9 317.8L391.4 317.5L391.9 318.8L392.4 320.2L392.9 319L393.4 319.3L393.9 321L394.4 319.1L394.9 320L395.4 318.6L395.9 317.5L396.4 318.5L396.9 317.8L397.4 315.7L397.9 316.3L398.4 316.7L398.9 318.1L399.4 315.1L399.9 314.9L400.4 314.8L400.9 313.8L401.4 312.5L401.9 314.3L402.4 313.5L402.9 309.1L403.4 312.5L403.9 311.7L404.4 312L404.9 310.9L405.4 311.6L405.9 313L406.4 313.3L406.9 314.2L407.4 314.3L407.9 315.3L408.4 316.4L408.9 315.3L409.4 319.9L409.9 318.5L410.4 319.4L410.9 320L411.4 321.2L411.9 319.2L412.4 322.6L412.9 321.7L413.4 322.7L413.9 322.3L414.4 322.8L414.9 325.6L415.4 324.3L415.9 324.9L416.4 324.7L416.9 323.2L417.4 323.8L417.9 323L418.4 324.4L418.9 321.4L419.4 324.1L419.9 326L420.4 326.4L420.9 326.2L421.4 325.1L421.9 322.8L422.4 325.6L422.9 324.9L423.4 324.3L423.9 321.9L424.4 324.2L424.9 325.5L425.4 324.3L425.9 322.6L426.4 323.5L426.9 322.5L427.4 322.5L427.9 323.3L428.4 322.2L428.9 321.6L429.4 321.8L429.9 319.7L430.4 319.2L430.9 321.2L431.4 319.3L431.9 320.7L432.4 316.8L432.9 321.1L433.4 318.9L433.9 321.3L434.4 314.7L434.9 315.6L435.4 320.1L435.9 317.9L436.4 317.9L436.9 317.3L437.4 317.1L437.9 317.4L438.4 314.8L438.9 315.9L439.4 317.9L439.9 315.9L440.4 314.4L440.9 315.3L441.4 316.5L441.9 314.3L442.4 314.1" fill="none" stroke="#505050" stroke-width="0.85" stroke-linejoin="round" stroke-dasharray="0.8 2.6" stroke-opacity="0.75"/>
<path d="M338 349.6L338.5 349.6L339 349.7L339.5 349.8L340 349.8L340.5 349.9L341 350L341.5 350.1L342 350.1L342.5 350.2L343 350.4L343.5 350.5L344 350.6L344.5 350.7L345 350.8L345.5 350.9L346 351.1L346.5 351.2L347 351.3L347.5 351.5L348 351.6L348.5 351.8L349 351.9L349.5 352.1L350 352.3L350.5 352.4L351 352.6L351.5 352.9L352 353.1L352.5 353.3L353 353.5L353.5 353.8L354 354L354.5 354.3L355 354.6L355.5 354.8L356 355.1L356.5 355.4L357 355.6L357.5 355.9L358 356.1L358.5 356.4L359 356.7L359.5 356.9L360 357.2L360.5 357.4L361 357.7L361.5 358L362 358.3L362.5 358.6L363 358.8L363.5 359.1L364 359.4L364.5 359.7L365 360L365.5 360.2L366 360.5L366.5 360.8L367 361L367.5 361.3L368 361.5L368.5 361.7L369 361.9L369.5 362.1L370 362.3L370.5 362.5L371 362.7L371.5 362.9L372 363.1L372.5 363.3L373 363.5L373.5 363.7L374 363.8L374.5 364L375 364.2L375.5 364.4L376 364.5L376.5 364.7L377 364.8L377.5 365L378 365.1L378.5 365.3L379 365.4L379.5 365.6L380 365.7L380.5 365.9L381 366L381.5 366.1L382 366.3L382.5 366.4L383 366.5L383.5 366.6L384 366.8L384.5 366.9L385 367L385.5 367.1L386 367.2L386.5 367.4L387 367.5L387.5 367.6L388 367.7L388.5 367.8L389 367.9L389.5 368L390 368.1L390.5 368.2L391 368.3L391.5 368.4L392 368.5L392.5 368.6L393 368.7L393.5 368.8L394 368.8L394.5 368.9L395 369L395.5 369.1L396 369.1L396.5 369.2L397 369.3L397.5 369.3L398 369.4L398.5 369.4L399 369.5L399.5 369.5L400 369.6L400.5 369.6L401 369.7L401.5 369.7L402 369.8L402.5 369.8L403 369.9L403.5 369.9L404 370L404.5 370.1L405 370.1L405.5 370.2L406 370.2L406.5 370.3L407 370.4L407.5 370.5L408 370.5L408.5 370.6L409 370.7L409.5 370.8L410 370.8L410.5 370.9L411 371L411.5 371.1L412 371.2L412.5 371.3L413 371.4L413.5 371.5L414 371.6L414.5 371.6L415 371.7L415.5 371.8L416 371.9L416.5 372" fill="none" stroke="#a96f58" stroke-width="1.3" stroke-linejoin="round" />
<path d="M365.5 360.2L366 360.5L366.5 360.8L367 361L367.5 361.2L368 361.4L368.5 361.6L369 361.7L369.5 361.8L370 361.9L370.5 362L371 362L371.5 362L372 362L372.5 361.9L373 361.7L373.5 361.5L374 361.3L374.5 361L375 360.7L375.5 360.4L376 360.1L376.5 359.9L377 359.7L377.5 359.6L378 359.5L378.5 359.5L379 359.6L379.5 359.9L380 360.2L380.5 360.6L381 361L381.5 361.6L382 362.1L382.5 362.7L383 363.3L383.5 363.9L384 364.4L384.5 364.9L385 365.4L385.5 365.8L386 366.2L386.5 366.6L387 366.9L387.5 367.1L388 367.4L388.5 367.6L389 367.7L389.5 367.9L390 368L390.5 368.2L391 368.3L391.5 368.4L392 368.5" fill="none" stroke="#5468d0" stroke-width="1.15" stroke-linejoin="round" />
<path d="M373.7 363.7L374.2 363.9L374.7 364.1L375.2 364.2L375.7 364.4L376.2 364.5L376.7 364.6L377.2 364.7L377.7 364.7L378.2 364.8L378.7 364.7L379.2 364.7L379.7 364.6L380.2 364.4L380.7 364.3L381.2 364.1L381.7 364L382.2 363.8L382.7 363.8L383.2 363.8L383.7 363.9L384.2 364.1L384.7 364.3L385.2 364.7L385.7 365L386.2 365.4L386.7 365.9L387.2 366.3L387.7 366.6L388.2 367L388.7 367.3L389.2 367.6L389.7 367.8L390.2 368L390.7 368.1L391.2 368.3L391.7 368.4L392.2 368.5L392.7 368.6L393.2 368.7" fill="none" stroke="#e2464f" stroke-width="1.15" stroke-linejoin="round" />
<path d="M389.7 368L390.2 368.1L390.7 368.2L391.2 368.3L391.7 368.4L392.2 368.4L392.7 368.4L393.2 368.4L393.7 368.4L394.2 368.3L394.7 368.2L395.2 368.1L395.7 367.9L396.2 367.6L396.7 367.3L397.2 366.9L397.7 366.5L398.2 366L398.7 365.5L399.2 364.9L399.7 364.4L400.2 363.9L400.7 363.5L401.2 363.2L401.7 362.9L402.2 362.8L402.7 362.8L403.2 362.9L403.7 363.2L404.2 363.6L404.7 364L405.2 364.6L405.7 365.2L406.2 365.8L406.7 366.5L407.2 367.1L407.7 367.7L408.2 368.3L408.7 368.8L409.2 369.3L409.7 369.7L410.2 370L410.7 370.3L411.2 370.6L411.7 370.8L412.2 371L412.7 371.1L413.2 371.3L413.7 371.4L414.2 371.5L414.7 371.6L415.2 371.8" fill="none" stroke="#5468d0" stroke-width="1.15" stroke-linejoin="round" />
<path d="M396.4 369.2L396.9 369.2L397.4 369.3L397.9 369.3L398.4 369.3L398.9 369.3L399.4 369.3L399.9 369.2L400.4 369.1L400.9 368.9L401.4 368.6L401.9 368.3L402.4 367.9L402.9 367.5L403.4 367L403.9 366.6L404.4 366.1L404.9 365.8L405.4 365.5L405.9 365.4L406.4 365.4L406.9 365.5L407.4 365.9L407.9 366.3L408.4 366.8L408.9 367.4L409.4 368L409.9 368.6L410.4 369.2L410.9 369.7L411.4 370.1L411.9 370.5L412.4 370.8L412.9 371L413.4 371.2L413.9 371.4L414.4 371.5L414.9 371.7L415.4 371.8L415.9 371.9" fill="none" stroke="#e2464f" stroke-width="1.15" stroke-linejoin="round" />
<path d="M319.1 348.9L319.6 349L320.1 349L320.6 349.1L321.1 349.1L321.6 349.1L322.1 349.2L322.6 349.2L323.1 349.3L323.6 349.3L324.1 349.3L324.6 349.4L325.1 349.4L325.6 349.4L326.1 349.4L326.6 349.4L327.1 349.5L327.6 349.5L328.1 349.5L328.6 349.5L329.1 349.5L329.6 349.5L330.1 349.5L330.6 349.6L331.1 349.6L331.6 349.6L332.1 349.6L332.6 349.6L333.1 349.6L333.6 349.6L334.1 349.6L334.6 349.6L335.1 349.6L335.6 349.6L336.1 349.6L336.6 349.6L337.1 349.6L337.6 349.6L338.1 349.6L338.6 349.5L339.1 349.4L339.6 349.2L340.1 348.9L340.6 348.5L341.1 348.1L341.6 347.7L342.1 347.2L342.6 346.7L343.1 346.2L343.6 345.6L344.1 345.1L344.6 344.5L345.1 344L345.6 343.4L346.1 342.9L346.6 342.4L347.1 341.9L347.6 341.3L348.1 340.8L348.6 340.2L349.1 339.6L349.6 339L350.1 338.3L350.6 337.7L351.1 337L351.6 336.3L352.1 335.6L352.6 334.9L353.1 334.1L353.6 333.4L354.1 332.6L354.6 331.8L355.1 330.9L355.6 330.1L356.1 329.2L356.6 328.3L357.1 327.4L357.6 326.5L358.1 325.5L358.6 324.4L359.1 323.1L359.6 321.7L360.1 320.4L360.6 319.5L361.1 319L361.6 319L362.1 319.5L362.6 320.3L363.1 321.2L363.6 322.1L364.1 323.1L364.6 324.3L365.1 325.7L365.6 327L366.1 328.5L366.6 330L367.1 331.4L367.6 332.9L368.1 334.5L368.6 336.2L369.1 338L369.6 339.8L370.1 341.6L370.6 343.1L371.1 344.5L371.6 345.5L372.1 346.5L372.6 347.3L373.1 348.1L373.6 348.8L374.1 349.4L374.6 349.9L375.1 350.3L375.6 350.6L376.1 350.9L376.6 351.2L377.1 351.4L377.6 351.6L378.1 351.8L378.6 352L379.1 352.2L379.6 352.4L380.1 352.6L380.6 352.9L381.1 353.2L381.6 353.5L382.1 353.9L382.6 354.3L383.1 354.8L383.6 355.3L384.1 355.8L384.6 356.4L385.1 357L385.6 357.8L386.1 358.7L386.6 359.5L387.1 360.4L387.6 361.3L388.1 362.1L388.6 362.8L389.1 363.5L389.6 364.2L390.1 364.9L390.6 365.5L391.1 365.9L391.6 366.1L392.1 366.1L392.6 366L393.1 365.9L393.6 365.8L394.1 365.6L394.6 365.4L395.1 365.2L395.6 364.9L396.1 364.7L396.6 364.4L397.1 364.1L397.6 363.6L398.1 362.9L398.6 362.2L399.1 361.5L399.6 360.8L400.1 360.1L400.6 359.6L401.1 359.2L401.6 358.9L402.1 358.6L402.6 358.3L403.1 358L403.6 357.8L404.1 357.7L404.6 357.7L405.1 357.9L405.6 358.3L406.1 358.9L406.6 359.6L407.1 360.4L407.6 361.3L408.1 362.2L408.6 363.1L409.1 363.9L409.6 364.6L410.1 365.3L410.6 365.9L411.1 366.6L411.6 367.2L412.1 367.9L412.6 368.6L413.1 369.3L413.6 369.9L414.1 370.5L414.6 371L415.1 371.4L415.6 371.7L416.1 372L416.6 372.1L417.1 372.1L417.6 372.1L418.1 372.1L418.6 372L419.1 372L419.6 371.9L420.1 371.9L420.6 371.8L421.1 371.7L421.6 371.7L422.1 371.6L422.6 371.5L423.1 371.4L423.6 371.3L424.1 371.2L424.6 371.1L425.1 370.9L425.6 370.7L426.1 370.5L426.6 370.3L427.1 370L427.6 369.8L428.1 369.6L428.6 369.3L429.1 369.1L429.6 368.8L430.1 368.6L430.6 368.3L431.1 368.1L431.6 367.8L432.1 367.5L432.6 367.3L433.1 367L433.6 366.7L434.1 366.4L434.6 366.1L435.1 365.8L435.6 365.6L436.1 365.3L436.6 365.1L437.1 364.8L437.6 364.5L438.1 364.3L438.6 364L439.1 363.8L439.6 363.6L440.1 363.3L440.6 363.1L441.1 362.8L441.6 362.6L442.1 362.3" fill="none" stroke="#72bf56" stroke-width="1.35" stroke-linejoin="round" />
<path d="M319.1 347.6L319.6 347.8L320.1 347.8L320.6 348.5L321.1 350.5L321.6 347.6L322.1 350.1L322.6 350.4L323.1 348.9L323.6 348.6L324.1 349.8L324.6 350.5L325.1 351.4L325.6 350.2L326.1 350.9L326.6 349L327.1 348.6L327.6 347.8L328.1 348.4L328.6 349.2L329.1 349.7L329.6 348.3L330.1 350.3L330.6 349.5L331.1 349L331.6 348.8L332.1 351.5L332.6 349.7L333.1 348.7L333.6 348.7L334.1 351.3L334.6 349L335.1 350.7L335.6 351L336.1 347.4L336.6 350.9L337.1 349.4L337.6 348.6L338.1 349.3L338.6 349.8L339.1 349.6L339.6 349.4L340.1 348.5L340.6 349.2L341.1 348.9L341.6 348.6L342.1 347.7L342.6 347.6L343.1 347.2L343.6 346L344.1 345.5L344.6 344.8L345.1 344.2L345.6 343.8L346.1 342L346.6 342.2L347.1 342.1L347.6 340.3L348.1 340L348.6 341L349.1 339L349.6 338.7L350.1 338.5L350.6 337.4L351.1 336.6L351.6 336.1L352.1 335.4L352.6 334.6L353.1 334.2L353.6 334.2L354.1 332.8L354.6 332.6L355.1 331.3L355.6 330.5L356.1 329.5L356.6 328.1L357.1 327.6L357.6 326.6L358.1 325L358.6 324.8L359.1 323.4L359.6 321.9L360.1 320.2L360.6 318.2L361.1 319.7L361.6 319L362.1 318.4L362.6 320.7L363.1 320.8L363.6 322.4L364.1 323.1L364.6 324.9L365.1 325.8L365.6 327.2L366.1 328.6L366.6 330.6L367.1 330.8L367.6 333.5L368.1 334.8L368.6 335.9L369.1 338L369.6 339.6L370.1 341.6L370.6 343.6L371.1 344.1L371.6 345.9L372.1 346.9L372.6 347.7L373.1 348.9L373.6 348.8L374.1 349.8L374.6 351.2L375.1 350.3L375.6 350.6L376.1 350.9L376.6 351.5L377.1 351.1L377.6 351.5L378.1 350.9L378.6 351.5L379.1 351.7L379.6 351.8L380.1 352.4L380.6 353.2L381.1 353L381.6 352.8L382.1 354L382.6 354.4L383.1 354.1L383.6 355.3L384.1 355.3L384.6 356.1L385.1 356.7L385.6 358.2L386.1 358.2L386.6 359.4L387.1 360.5L387.6 361.8L388.1 362.7L388.6 362.3L389.1 364.1L389.6 364.4L390.1 365.5L390.6 366.1L391.1 365.7L391.6 366.1L392.1 365.9L392.6 366.2L393.1 366.7L393.6 365.8L394.1 365.3L394.6 366.7L395.1 364.7L395.6 364.9L396.1 364.7L396.6 363.8L397.1 364.5L397.6 364.1L398.1 362.9L398.6 362.2L399.1 361.4L399.6 359.9L400.1 360.2L400.6 359L401.1 358.8L401.6 359.1L402.1 359L402.6 357.9L403.1 358.6L403.6 358.7L404.1 357.8L404.6 357.7L405.1 358L405.6 358.1L406.1 358.4L406.6 359.9L407.1 360.8L407.6 361L408.1 362L408.6 362.8L409.1 363.6L409.6 364.2L410.1 364.5L410.6 366.3L411.1 366.4L411.6 367.3L412.1 368.8L412.6 368.4L413.1 369.5L413.6 369.2L414.1 370.1L414.6 371.3L415.1 371.3L415.6 371L416.1 371.2L416.6 372.3L417.1 371.2L417.6 372.7L418.1 372.3L418.6 371.7L419.1 371.9L419.6 372.6L420.1 371.9L420.6 370.9L421.1 372L421.6 371.3L422.1 371.4L422.6 372L423.1 371.7L423.6 372.3L424.1 371L424.6 370.6L425.1 370.6L425.6 371L426.1 369.7L426.6 369.9L427.1 369.2L427.6 369.1L428.1 369.4L428.6 371.6L429.1 368.7L429.6 369.1L430.1 368.7L430.6 368.2L431.1 368.1L431.6 369.6L432.1 367.3L432.6 368.7L433.1 367.6L433.6 365.9L434.1 365.8L434.6 365.7L435.1 364.8L435.6 366.6L436.1 365.7L436.6 365.5L437.1 363.8L437.6 365L438.1 363.8L438.6 366.3L439.1 363.7L439.6 363.8L440.1 363.7L440.6 362.6L441.1 362.5L441.6 362.2L442.1 363.1" fill="none" stroke="#2e2e2e" stroke-width="1.15" stroke-linejoin="round" stroke-dasharray="1.1 1.4"/>
<path d="M319.1 347.8L319.6 348.7L320.1 349.5L320.6 348.4L321.1 347L321.6 347.4L322.1 348.6L322.6 347.8L323.1 350.7L323.6 349.3L324.1 349.3L324.6 347.8L325.1 350.2L325.6 348.9L326.1 348L326.6 348.5L327.1 353L327.6 348.6L328.1 348.2L328.6 351.2L329.1 350.6L329.6 349.1L330.1 351.6L330.6 347.4L331.1 348.8L331.6 347.1L332.1 351.6L332.6 349.6L333.1 353.4L333.6 350.3L334.1 350.3L334.6 347.9L335.1 347.8L335.6 348.8L336.1 350.9L336.6 348L337.1 346L337.6 350.8L338.1 350.5L338.6 348.5L339.1 349.8L339.6 350.3L340.1 350.1L340.6 346.8L341.1 348.1L341.6 346.8L342.1 348.2L342.6 346.7L343.1 344.8L343.6 345.6L344.1 345.6L344.6 342.7L345.1 342.4L345.6 342.6L346.1 342.5L346.6 341.7L347.1 339.8L347.6 339.5L348.1 340.6L348.6 340.5L349.1 338.5L349.6 339L350.1 340.2L350.6 337.3L351.1 336.4L351.6 335.4L352.1 336L352.6 335L353.1 334.3L353.6 332.9L354.1 332.9L354.6 332.1L355.1 330.7L355.6 331.2L356.1 327.4L356.6 329L357.1 327.2L357.6 327.3L358.1 327.5L358.6 324.4L359.1 322.8L359.6 321.6L360.1 321.9L360.6 321.1L361.1 319.1L361.6 319.7L362.1 321.4L362.6 320.9L363.1 319.5L363.6 321.2L364.1 322.6L364.6 324.8L365.1 325L365.6 328.5L366.1 328L366.6 331.7L367.1 330.7L367.6 334.4L368.1 334.7L368.6 337.7L369.1 340.1L369.6 341.7L370.1 342.7L370.6 342.4L371.1 343.6L371.6 342.1L372.1 348.1L372.6 348.8L373.1 349.3L373.6 347.7L374.1 352.5L374.6 349.2L375.1 351.3L375.6 348.9L376.1 350.3L376.6 352.6L377.1 352.6L377.6 350.5L378.1 351.8L378.6 353.3L379.1 350.2L379.6 353.3L380.1 351L380.6 353.6L381.1 352.9L381.6 354.6L382.1 353.4L382.6 354L383.1 354.4L383.6 354.3L384.1 355.5L384.6 355.3L385.1 356.4L385.6 358.6L386.1 358.3L386.6 360.7L387.1 361.2L387.6 362.2L388.1 360.8L388.6 363.2L389.1 365.1L389.6 365.2L390.1 366.3L390.6 367.2L391.1 364.3L391.6 366.7L392.1 366.7L392.6 365.8L393.1 364.5L393.6 365.9L394.1 365.4L394.6 367.5L395.1 366.6L395.6 364.5L396.1 363.5L396.6 363.5L397.1 364L397.6 362.8L398.1 365.1L398.6 360.9L399.1 361.4L399.6 360.9L400.1 360.6L400.6 358.6L401.1 359L401.6 359.1L402.1 359L402.6 357.7L403.1 357.7L403.6 358.1L404.1 359.8L404.6 356.4L405.1 358.7L405.6 360L406.1 357.4L406.6 361.2L407.1 362L407.6 361.4L408.1 363.3L408.6 364.7L409.1 363.8L409.6 365L410.1 364.2L410.6 365.2L411.1 366.7L411.6 367.2L412.1 369.8L412.6 368.4L413.1 368L413.6 370.9L414.1 371.6L414.6 371.5L415.1 371.3L415.6 371L416.1 371.4L416.6 373.8L417.1 373.4L417.6 372.4L418.1 372.8L418.6 371.6L419.1 370.7L419.6 371.4L420.1 371.9L420.6 369.4L421.1 369.7L421.6 369.1L422.1 371L422.6 372.5L423.1 369.5L423.6 369.7L424.1 368.8L424.6 370.4L425.1 369.1L425.6 369.2L426.1 368.8L426.6 373.7L427.1 369.9L427.6 368.8L428.1 368.9L428.6 370.6L429.1 370.6L429.6 369.2L430.1 365.6L430.6 369.9L431.1 369.7L431.6 369L432.1 368.3L432.6 367.4L433.1 368.8L433.6 366.2L434.1 368L434.6 365.4L435.1 365.3L435.6 364.9L436.1 364.5L436.6 364.3L437.1 366L437.6 366.9L438.1 363.2L438.6 362.5L439.1 365.7L439.6 363.1L440.1 363.7L440.6 363.3L441.1 364.2L441.6 361.2L442.1 364.1" fill="none" stroke="#505050" stroke-width="0.85" stroke-linejoin="round" stroke-dasharray="0.8 2.6" stroke-opacity="0.75"/>
<rect x="141.9" y="11.1" width="154.2" height="172.8" fill="none" stroke="#2a2a2a" stroke-width="1.55"/>
<line x1="148.1" y1="183.9" x2="148.1" y2="182" stroke="#2a2a2a" stroke-width="1.1"/>
<line x1="154.2" y1="183.9" x2="154.2" y2="181" stroke="#2a2a2a" stroke-width="1.1"/>
<line x1="160.4" y1="183.9" x2="160.4" y2="182" stroke="#2a2a2a" stroke-width="1.1"/>
<line x1="166.6" y1="183.9" x2="166.6" y2="181" stroke="#2a2a2a" stroke-width="1.1"/>
<line x1="172.7" y1="183.9" x2="172.7" y2="182" stroke="#2a2a2a" stroke-width="1.1"/>
<line x1="178.9" y1="183.9" x2="178.9" y2="181" stroke="#2a2a2a" stroke-width="1.1"/>
<line x1="185.1" y1="183.9" x2="185.1" y2="182" stroke="#2a2a2a" stroke-width="1.1"/>
<line x1="191.2" y1="183.9" x2="191.2" y2="181" stroke="#2a2a2a" stroke-width="1.1"/>
<line x1="197.4" y1="183.9" x2="197.4" y2="182" stroke="#2a2a2a" stroke-width="1.1"/>
<line x1="203.6" y1="183.9" x2="203.6" y2="181" stroke="#2a2a2a" stroke-width="1.1"/>
<line x1="209.7" y1="183.9" x2="209.7" y2="182" stroke="#2a2a2a" stroke-width="1.1"/>
<line x1="215.9" y1="183.9" x2="215.9" y2="181" stroke="#2a2a2a" stroke-width="1.1"/>
<line x1="222.1" y1="183.9" x2="222.1" y2="182" stroke="#2a2a2a" stroke-width="1.1"/>
<line x1="228.3" y1="183.9" x2="228.3" y2="181" stroke="#2a2a2a" stroke-width="1.1"/>
<line x1="234.4" y1="183.9" x2="234.4" y2="182" stroke="#2a2a2a" stroke-width="1.1"/>
<line x1="240.6" y1="183.9" x2="240.6" y2="181" stroke="#2a2a2a" stroke-width="1.1"/>
<line x1="246.8" y1="183.9" x2="246.8" y2="182" stroke="#2a2a2a" stroke-width="1.1"/>
<line x1="252.9" y1="183.9" x2="252.9" y2="181" stroke="#2a2a2a" stroke-width="1.1"/>
<line x1="259.1" y1="183.9" x2="259.1" y2="182" stroke="#2a2a2a" stroke-width="1.1"/>
<line x1="265.3" y1="183.9" x2="265.3" y2="181" stroke="#2a2a2a" stroke-width="1.1"/>
<line x1="271.4" y1="183.9" x2="271.4" y2="182" stroke="#2a2a2a" stroke-width="1.1"/>
<line x1="277.6" y1="183.9" x2="277.6" y2="181" stroke="#2a2a2a" stroke-width="1.1"/>
<line x1="283.8" y1="183.9" x2="283.8" y2="182" stroke="#2a2a2a" stroke-width="1.1"/>
<line x1="289.9" y1="183.9" x2="289.9" y2="181" stroke="#2a2a2a" stroke-width="1.1"/>
<text x="141.9" y="192.7" class="tk" text-anchor="middle">100</text>
<text x="154.2" y="192.7" class="tk" text-anchor="middle">98</text>
<text x="166.6" y="192.7" class="tk" text-anchor="middle">96</text>
<text x="178.9" y="192.7" class="tk" text-anchor="middle">94</text>
<text x="191.2" y="192.7" class="tk" text-anchor="middle">92</text>
<text x="203.6" y="192.7" class="tk" text-anchor="middle">90</text>
<text x="215.9" y="192.7" class="tk" text-anchor="middle">88</text>
<text x="228.3" y="192.7" class="tk" text-anchor="middle">86</text>
<text x="240.6" y="192.7" class="tk" text-anchor="middle">84</text>
<text x="252.9" y="192.7" class="tk" text-anchor="middle">82</text>
<text x="265.3" y="192.7" class="tk" text-anchor="middle">80</text>
<text x="277.6" y="192.7" class="tk" text-anchor="middle">78</text>
<text x="289.9" y="192.7" class="tk" text-anchor="middle">76</text>
<text x="215.3" y="200.6" class="xl" text-anchor="middle" textLength="73.3" lengthAdjust="spacingAndGlyphs">Binding Energy (eV)</text>
<rect x="310.8" y="11.3" width="154.1" height="172.7" fill="none" stroke="#2a2a2a" stroke-width="1.55"/>
<line x1="317" y1="184" x2="317" y2="182.1" stroke="#2a2a2a" stroke-width="1.1"/>
<line x1="323.1" y1="184" x2="323.1" y2="181.1" stroke="#2a2a2a" stroke-width="1.1"/>
<line x1="329.3" y1="184" x2="329.3" y2="182.1" stroke="#2a2a2a" stroke-width="1.1"/>
<line x1="335.5" y1="184" x2="335.5" y2="181.1" stroke="#2a2a2a" stroke-width="1.1"/>
<line x1="341.6" y1="184" x2="341.6" y2="182.1" stroke="#2a2a2a" stroke-width="1.1"/>
<line x1="347.8" y1="184" x2="347.8" y2="181.1" stroke="#2a2a2a" stroke-width="1.1"/>
<line x1="353.9" y1="184" x2="353.9" y2="182.1" stroke="#2a2a2a" stroke-width="1.1"/>
<line x1="360.1" y1="184" x2="360.1" y2="181.1" stroke="#2a2a2a" stroke-width="1.1"/>
<line x1="366.3" y1="184" x2="366.3" y2="182.1" stroke="#2a2a2a" stroke-width="1.1"/>
<line x1="372.4" y1="184" x2="372.4" y2="181.1" stroke="#2a2a2a" stroke-width="1.1"/>
<line x1="378.6" y1="184" x2="378.6" y2="182.1" stroke="#2a2a2a" stroke-width="1.1"/>
<line x1="384.8" y1="184" x2="384.8" y2="181.1" stroke="#2a2a2a" stroke-width="1.1"/>
<line x1="390.9" y1="184" x2="390.9" y2="182.1" stroke="#2a2a2a" stroke-width="1.1"/>
<line x1="397.1" y1="184" x2="397.1" y2="181.1" stroke="#2a2a2a" stroke-width="1.1"/>
<line x1="403.3" y1="184" x2="403.3" y2="182.1" stroke="#2a2a2a" stroke-width="1.1"/>
<line x1="409.4" y1="184" x2="409.4" y2="181.1" stroke="#2a2a2a" stroke-width="1.1"/>
<line x1="415.6" y1="184" x2="415.6" y2="182.1" stroke="#2a2a2a" stroke-width="1.1"/>
<line x1="421.8" y1="184" x2="421.8" y2="181.1" stroke="#2a2a2a" stroke-width="1.1"/>
<line x1="427.9" y1="184" x2="427.9" y2="182.1" stroke="#2a2a2a" stroke-width="1.1"/>
<line x1="434.1" y1="184" x2="434.1" y2="181.1" stroke="#2a2a2a" stroke-width="1.1"/>
<line x1="440.2" y1="184" x2="440.2" y2="182.1" stroke="#2a2a2a" stroke-width="1.1"/>
<line x1="446.4" y1="184" x2="446.4" y2="181.1" stroke="#2a2a2a" stroke-width="1.1"/>
<line x1="452.6" y1="184" x2="452.6" y2="182.1" stroke="#2a2a2a" stroke-width="1.1"/>
<line x1="458.7" y1="184" x2="458.7" y2="181.1" stroke="#2a2a2a" stroke-width="1.1"/>
<text x="310.8" y="192.8" class="tk" text-anchor="middle">100</text>
<text x="323.1" y="192.8" class="tk" text-anchor="middle">98</text>
<text x="335.5" y="192.8" class="tk" text-anchor="middle">96</text>
<text x="347.8" y="192.8" class="tk" text-anchor="middle">94</text>
<text x="360.1" y="192.8" class="tk" text-anchor="middle">92</text>
<text x="372.4" y="192.8" class="tk" text-anchor="middle">90</text>
<text x="384.8" y="192.8" class="tk" text-anchor="middle">88</text>
<text x="397.1" y="192.8" class="tk" text-anchor="middle">86</text>
<text x="409.4" y="192.8" class="tk" text-anchor="middle">84</text>
<text x="421.8" y="192.8" class="tk" text-anchor="middle">82</text>
<text x="434.1" y="192.8" class="tk" text-anchor="middle">80</text>
<text x="446.4" y="192.8" class="tk" text-anchor="middle">78</text>
<text x="458.7" y="192.8" class="tk" text-anchor="middle">76</text>
<text x="384.2" y="200.7" class="xl" text-anchor="middle" textLength="73.3" lengthAdjust="spacingAndGlyphs">Binding Energy (eV)</text>
<rect x="480.2" y="11.3" width="153.8" height="172.2" fill="none" stroke="#2a2a2a" stroke-width="1.55"/>
<line x1="486.4" y1="183.5" x2="486.4" y2="181.6" stroke="#2a2a2a" stroke-width="1.1"/>
<line x1="492.5" y1="183.5" x2="492.5" y2="180.6" stroke="#2a2a2a" stroke-width="1.1"/>
<line x1="498.7" y1="183.5" x2="498.7" y2="181.6" stroke="#2a2a2a" stroke-width="1.1"/>
<line x1="504.8" y1="183.5" x2="504.8" y2="180.6" stroke="#2a2a2a" stroke-width="1.1"/>
<line x1="511" y1="183.5" x2="511" y2="181.6" stroke="#2a2a2a" stroke-width="1.1"/>
<line x1="517.1" y1="183.5" x2="517.1" y2="180.6" stroke="#2a2a2a" stroke-width="1.1"/>
<line x1="523.3" y1="183.5" x2="523.3" y2="181.6" stroke="#2a2a2a" stroke-width="1.1"/>
<line x1="529.4" y1="183.5" x2="529.4" y2="180.6" stroke="#2a2a2a" stroke-width="1.1"/>
<line x1="535.6" y1="183.5" x2="535.6" y2="181.6" stroke="#2a2a2a" stroke-width="1.1"/>
<line x1="541.7" y1="183.5" x2="541.7" y2="180.6" stroke="#2a2a2a" stroke-width="1.1"/>
<line x1="547.9" y1="183.5" x2="547.9" y2="181.6" stroke="#2a2a2a" stroke-width="1.1"/>
<line x1="554" y1="183.5" x2="554" y2="180.6" stroke="#2a2a2a" stroke-width="1.1"/>
<line x1="560.2" y1="183.5" x2="560.2" y2="181.6" stroke="#2a2a2a" stroke-width="1.1"/>
<line x1="566.3" y1="183.5" x2="566.3" y2="180.6" stroke="#2a2a2a" stroke-width="1.1"/>
<line x1="572.5" y1="183.5" x2="572.5" y2="181.6" stroke="#2a2a2a" stroke-width="1.1"/>
<line x1="578.6" y1="183.5" x2="578.6" y2="180.6" stroke="#2a2a2a" stroke-width="1.1"/>
<line x1="584.8" y1="183.5" x2="584.8" y2="181.6" stroke="#2a2a2a" stroke-width="1.1"/>
<line x1="590.9" y1="183.5" x2="590.9" y2="180.6" stroke="#2a2a2a" stroke-width="1.1"/>
<line x1="597.1" y1="183.5" x2="597.1" y2="181.6" stroke="#2a2a2a" stroke-width="1.1"/>
<line x1="603.2" y1="183.5" x2="603.2" y2="180.6" stroke="#2a2a2a" stroke-width="1.1"/>
<line x1="609.4" y1="183.5" x2="609.4" y2="181.6" stroke="#2a2a2a" stroke-width="1.1"/>
<line x1="615.5" y1="183.5" x2="615.5" y2="180.6" stroke="#2a2a2a" stroke-width="1.1"/>
<line x1="621.7" y1="183.5" x2="621.7" y2="181.6" stroke="#2a2a2a" stroke-width="1.1"/>
<line x1="627.8" y1="183.5" x2="627.8" y2="180.6" stroke="#2a2a2a" stroke-width="1.1"/>
<text x="480.2" y="192.3" class="tk" text-anchor="middle">100</text>
<text x="492.5" y="192.3" class="tk" text-anchor="middle">98</text>
<text x="504.8" y="192.3" class="tk" text-anchor="middle">96</text>
<text x="517.1" y="192.3" class="tk" text-anchor="middle">94</text>
<text x="529.4" y="192.3" class="tk" text-anchor="middle">92</text>
<text x="541.7" y="192.3" class="tk" text-anchor="middle">90</text>
<text x="554" y="192.3" class="tk" text-anchor="middle">88</text>
<text x="566.3" y="192.3" class="tk" text-anchor="middle">86</text>
<text x="578.6" y="192.3" class="tk" text-anchor="middle">84</text>
<text x="590.9" y="192.3" class="tk" text-anchor="middle">82</text>
<text x="603.2" y="192.3" class="tk" text-anchor="middle">80</text>
<text x="615.5" y="192.3" class="tk" text-anchor="middle">78</text>
<text x="627.8" y="192.3" class="tk" text-anchor="middle">76</text>
<text x="553.4" y="200.2" class="xl" text-anchor="middle" textLength="73.3" lengthAdjust="spacingAndGlyphs">Binding Energy (eV)</text>
<rect x="141.8" y="212.2" width="153.8" height="172.3" fill="none" stroke="#2a2a2a" stroke-width="1.55"/>
<line x1="148" y1="384.5" x2="148" y2="382.6" stroke="#2a2a2a" stroke-width="1.1"/>
<line x1="154.1" y1="384.5" x2="154.1" y2="381.6" stroke="#2a2a2a" stroke-width="1.1"/>
<line x1="160.3" y1="384.5" x2="160.3" y2="382.6" stroke="#2a2a2a" stroke-width="1.1"/>
<line x1="166.4" y1="384.5" x2="166.4" y2="381.6" stroke="#2a2a2a" stroke-width="1.1"/>
<line x1="172.6" y1="384.5" x2="172.6" y2="382.6" stroke="#2a2a2a" stroke-width="1.1"/>
<line x1="178.7" y1="384.5" x2="178.7" y2="381.6" stroke="#2a2a2a" stroke-width="1.1"/>
<line x1="184.9" y1="384.5" x2="184.9" y2="382.6" stroke="#2a2a2a" stroke-width="1.1"/>
<line x1="191" y1="384.5" x2="191" y2="381.6" stroke="#2a2a2a" stroke-width="1.1"/>
<line x1="197.2" y1="384.5" x2="197.2" y2="382.6" stroke="#2a2a2a" stroke-width="1.1"/>
<line x1="203.3" y1="384.5" x2="203.3" y2="381.6" stroke="#2a2a2a" stroke-width="1.1"/>
<line x1="209.5" y1="384.5" x2="209.5" y2="382.6" stroke="#2a2a2a" stroke-width="1.1"/>
<line x1="215.6" y1="384.5" x2="215.6" y2="381.6" stroke="#2a2a2a" stroke-width="1.1"/>
<line x1="221.8" y1="384.5" x2="221.8" y2="382.6" stroke="#2a2a2a" stroke-width="1.1"/>
<line x1="227.9" y1="384.5" x2="227.9" y2="381.6" stroke="#2a2a2a" stroke-width="1.1"/>
<line x1="234.1" y1="384.5" x2="234.1" y2="382.6" stroke="#2a2a2a" stroke-width="1.1"/>
<line x1="240.2" y1="384.5" x2="240.2" y2="381.6" stroke="#2a2a2a" stroke-width="1.1"/>
<line x1="246.4" y1="384.5" x2="246.4" y2="382.6" stroke="#2a2a2a" stroke-width="1.1"/>
<line x1="252.5" y1="384.5" x2="252.5" y2="381.6" stroke="#2a2a2a" stroke-width="1.1"/>
<line x1="258.7" y1="384.5" x2="258.7" y2="382.6" stroke="#2a2a2a" stroke-width="1.1"/>
<line x1="264.8" y1="384.5" x2="264.8" y2="381.6" stroke="#2a2a2a" stroke-width="1.1"/>
<line x1="271" y1="384.5" x2="271" y2="382.6" stroke="#2a2a2a" stroke-width="1.1"/>
<line x1="277.1" y1="384.5" x2="277.1" y2="381.6" stroke="#2a2a2a" stroke-width="1.1"/>
<line x1="283.3" y1="384.5" x2="283.3" y2="382.6" stroke="#2a2a2a" stroke-width="1.1"/>
<line x1="289.4" y1="384.5" x2="289.4" y2="381.6" stroke="#2a2a2a" stroke-width="1.1"/>
<text x="141.8" y="394" class="tk" text-anchor="middle">100</text>
<text x="154.1" y="394" class="tk" text-anchor="middle">98</text>
<text x="166.4" y="394" class="tk" text-anchor="middle">96</text>
<text x="178.7" y="394" class="tk" text-anchor="middle">94</text>
<text x="191" y="394" class="tk" text-anchor="middle">92</text>
<text x="203.3" y="394" class="tk" text-anchor="middle">90</text>
<text x="215.6" y="394" class="tk" text-anchor="middle">88</text>
<text x="227.9" y="394" class="tk" text-anchor="middle">86</text>
<text x="240.2" y="394" class="tk" text-anchor="middle">84</text>
<text x="252.5" y="394" class="tk" text-anchor="middle">82</text>
<text x="264.8" y="394" class="tk" text-anchor="middle">80</text>
<text x="277.1" y="394" class="tk" text-anchor="middle">78</text>
<text x="289.4" y="394" class="tk" text-anchor="middle">76</text>
<text x="215" y="401.7" class="xl" text-anchor="middle" textLength="73.3" lengthAdjust="spacingAndGlyphs">Binding Energy (eV)</text>
<rect x="310.2" y="212.3" width="154" height="172.2" fill="none" stroke="#2a2a2a" stroke-width="1.55"/>
<line x1="316.4" y1="384.5" x2="316.4" y2="382.6" stroke="#2a2a2a" stroke-width="1.1"/>
<line x1="322.5" y1="384.5" x2="322.5" y2="381.6" stroke="#2a2a2a" stroke-width="1.1"/>
<line x1="328.7" y1="384.5" x2="328.7" y2="382.6" stroke="#2a2a2a" stroke-width="1.1"/>
<line x1="334.8" y1="384.5" x2="334.8" y2="381.6" stroke="#2a2a2a" stroke-width="1.1"/>
<line x1="341" y1="384.5" x2="341" y2="382.6" stroke="#2a2a2a" stroke-width="1.1"/>
<line x1="347.2" y1="384.5" x2="347.2" y2="381.6" stroke="#2a2a2a" stroke-width="1.1"/>
<line x1="353.3" y1="384.5" x2="353.3" y2="382.6" stroke="#2a2a2a" stroke-width="1.1"/>
<line x1="359.5" y1="384.5" x2="359.5" y2="381.6" stroke="#2a2a2a" stroke-width="1.1"/>
<line x1="365.6" y1="384.5" x2="365.6" y2="382.6" stroke="#2a2a2a" stroke-width="1.1"/>
<line x1="371.8" y1="384.5" x2="371.8" y2="381.6" stroke="#2a2a2a" stroke-width="1.1"/>
<line x1="378" y1="384.5" x2="378" y2="382.6" stroke="#2a2a2a" stroke-width="1.1"/>
<line x1="384.1" y1="384.5" x2="384.1" y2="381.6" stroke="#2a2a2a" stroke-width="1.1"/>
<line x1="390.3" y1="384.5" x2="390.3" y2="382.6" stroke="#2a2a2a" stroke-width="1.1"/>
<line x1="396.4" y1="384.5" x2="396.4" y2="381.6" stroke="#2a2a2a" stroke-width="1.1"/>
<line x1="402.6" y1="384.5" x2="402.6" y2="382.6" stroke="#2a2a2a" stroke-width="1.1"/>
<line x1="408.8" y1="384.5" x2="408.8" y2="381.6" stroke="#2a2a2a" stroke-width="1.1"/>
<line x1="414.9" y1="384.5" x2="414.9" y2="382.6" stroke="#2a2a2a" stroke-width="1.1"/>
<line x1="421.1" y1="384.5" x2="421.1" y2="381.6" stroke="#2a2a2a" stroke-width="1.1"/>
<line x1="427.2" y1="384.5" x2="427.2" y2="382.6" stroke="#2a2a2a" stroke-width="1.1"/>
<line x1="433.4" y1="384.5" x2="433.4" y2="381.6" stroke="#2a2a2a" stroke-width="1.1"/>
<line x1="439.6" y1="384.5" x2="439.6" y2="382.6" stroke="#2a2a2a" stroke-width="1.1"/>
<line x1="445.7" y1="384.5" x2="445.7" y2="381.6" stroke="#2a2a2a" stroke-width="1.1"/>
<line x1="451.9" y1="384.5" x2="451.9" y2="382.6" stroke="#2a2a2a" stroke-width="1.1"/>
<line x1="458" y1="384.5" x2="458" y2="381.6" stroke="#2a2a2a" stroke-width="1.1"/>
<text x="310.2" y="394" class="tk" text-anchor="middle">100</text>
<text x="322.5" y="394" class="tk" text-anchor="middle">98</text>
<text x="334.8" y="394" class="tk" text-anchor="middle">96</text>
<text x="347.2" y="394" class="tk" text-anchor="middle">94</text>
<text x="359.5" y="394" class="tk" text-anchor="middle">92</text>
<text x="371.8" y="394" class="tk" text-anchor="middle">90</text>
<text x="384.1" y="394" class="tk" text-anchor="middle">88</text>
<text x="396.4" y="394" class="tk" text-anchor="middle">86</text>
<text x="408.8" y="394" class="tk" text-anchor="middle">84</text>
<text x="421.1" y="394" class="tk" text-anchor="middle">82</text>
<text x="433.4" y="394" class="tk" text-anchor="middle">80</text>
<text x="445.7" y="394" class="tk" text-anchor="middle">78</text>
<text x="458" y="394" class="tk" text-anchor="middle">76</text>
<text x="383.5" y="401.7" class="xl" text-anchor="middle" textLength="73.3" lengthAdjust="spacingAndGlyphs">Binding Energy (eV)</text>
<text x="146.6" y="28.4" class="pl">a</text>
<text x="315.8" y="29.4" class="pl">b</text>
<text x="484.9" y="27.9" class="pl">c</text>
<text x="146.3" y="230" class="pl">d</text>
<text x="315.2" y="231.2" class="pl">e</text>
<text x="267.5" y="27.5" class="py" text-anchor="start" textLength="23.2" lengthAdjust="spacingAndGlyphs">Py0</text>
<text x="436.6" y="28.1" class="py" text-anchor="start" textLength="22.9" lengthAdjust="spacingAndGlyphs">Py1</text>
<text x="605.9" y="27.9" class="py" text-anchor="start" textLength="22.6" lengthAdjust="spacingAndGlyphs">Py2</text>
<text x="267.2" y="228.7" class="py" text-anchor="start" textLength="22.6" lengthAdjust="spacingAndGlyphs">Py3</text>
<text x="434.7" y="229.8" class="py" text-anchor="start" textLength="23.0" lengthAdjust="spacingAndGlyphs">Py4</text>
<text x="170.4" y="33.5" class="ab" text-anchor="start" textLength="19.4" lengthAdjust="spacingAndGlyphs">Fe 3s</text>
<text x="165.6" y="44.4" class="ab" text-anchor="start" textLength="28.9" lengthAdjust="spacingAndGlyphs">93.8 eV</text>
<text x="228.5" y="23.5" class="ab" text-anchor="start" textLength="22.8" lengthAdjust="spacingAndGlyphs">Mg 2s</text>
<text x="225.3" y="34.4" class="ab" text-anchor="start" textLength="29.0" lengthAdjust="spacingAndGlyphs">89.4 eV</text>
<line x1="179.3" y1="46.2" x2="179.3" y2="55.6" stroke="#2d5c98" stroke-width="1.25" marker-end="url(#ah)"/>
<line x1="225.9" y1="24.9" x2="206.6" y2="24.9" stroke="#2d5c98" stroke-width="1.25" marker-end="url(#ah)"/>
<text x="389.7" y="50.2" class="lb" text-anchor="start" textLength="30.9" lengthAdjust="spacingAndGlyphs">85.0 eV</text>
<text x="425.3" y="50.2" class="lb" text-anchor="start" textLength="30.9" lengthAdjust="spacingAndGlyphs">84.1 eV</text>
<line x1="403.1" y1="51" x2="403.1" y2="64.2" stroke="#2d5c98" stroke-width="1.25" marker-end="url(#ah)"/>
<line x1="425.2" y1="53.3" x2="408.5" y2="64.6" stroke="#2d5c98" stroke-width="1.25" marker-end="url(#ah)"/>
<text x="425.2" y="100.3" class="lb" text-anchor="start" textLength="30.9" lengthAdjust="spacingAndGlyphs">84.1 eV</text>
<line x1="425.4" y1="101.2" x2="409.2" y2="112.3" stroke="#2d5c98" stroke-width="1.25" marker-end="url(#ah)"/>
<text x="425.2" y="152.9" class="lb" text-anchor="start" textLength="30.9" lengthAdjust="spacingAndGlyphs">84.1 eV</text>
<line x1="425.7" y1="153.4" x2="409.5" y2="164.5" stroke="#2d5c98" stroke-width="1.25" marker-end="url(#ah)"/>
<text x="595.2" y="45.6" class="lb" text-anchor="start" textLength="30.9" lengthAdjust="spacingAndGlyphs">84.1 eV</text>
<line x1="594.8" y1="45.4" x2="578.6" y2="56.5" stroke="#2d5c98" stroke-width="1.25" marker-end="url(#ah)"/>
<text x="595.5" y="100.7" class="lb" text-anchor="start" textLength="30.9" lengthAdjust="spacingAndGlyphs">84.1 eV</text>
<line x1="595.7" y1="100.4" x2="579.5" y2="111.5" stroke="#2d5c98" stroke-width="1.25" marker-end="url(#ah)"/>
<text x="595.2" y="151.7" class="lb" text-anchor="start" textLength="30.9" lengthAdjust="spacingAndGlyphs">84.2 eV</text>
<line x1="595.2" y1="151.3" x2="579" y2="162.4" stroke="#2d5c98" stroke-width="1.25" marker-end="url(#ah)"/>
<text x="256.4" y="252" class="lb" text-anchor="start" textLength="30.9" lengthAdjust="spacingAndGlyphs">84.1 eV</text>
<line x1="256.6" y1="253" x2="240.4" y2="264.1" stroke="#2d5c98" stroke-width="1.25" marker-end="url(#ah)"/>
<text x="255.5" y="302.1" class="lb" text-anchor="start" textLength="30.9" lengthAdjust="spacingAndGlyphs">84.2 eV</text>
<line x1="255.9" y1="302.4" x2="239.7" y2="313.5" stroke="#2d5c98" stroke-width="1.25" marker-end="url(#ah)"/>
<text x="256.4" y="348.9" class="lb" text-anchor="start" textLength="30.9" lengthAdjust="spacingAndGlyphs">84.1 eV</text>
<line x1="256.8" y1="349" x2="240.6" y2="360.1" stroke="#2d5c98" stroke-width="1.25" marker-end="url(#ah)"/>
<text x="424.4" y="250.4" class="lb" text-anchor="start" textLength="30.9" lengthAdjust="spacingAndGlyphs">84.3 eV</text>
<line x1="425" y1="251.1" x2="408.8" y2="262.2" stroke="#2d5c98" stroke-width="1.25" marker-end="url(#ah)"/>
<text x="424.4" y="304.1" class="lb" text-anchor="start" textLength="30.9" lengthAdjust="spacingAndGlyphs">84.2 eV</text>
<line x1="425" y1="304.5" x2="408.8" y2="315.6" stroke="#2d5c98" stroke-width="1.25" marker-end="url(#ah)"/>
<text x="424.4" y="352.1" class="lb" text-anchor="start" textLength="30.9" lengthAdjust="spacingAndGlyphs">84.4 eV</text>
<line x1="424.6" y1="352.7" x2="408.4" y2="363.8" stroke="#2d5c98" stroke-width="1.25" marker-end="url(#ah)"/>
<line x1="142.4" y1="362.7" x2="167.2" y2="362.7" stroke="#e2464f" stroke-width="1.1"/>
<line x1="142.4" y1="376.5" x2="167.2" y2="376.5" stroke="#5468d0" stroke-width="1.1"/>
<text x="168.4" y="366.5" class="lg">Au<tspan class="sup" dx="-0.4" dy="-4.4">0</tspan></text>
<text x="168.4" y="380.3" class="lg">Au<tspan class="sup" dx="-0.4" dy="-4.4">+</tspan></text>
<line x1="311" y1="162.4" x2="335.8" y2="162.4" stroke="#e2464f" stroke-width="1.1"/>
<line x1="311" y1="176.7" x2="335.8" y2="176.7" stroke="#5468d0" stroke-width="1.1"/>
<text x="337" y="166.2" class="lg">Au<tspan class="sup" dx="-0.4" dy="-4.4">0</tspan></text>
<text x="337" y="180.5" class="lg">Au<tspan class="sup" dx="-0.4" dy="-4.4">+</tspan></text>
<line x1="480.8" y1="162.2" x2="505.6" y2="162.2" stroke="#e2464f" stroke-width="1.1"/>
<line x1="480.8" y1="176" x2="505.6" y2="176" stroke="#5468d0" stroke-width="1.1"/>
<text x="506.8" y="166" class="lg">Au<tspan class="sup" dx="-0.4" dy="-4.4">0</tspan></text>
<text x="506.8" y="179.8" class="lg">Au<tspan class="sup" dx="-0.4" dy="-4.4">+</tspan></text>
<line x1="311" y1="363.3" x2="335.8" y2="363.3" stroke="#e2464f" stroke-width="1.1"/>
<line x1="311" y1="377.1" x2="335.8" y2="377.1" stroke="#5468d0" stroke-width="1.1"/>
<text x="337" y="367.1" class="lg">Au<tspan class="sup" dx="-0.4" dy="-4.4">0</tspan></text>
<text x="337" y="380.9" class="lg">Au<tspan class="sup" dx="-0.4" dy="-4.4">+</tspan></text>
</svg>
</body></html>
